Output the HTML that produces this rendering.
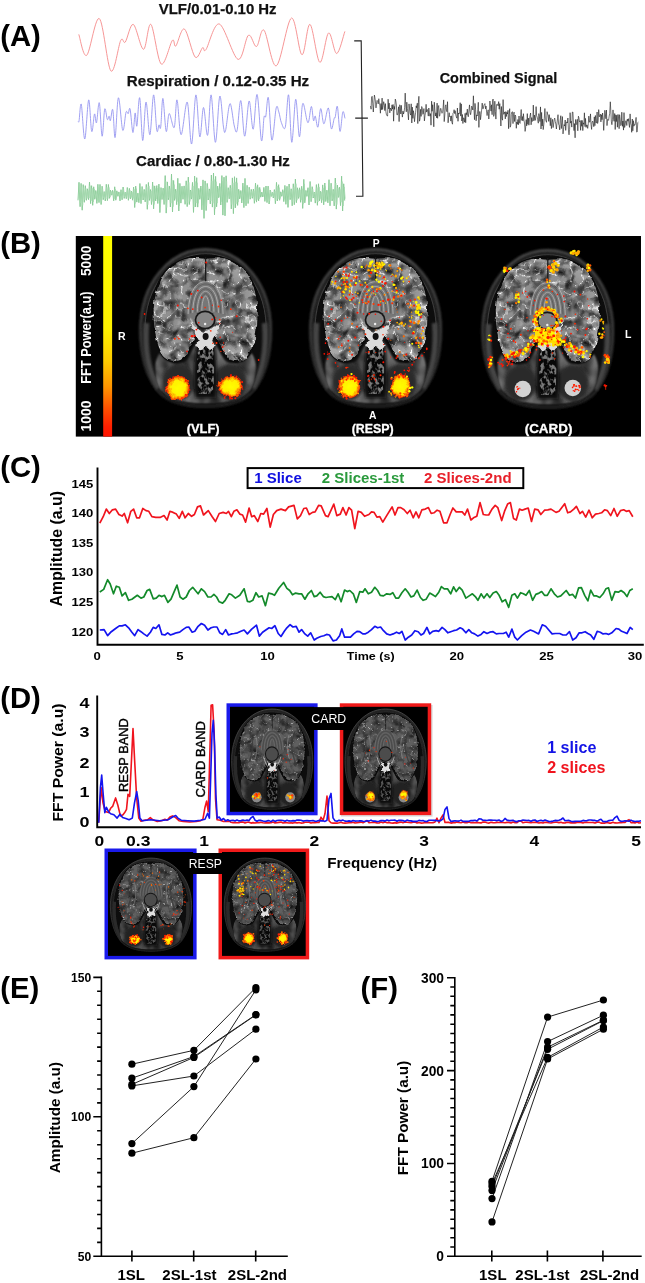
<!DOCTYPE html>
<html lang="en"><head><meta charset="utf-8"><title>Figure</title>
<style>html,body{margin:0;padding:0;background:#fff}body{width:645px;height:1283px;overflow:hidden}svg{display:block}text{font-family:"Liberation Sans",sans-serif}</style></head><body>
<svg width="645" height="1283" viewBox="0 0 645 1283">
<defs>
<linearGradient id="cb" x1="0" y1="0" x2="0" y2="1"><stop offset="0" stop-color="#ffff00"/><stop offset="0.46" stop-color="#fff200"/><stop offset="0.62" stop-color="#ffcc00"/><stop offset="0.75" stop-color="#ff9600"/><stop offset="0.86" stop-color="#ff5000"/><stop offset="0.95" stop-color="#ff2000"/><stop offset="1" stop-color="#ff1400"/></linearGradient>
<filter id="btex" x="-0.05" y="-0.05" width="1.1" height="1.1" color-interpolation-filters="sRGB"><feTurbulence type="turbulence" baseFrequency="0.085 0.085" numOctaves="2" seed="12" result="n"/><feColorMatrix in="n" type="matrix" values="-7 0 0 0 0.9  -7 0 0 0 0.9  -7 0 0 0 0.9  0 0 0 0 1" result="ridge"/><feTurbulence type="fractalNoise" baseFrequency="0.11 0.11" numOctaves="2" seed="5" result="n2"/><feColorMatrix in="n2" type="matrix" values="1.9 0 0 0 -0.22  1.9 0 0 0 -0.22  1.9 0 0 0 -0.22  0 0 0 0 1" result="g2"/><feComposite in="g2" in2="SourceGraphic" operator="arithmetic" k1="1.1" k2="0.0" k3="0.12" k4="0" result="m0"/><feComposite in="ridge" in2="m0" operator="arithmetic" k1="0" k2="0.42" k3="1" k4="0" result="m1"/><feGaussianBlur in="m1" stdDeviation="0.5" result="m"/><feComposite in="m" in2="SourceGraphic" operator="in"/></filter>
<filter id="dtex" x="-0.05" y="-0.05" width="1.1" height="1.1" color-interpolation-filters="sRGB"><feTurbulence type="turbulence" baseFrequency="0.09 0.09" numOctaves="2" seed="21" result="n"/><feColorMatrix in="n" type="matrix" values="-8 0 0 0 0.8  -8 0 0 0 0.8  -8 0 0 0 0.8  0 0 0 0 1" result="ridge"/><feTurbulence type="fractalNoise" baseFrequency="0.1 0.1" numOctaves="2" seed="15" result="n2"/><feColorMatrix in="n2" type="matrix" values="1.5 0 0 0 0.05  1.5 0 0 0 0.05  1.5 0 0 0 0.05  0 0 0 0 1" result="g2"/><feComposite in="g2" in2="SourceGraphic" operator="arithmetic" k1="1.1" k2="0.0" k3="0.1" k4="0" result="m0"/><feComposite in="ridge" in2="m0" operator="arithmetic" k1="0" k2="0.36" k3="1" k4="0" result="m1"/><feGaussianBlur in="m1" stdDeviation="0.5" result="m"/><feComposite in="m" in2="SourceGraphic" operator="in"/></filter>
<filter id="ftex" x="-0.05" y="-0.05" width="1.1" height="1.1" color-interpolation-filters="sRGB"><feTurbulence type="fractalNoise" baseFrequency="0.07 0.05" numOctaves="2" seed="3" result="n"/><feColorMatrix in="n" type="matrix" values="2.2 0 0 0 -0.55  2.2 0 0 0 -0.55  2.2 0 0 0 -0.55  0 0 0 0 1" result="g"/><feGaussianBlur in="SourceGraphic" stdDeviation="1.0" result="sg"/><feComposite in="g" in2="sg" operator="arithmetic" k1="1.0" k2="0" k3="0.45" k4="0" result="m"/><feComposite in="m" in2="sg" operator="in"/></filter>
<filter id="ntex" x="-0.1" y="-0.05" width="1.2" height="1.1" color-interpolation-filters="sRGB"><feTurbulence type="fractalNoise" baseFrequency="0.3 0.22" numOctaves="2" seed="9" result="n"/><feColorMatrix in="n" type="matrix" values="4.5 0 0 0 -2.0  4.5 0 0 0 -2.0  4.5 0 0 0 -2.0  0 0 0 0 1" result="g"/><feGaussianBlur in="g" stdDeviation="0.5" result="gb"/><feComposite in="gb" in2="SourceGraphic" operator="in"/></filter>
<filter id="rough" x="-0.1" y="-0.1" width="1.2" height="1.2"><feTurbulence type="fractalNoise" baseFrequency="0.12" numOctaves="2" seed="2" result="t"/><feDisplacementMap in="SourceGraphic" in2="t" scale="5" xChannelSelector="R" yChannelSelector="G"/><feGaussianBlur stdDeviation="0.4"/></filter>
<filter id="rough2" x="-0.2" y="-0.2" width="1.4" height="1.4"><feTurbulence type="fractalNoise" baseFrequency="0.2" numOctaves="2" seed="8" result="t"/><feDisplacementMap in="SourceGraphic" in2="t" scale="6" xChannelSelector="R" yChannelSelector="G"/><feGaussianBlur stdDeviation="0.35"/></filter>
<filter id="bl1" x="-0.2" y="-0.2" width="1.4" height="1.4"><feGaussianBlur stdDeviation="0.8"/></filter>
<filter id="bl2" x="-0.3" y="-0.3" width="1.6" height="1.6"><feGaussianBlur stdDeviation="1.6"/></filter>
<filter id="bl05" x="-0.2" y="-0.2" width="1.4" height="1.4"><feGaussianBlur stdDeviation="0.45"/></filter>
<radialGradient id="bg" cx="0" cy="-20" r="56" gradientUnits="userSpaceOnUse"><stop offset="0" stop-color="#747474"/><stop offset="0.7" stop-color="#767676"/><stop offset="1" stop-color="#8a8a8a"/></radialGradient>
<linearGradient id="scg" gradientUnits="userSpaceOnUse" x1="0" y1="-79" x2="0" y2="79"><stop offset="0" stop-color="#5c5c5c"/><stop offset="0.55" stop-color="#484848"/><stop offset="1" stop-color="#2a2a2a"/></linearGradient>
<linearGradient id="scgD" gradientUnits="userSpaceOnUse" x1="0" y1="-79" x2="0" y2="79"><stop offset="0" stop-color="#444"/><stop offset="0.55" stop-color="#363636"/><stop offset="1" stop-color="#222"/></linearGradient>
<linearGradient id="scf" gradientUnits="userSpaceOnUse" x1="0" y1="-79" x2="0" y2="79"><stop offset="0" stop-color="#242424"/><stop offset="0.5" stop-color="#1e1e1e"/><stop offset="1" stop-color="#141414"/></linearGradient>
<radialGradient id="hot" cx="0.5" cy="0.5" r="0.5"><stop offset="0" stop-color="#ffff00"/><stop offset="0.62" stop-color="#fff000"/><stop offset="0.8" stop-color="#ffa000"/><stop offset="1" stop-color="#ff2000" stop-opacity="0.9"/></radialGradient>
<g id="brainbase"><path d="M0,-79C36,-79 65.5,-45 65.5,2C65.5,30 58,50 49,62C41,72 25,79 0,79C-25,79 -41,72 -49,62C-58,50 -65.5,30 -65.5,2C-65.5,-45 -36,-79 0,-79Z" fill="url(#scf)" stroke="url(#scg)" stroke-width="1.5" filter="url(#bl1)"/><path d="M0,-79C36,-79 65.5,-45 65.5,2C65.5,30 58,50 49,62C41,72 25,79 0,79C-25,79 -41,72 -49,62C-58,50 -65.5,30 -65.5,2C-65.5,-45 -36,-79 0,-79Z" transform="scale(0.925 0.94)" fill="#0a0a0a" stroke="#3c3c3c" stroke-width="1.2" filter="url(#bl1)"/><path d="M-59,-5C-61,20 -57,44 -47,60M59,-5C61,20 57,44 47,60" fill="none" stroke="#444" stroke-width="5.5" filter="url(#bl1)"/><path d="M-46,24C-40,34 -28,38 -20,32C-15,26 -12,16 -8,12H8C12,16 15,26 20,32C28,38 40,34 46,24C54,34 52,52 46,62C38,72 22,76 0,76C-22,76 -38,72 -46,62C-52,52 -54,34 -46,24Z" fill="#4c4c4c" filter="url(#ftex)"/><ellipse cx="-27" cy="54" rx="16" ry="18" fill="#2a2a2a" filter="url(#bl2)"/><ellipse cx="25" cy="54" rx="16" ry="18" fill="#2a2a2a" filter="url(#bl2)"/><path d="M-9,14H9C11,30 13,50 10,70H-10C-13,50 -11,30 -9,14Z" fill="#101010" filter="url(#bl2)"/><g filter="url(#bl05)"><path d="M-7,18H7C9,30 9,50 7,66H-7C-9,50 -9,30 -7,18Z" fill="#fff" filter="url(#ntex)" opacity="0.45"/></g><path d="M0,-70C12,-73 30,-69 41,-55C50,-43 53,-25 52,-8C51,8 48,20 42,28C37,34 28,35 22,30C17,25 14,17 11,9C8,5 4,6 0,6C-4,6 -8,5 -11,9C-14,17 -17,25 -22,30C-28,35 -37,34 -42,28C-48,20 -51,8 -52,-8C-53,-25 -50,-43 -41,-55C-30,-69 -12,-73 0,-70Z" fill="#0a0a0a" stroke="#0a0a0a" stroke-width="2.5"/><g filter="url(#rough)"><path d="M0,-70C12,-73 30,-69 41,-55C50,-43 53,-25 52,-8C51,8 48,20 42,28C37,34 28,35 22,30C17,25 14,17 11,9C8,5 4,6 0,6C-4,6 -8,5 -11,9C-14,17 -17,25 -22,30C-28,35 -37,34 -42,28C-48,20 -51,8 -52,-8C-53,-25 -50,-43 -41,-55C-30,-69 -12,-73 0,-70Z" fill="url(#bg)" filter="url(#btex)"/></g><path d="M0,-71V-46" stroke="#1a1a1a" stroke-width="1.3" fill="none"/><path d="M-36,-42C-30,-30 -31,-12 -37,4M36,-42C30,-30 31,-12 37,4" stroke="#555" stroke-width="2.2" fill="none" filter="url(#bl1)" opacity="0.8"/><path d="M-27,-38C-23,-25 -24,-10 -28,0M27,-38C23,-25 24,-10 28,0" stroke="#c8c8c8" stroke-width="1.2" fill="none" filter="url(#bl1)" opacity="0.7"/><path d="M-19,-12C-21,-30 -10,-45 0,-46C10,-45 21,-30 19,-12C12,-4 -12,-4 -19,-12Z" fill="#777" filter="url(#bl1)"/><path d="M-17.5,-14.0C-16.6,-43.2 -5.2,-46.4 0,-46.4C5.2,-46.4 16.6,-43.2 17.5,-14.0" fill="none" stroke="#cfcfcf" stroke-width="1.0" filter="url(#bl05)" opacity="0.6"/><path d="M-15.2,-14.6C-14.4,-40.7 -4.6,-44.0 0,-44.0C4.6,-44.0 14.4,-40.7 15.2,-14.6" fill="none" stroke="#4a4a4a" stroke-width="1.0" filter="url(#bl05)" opacity="0.6"/><path d="M-12.9,-15.2C-12.3,-38.2 -3.9,-41.5 0,-41.5C3.9,-41.5 12.3,-38.2 12.9,-15.2" fill="none" stroke="#cfcfcf" stroke-width="1.0" filter="url(#bl05)" opacity="0.6"/><path d="M-10.6,-15.7C-10.1,-35.7 -3.2,-39.1 0,-39.1C3.2,-39.1 10.1,-35.7 10.6,-15.7" fill="none" stroke="#4a4a4a" stroke-width="1.0" filter="url(#bl05)" opacity="0.6"/><path d="M-8.3,-16.3C-7.9,-33.1 -2.5,-36.7 0,-36.7C2.5,-36.7 7.9,-33.1 8.3,-16.3" fill="none" stroke="#cfcfcf" stroke-width="1.0" filter="url(#bl05)" opacity="0.6"/><path d="M-6,-16.9C-5.7,-30.6 -1.8,-34.3 0,-34.3C1.8,-34.3 5.7,-30.6 6,-16.9" fill="none" stroke="#4a4a4a" stroke-width="1.0" filter="url(#bl05)" opacity="0.6"/><path d="M-3.8,-17.4C-3.6,-28.2 -1.1,-32.0 0,-32.0C1.1,-32.0 3.6,-28.2 3.8,-17.4" fill="none" stroke="#cfcfcf" stroke-width="1.0" filter="url(#bl05)" opacity="0.6"/><path d="M-15,-8C-13,2 -10,8 -8,12L-10,19L-4,22L0,18L5,23L9,18L7,11C9,8 13,2 15,-8C10,0 4,4 0,4C-4,4 -10,0 -15,-8Z" fill="#dcdcdc" filter="url(#rough2)"/><ellipse cx="-0.5" cy="-8" rx="10.5" ry="9.5" fill="#161616"/><ellipse cx="-0.5" cy="-8" rx="8.8" ry="7.8" fill="#858585"/><circle cx="-0.5" cy="-4" r="1.2" fill="#eee"/><ellipse cx="0" cy="8.5" rx="3" ry="3.4" fill="#111"/></g>
<g id="brainD"><path d="M0,-79C36,-79 65.5,-45 65.5,2C65.5,30 58,50 49,62C41,72 25,79 0,79C-25,79 -41,72 -49,62C-58,50 -65.5,30 -65.5,2C-65.5,-45 -36,-79 0,-79Z" fill="url(#scf)" stroke="url(#scgD)" stroke-width="1.5" filter="url(#bl1)"/><path d="M0,-79C36,-79 65.5,-45 65.5,2C65.5,30 58,50 49,62C41,72 25,79 0,79C-25,79 -41,72 -49,62C-58,50 -65.5,30 -65.5,2C-65.5,-45 -36,-79 0,-79Z" transform="scale(0.925 0.94)" fill="#080808" stroke="#2c2c2c" stroke-width="1.2" filter="url(#bl1)"/><path d="M-59,-5C-61,20 -57,44 -47,60M59,-5C61,20 57,44 47,60" fill="none" stroke="#2a2a2a" stroke-width="5.5" filter="url(#bl1)"/><path d="M-46,24C-40,34 -28,38 -20,32C-15,26 -12,16 -8,12H8C12,16 15,26 20,32C28,38 40,34 46,24C54,34 52,52 46,62C38,72 22,76 0,76C-22,76 -38,72 -46,62C-52,52 -54,34 -46,24Z" fill="#383838" filter="url(#ftex)"/><ellipse cx="-27" cy="54" rx="16" ry="18" fill="#222" filter="url(#bl2)"/><ellipse cx="25" cy="54" rx="16" ry="18" fill="#222" filter="url(#bl2)"/><path d="M-9,14H9C11,30 13,50 10,70H-10C-13,50 -11,30 -9,14Z" fill="#101010" filter="url(#bl2)"/><g filter="url(#bl05)"><path d="M-7,18H7C9,30 9,50 7,66H-7C-9,50 -9,30 -7,18Z" fill="#fff" filter="url(#ntex)" opacity="0.3"/></g><path d="M0,-70C12,-73 30,-69 41,-55C50,-43 53,-25 52,-8C51,8 48,20 42,28C37,34 28,35 22,30C17,25 14,17 11,9C8,5 4,6 0,6C-4,6 -8,5 -11,9C-14,17 -17,25 -22,30C-28,35 -37,34 -42,28C-48,20 -51,8 -52,-8C-53,-25 -50,-43 -41,-55C-30,-69 -12,-73 0,-70Z" fill="#0a0a0a" stroke="#0a0a0a" stroke-width="2.5"/><g filter="url(#rough)"><path d="M0,-70C12,-73 30,-69 41,-55C50,-43 53,-25 52,-8C51,8 48,20 42,28C37,34 28,35 22,30C17,25 14,17 11,9C8,5 4,6 0,6C-4,6 -8,5 -11,9C-14,17 -17,25 -22,30C-28,35 -37,34 -42,28C-48,20 -51,8 -52,-8C-53,-25 -50,-43 -41,-55C-30,-69 -12,-73 0,-70Z" fill="#4e4e4e" stroke="#9a9a9a" stroke-width="0.8" stroke-dasharray="3 1.4" filter="url(#dtex)"/></g><path d="M0,-71V-46" stroke="#1a1a1a" stroke-width="1.3" fill="none"/><path d="M-36,-42C-30,-30 -31,-12 -37,4M36,-42C30,-30 31,-12 37,4" stroke="#3a3a3a" stroke-width="2.2" fill="none" filter="url(#bl1)" opacity="0.8"/><path d="M-27,-38C-23,-25 -24,-10 -28,0M27,-38C23,-25 24,-10 28,0" stroke="#999" stroke-width="1.2" fill="none" filter="url(#bl1)" opacity="0.7"/><path d="M-19,-12C-21,-30 -10,-45 0,-46C10,-45 21,-30 19,-12C12,-4 -12,-4 -19,-12Z" fill="#555" filter="url(#bl1)"/><path d="M-17.5,-14.0C-16.6,-43.2 -5.2,-46.4 0,-46.4C5.2,-46.4 16.6,-43.2 17.5,-14.0" fill="none" stroke="#8a8a8a" stroke-width="1.0" filter="url(#bl05)" opacity="0.6"/><path d="M-15.2,-14.6C-14.4,-40.7 -4.6,-44.0 0,-44.0C4.6,-44.0 14.4,-40.7 15.2,-14.6" fill="none" stroke="#3a3a3a" stroke-width="1.0" filter="url(#bl05)" opacity="0.6"/><path d="M-12.9,-15.2C-12.3,-38.2 -3.9,-41.5 0,-41.5C3.9,-41.5 12.3,-38.2 12.9,-15.2" fill="none" stroke="#8a8a8a" stroke-width="1.0" filter="url(#bl05)" opacity="0.6"/><path d="M-10.6,-15.7C-10.1,-35.7 -3.2,-39.1 0,-39.1C3.2,-39.1 10.1,-35.7 10.6,-15.7" fill="none" stroke="#3a3a3a" stroke-width="1.0" filter="url(#bl05)" opacity="0.6"/><path d="M-8.3,-16.3C-7.9,-33.1 -2.5,-36.7 0,-36.7C2.5,-36.7 7.9,-33.1 8.3,-16.3" fill="none" stroke="#8a8a8a" stroke-width="1.0" filter="url(#bl05)" opacity="0.6"/><path d="M-6,-16.9C-5.7,-30.6 -1.8,-34.3 0,-34.3C1.8,-34.3 5.7,-30.6 6,-16.9" fill="none" stroke="#3a3a3a" stroke-width="1.0" filter="url(#bl05)" opacity="0.6"/><path d="M-3.8,-17.4C-3.6,-28.2 -1.1,-32.0 0,-32.0C1.1,-32.0 3.6,-28.2 3.8,-17.4" fill="none" stroke="#8a8a8a" stroke-width="1.0" filter="url(#bl05)" opacity="0.6"/><path d="M-8,4C-6,9 -5,14 -6,18L0,20L6,18C5,14 6,9 8,4C4,7 -4,7 -8,4Z" fill="#e0e0e0" filter="url(#rough2)"/><path d="M-14,-4C-12,4 -9,9 -7,12M14,-4C12,4 9,9 7,12" stroke="#ccc" stroke-width="1.1" fill="none" filter="url(#bl05)"/><ellipse cx="-0.5" cy="-8" rx="11.299999999999999" ry="12.2" fill="#161616"/><ellipse cx="-0.5" cy="-8" rx="9.6" ry="10.5" fill="#4c4c4c"/><ellipse cx="0" cy="8.5" rx="3" ry="3.4" fill="#111"/></g>
</defs>
<rect width="645" height="1283" fill="#fff"/>
<text x="0.2" y="46.1" font-size="29.3" font-weight="bold">(A)</text>
<text x="0.2" y="253.3" font-size="29.3" font-weight="bold">(B)</text>
<text x="0.2" y="477.3" font-size="29.3" font-weight="bold">(C)</text>
<text x="0.2" y="707.5" font-size="29.3" font-weight="bold">(D)</text>
<text x="0.2" y="997.5" font-size="29.3" font-weight="bold">(E)</text>
<text x="360.6" y="997.5" font-size="29.3" font-weight="bold">(F)</text>
<path d="M78.8,34.4C80.1,37.9 83.3,57.9 86.7,55.3C90.1,52.7 95.3,16.0 99.3,18.6C103.3,21.2 107.3,67.2 110.9,70.9C114.5,74.6 118.3,45.3 120.7,40.5C123.1,35.7 123.2,44.7 125.3,42.0C127.4,39.3 130.3,23.2 133.3,24.4C136.3,25.6 140.6,49.3 143.5,49.3C146.4,49.3 148.0,21.9 150.9,24.4C153.8,26.8 157.6,61.3 161.2,64.0C164.8,66.7 169.9,43.5 172.3,40.5C174.7,37.5 173.8,47.9 175.8,46.0C177.8,44.1 181.2,27.2 184.4,29.0C187.6,30.8 192.1,53.9 195.1,57.0C198.1,60.1 200.8,49.0 202.6,47.7C204.4,46.5 203.2,53.5 206.0,49.5C208.8,45.5 214.0,22.4 219.3,24.0C224.6,25.6 233.1,57.4 237.9,59.3C242.8,61.2 245.3,37.4 248.4,35.3C251.5,33.2 253.9,47.4 256.5,46.5C259.1,45.6 260.7,27.0 264.0,30.2C267.3,33.4 271.7,67.8 276.3,65.8C280.9,63.8 287.1,19.9 291.4,18.1C295.7,16.3 298.8,53.7 301.9,54.7C305.0,55.8 307.0,23.1 310.0,24.4C313.0,25.7 316.7,60.9 319.8,62.3C322.9,63.7 325.8,34.5 328.6,33.0C331.4,31.5 334.0,53.8 336.7,53.5C339.4,53.2 343.5,35.1 344.9,31.4" fill="none" stroke="#f58a8a" stroke-width="0.9"/>
<path d="M78.2,121.6C78.4,121.5 78.6,123.5 79.1,120.6C79.6,117.7 80.3,101.2 81.3,104.3C82.2,107.4 83.5,139.7 84.8,139.0C86.0,138.3 87.5,101.2 88.7,99.9C89.8,98.7 90.7,129.1 91.7,131.4C92.7,133.8 93.7,115.5 94.5,114.0C95.3,112.6 95.7,124.6 96.5,122.7C97.3,120.8 98.4,100.5 99.3,102.8C100.2,105.0 101.2,135.1 102.1,136.2C103.0,137.2 103.9,111.8 104.7,109.1C105.6,106.3 106.6,118.3 107.3,119.5C108.1,120.7 108.6,116.0 109.1,116.2C109.6,116.4 109.8,121.6 110.4,120.6C111.0,119.5 112.0,106.9 112.8,109.7C113.6,112.5 114.2,139.5 115.1,137.5C116.1,135.5 117.1,99.0 118.4,97.8C119.7,96.6 121.5,127.9 122.7,130.3C124.0,132.8 125.1,115.1 126.0,112.3C126.9,109.5 127.5,114.2 128.2,113.6C128.9,113.1 129.3,105.9 130.1,109.1C130.9,112.2 132.1,131.8 132.9,132.5C133.8,133.1 134.5,114.0 135.1,113.0C135.8,111.9 136.1,128.5 136.9,126.0C137.6,123.5 138.7,95.3 139.7,97.8C140.7,100.2 141.7,139.8 142.7,140.5C143.8,141.3 144.8,103.1 146.0,102.1C147.2,101.1 148.6,135.9 149.9,134.7C151.1,133.5 152.4,95.7 153.6,94.9C154.7,94.2 155.9,125.3 156.8,130.3C157.7,135.3 158.3,125.4 159.0,124.9C159.6,124.4 160.1,131.5 160.7,127.1C161.4,122.7 162.0,97.7 162.9,98.4C163.8,99.1 165.1,128.9 166.2,131.4C167.2,133.9 167.9,114.3 169.2,113.6C170.5,113.0 172.9,129.8 174.2,127.5C175.5,125.2 175.9,98.7 177.0,99.9C178.2,101.1 179.4,134.3 181.1,134.7C182.8,135.0 185.5,100.6 187.2,102.1C188.9,103.7 190.1,145.2 191.6,144.0C193.0,142.8 194.5,96.1 195.9,94.9C197.3,93.8 198.5,134.7 199.8,136.8C201.1,138.9 202.2,107.8 203.5,107.5C204.8,107.3 206.3,137.4 207.6,135.3C208.9,133.2 209.8,93.8 211.1,94.9C212.4,96.1 214.0,142.0 215.4,142.3C216.9,142.5 218.4,98.8 219.8,96.2C221.1,93.7 222.5,121.4 223.5,127.1C224.4,132.8 224.5,134.2 225.6,130.3C226.7,126.4 228.5,104.4 230.0,103.6C231.4,102.9 233.1,121.5 234.3,126.0C235.5,130.4 236.0,134.6 237.1,130.3C238.2,126.1 239.5,99.6 240.8,100.6C242.1,101.6 243.3,136.1 244.7,136.2C246.1,136.3 247.7,102.2 249.1,101.0C250.5,99.9 251.8,130.3 253.2,129.2C254.5,128.2 255.7,92.6 257.1,94.5C258.5,96.4 260.3,136.7 261.4,140.5C262.6,144.3 263.3,121.4 264.0,117.3C264.8,113.3 265.1,119.5 265.8,116.2C266.5,113.0 267.4,93.8 268.4,97.8C269.4,101.7 270.6,138.4 271.9,140.1C273.2,141.8 275.0,112.7 276.2,108.0C277.4,103.3 277.9,109.4 278.8,111.9C279.7,114.3 280.3,120.2 281.4,122.7C282.5,125.3 284.1,131.7 285.3,127.1C286.5,122.4 287.5,92.4 288.6,94.9C289.7,97.5 290.6,141.5 291.8,142.3C293.0,143.0 294.5,100.2 295.7,99.3C297.0,98.4 298.3,136.1 299.4,136.8C300.6,137.6 301.4,106.3 302.7,103.6C303.9,100.9 306.0,117.7 307.0,120.6C308.0,123.5 308.0,123.3 308.8,121.0C309.5,118.6 310.6,106.5 311.4,106.5C312.2,106.4 312.9,118.9 313.5,120.6C314.2,122.2 314.5,115.1 315.3,116.2C316.0,117.3 317.0,128.3 317.9,127.1C318.8,125.8 319.7,109.2 320.7,108.6C321.7,108.1 322.7,123.9 323.9,123.8C325.2,123.7 327.1,107.1 328.3,108.0C329.5,108.8 330.4,127.1 331.3,128.8C332.3,130.5 333.5,120.3 334.2,118.4C334.8,116.5 334.7,119.3 335.2,117.3C335.8,115.3 336.6,104.1 337.4,106.5C338.2,108.8 339.1,130.5 340.0,131.4C340.9,132.3 342.0,114.0 342.8,111.9C343.7,109.7 344.6,117.3 345.0,118.4" fill="none" stroke="#8f8ff0" stroke-width="0.85"/>
<polyline points="78.0,200.3 79.0,182.3 80.1,206.7 81.1,183.4 82.2,210.2 83.2,184.6 84.3,202.3 85.3,185.7 86.4,200.3 87.4,188.8 88.5,199.6 89.5,182.0 90.6,203.6 91.6,185.7 92.7,205.3 93.7,186.8 94.8,199.3 95.8,190.5 96.9,203.4 97.9,184.3 99.0,202.6 100.0,184.4 101.1,204.5 102.1,186.2 103.2,199.7 104.2,191.6 105.3,201.0 106.3,184.3 107.4,200.6 108.4,184.5 109.5,198.3 110.5,190.2 111.6,195.2 112.6,190.3 113.7,200.8 114.7,186.8 115.8,200.2 116.8,190.8 117.9,196.3 118.9,191.9 120.0,200.9 121.0,189.7 122.1,199.8 123.1,187.0 124.2,198.4 125.2,192.2 126.3,198.7 127.3,187.5 128.4,200.3 129.4,188.4 130.5,198.8 131.5,191.2 132.6,200.2 133.6,187.1 134.7,207.5 135.7,186.1 136.8,202.1 137.8,193.2 138.9,202.7 139.9,183.5 141.0,203.6 142.1,186.5 143.1,200.0 144.2,189.4 145.2,201.9 146.3,184.4 147.3,209.3 148.4,182.5 149.4,200.4 150.5,189.6 151.5,204.5 152.6,182.0 153.6,208.8 154.7,185.9 155.7,201.0 156.8,185.6 157.8,203.5 158.9,184.1 159.9,212.6 161.0,187.6 162.0,199.5 163.1,188.1 164.1,204.5 165.2,175.6 166.2,213.1 167.3,181.9 168.3,199.8 169.4,186.1 170.4,207.0 171.5,174.1 172.5,212.0 173.6,180.5 174.6,200.4 175.7,189.2 176.7,204.7 177.8,178.3 178.8,211.0 179.9,183.4 180.9,203.1 182.0,186.2 183.0,199.3 184.1,185.9 185.1,204.3 186.2,180.8 187.2,206.6 188.3,177.1 189.3,204.5 190.4,190.0 191.4,199.1 192.5,182.4 193.5,212.4 194.6,176.1 195.6,206.9 196.7,177.7 197.7,207.1 198.8,188.4 199.8,199.3 200.9,186.0 201.9,209.8 203.0,179.9 204.0,218.4 205.1,180.9 206.1,210.6 207.2,183.4 208.2,200.0 209.3,188.9 210.3,203.9 211.4,175.0 212.4,207.1 213.5,173.0 214.5,214.8 215.6,176.4 216.6,206.8 217.7,186.1 218.7,197.7 219.8,183.4 220.8,205.0 221.9,175.6 222.9,215.1 224.0,177.2 225.0,215.8 226.1,175.8 227.1,202.4 228.2,187.7 229.2,198.8 230.3,185.3 231.3,208.9 232.4,177.9 233.4,213.6 234.5,176.7 235.5,207.8 236.6,177.9 237.6,205.4 238.7,189.3 239.7,198.9 240.8,190.5 241.8,203.0 242.9,183.1 243.9,207.6 245.0,178.4 246.0,205.8 247.1,185.3 248.1,203.5 249.2,187.2 250.2,199.2 251.3,189.4 252.3,198.3 253.4,189.1 254.4,203.3 255.5,183.2 256.5,202.1 257.6,184.8 258.6,200.9 259.7,187.4 260.7,197.2 261.8,192.1 262.8,197.0 263.9,187.4 264.9,201.4 266.0,186.0 267.0,202.6 268.1,186.1 269.1,204.0 270.2,190.1 271.2,196.5 272.3,192.3 273.3,198.0 274.4,189.6 275.4,203.7 276.5,182.4 277.5,200.9 278.6,184.7 279.6,200.3 280.7,191.8 281.7,196.3 282.8,189.7 283.8,201.6 284.9,185.4 285.9,204.3 287.0,186.3 288.0,207.4 289.1,184.0 290.1,199.7 291.2,188.8 292.2,205.8 293.3,183.8 294.3,204.7 295.4,179.1 296.4,202.7 297.5,187.8 298.5,198.4 299.6,187.8 300.6,202.3 301.7,186.3 302.7,208.4 303.8,179.4 304.8,202.8 305.9,190.4 306.9,196.4 308.0,187.7 309.0,205.0 310.1,181.5 311.1,201.7 312.2,186.7 313.2,198.0 314.3,192.0 315.3,203.1 316.4,184.6 317.4,205.3 318.5,183.8 319.5,200.8 320.6,191.3 321.6,202.7 322.7,184.9 323.7,204.8 324.8,183.0 325.8,201.5 326.9,190.1 327.9,202.8 329.0,179.7 330.0,205.8 331.1,183.2 332.1,200.9 333.2,189.3 334.2,205.9 335.3,178.1 336.3,209.1 337.4,185.0 338.4,197.4 339.5,187.2 340.5,205.6 341.6,176.2 342.6,211.0 343.7,183.8 344.7,200.6" fill="none" stroke="#8acc97" stroke-width="1.0" stroke-linejoin="round"/>
<polyline points="78.5,198.5 79.5,185.9 80.6,203.0 81.6,186.7 82.7,205.4 83.7,187.5 84.8,199.9 85.8,188.3 86.9,198.5 87.9,190.4 89.0,198.0 90.0,185.7 91.1,200.8 92.1,188.3 93.2,202.0 94.2,189.0 95.3,197.8 96.3,191.7 97.4,200.7 98.4,187.3 99.5,200.1 100.5,187.4 101.6,201.4 102.6,188.7 103.7,198.1 104.7,192.4 105.8,199.0 106.8,187.3 107.9,198.7 108.9,187.4 110.0,197.1 111.0,191.4 112.1,194.9 113.1,191.5 114.2,198.8 115.2,189.0 116.3,198.4 117.3,191.8 118.4,195.7 119.4,192.7 120.5,198.9 121.5,191.1 122.6,198.1 123.6,189.2 124.7,197.2 125.7,192.8 126.8,197.4 127.8,189.6 128.9,198.5 129.9,190.2 131.0,197.5 132.0,192.1 133.1,198.4 134.1,189.3 135.2,203.5 136.2,188.6 137.3,199.8 138.3,193.5 139.4,200.2 140.4,186.8 141.5,200.8 142.6,188.8 143.6,198.3 144.7,190.9 145.7,199.6 146.8,187.3 147.8,204.8 148.9,186.1 149.9,198.6 151.0,191.0 152.0,201.5 153.1,185.7 154.1,204.4 155.2,188.4 156.2,199.0 157.3,188.2 158.3,200.7 159.4,187.1 160.4,207.1 161.5,189.6 162.5,198.0 163.6,190.0 164.6,201.4 165.7,181.2 166.7,207.5 167.8,185.6 168.8,198.1 169.9,188.6 170.9,203.2 172.0,180.2 173.0,206.7 174.1,184.6 175.1,198.6 176.2,190.8 177.2,201.6 178.3,183.1 179.3,206.0 180.4,186.7 181.4,200.4 182.5,188.6 183.5,197.8 184.6,188.4 185.6,201.3 186.7,184.8 187.7,202.9 188.8,182.3 189.8,201.5 190.9,191.3 191.9,197.6 193.0,186.0 194.0,207.0 195.1,181.5 196.1,203.1 197.2,182.7 198.2,203.3 199.3,190.2 200.3,197.8 201.4,188.5 202.4,205.2 203.5,184.2 204.5,211.2 205.6,184.9 206.6,205.7 207.7,186.7 208.7,198.3 209.8,190.5 210.8,201.0 211.9,180.8 212.9,203.3 214.0,179.4 215.0,208.7 216.1,181.7 217.1,203.1 218.2,188.6 219.2,196.7 220.3,186.7 221.3,201.8 222.4,181.2 223.4,208.8 224.5,182.4 225.5,209.4 226.6,181.3 227.6,200.0 228.7,189.7 229.7,197.5 230.8,188.0 231.8,204.5 232.9,182.8 233.9,207.8 235.0,181.9 236.0,203.8 237.1,182.8 238.1,202.1 239.2,190.8 240.2,197.5 241.3,191.6 242.3,200.4 243.4,186.4 244.4,203.6 245.5,183.2 246.5,202.4 247.6,188.0 248.6,200.8 249.7,189.4 250.7,197.7 251.8,190.9 252.8,197.1 253.9,190.7 254.9,200.6 256.0,186.6 257.0,199.7 258.1,187.7 259.1,198.9 260.2,189.5 261.2,196.3 262.3,192.8 263.3,196.2 264.4,189.5 265.4,199.3 266.5,188.5 267.5,200.1 268.6,188.5 269.6,201.1 270.7,191.3 271.7,195.8 272.8,192.9 273.8,196.9 274.9,191.0 275.9,200.9 277.0,186.0 278.0,198.9 279.1,187.6 280.1,198.5 281.2,192.6 282.2,195.7 283.3,191.1 284.3,199.4 285.4,188.1 286.4,201.3 287.5,188.7 288.5,203.5 289.6,187.1 290.6,198.1 291.7,190.5 292.7,202.3 293.8,186.9 294.8,201.6 295.9,183.7 296.9,200.2 298.0,189.8 299.0,197.2 300.1,189.7 301.1,199.9 302.2,188.7 303.2,204.2 304.3,183.9 305.3,200.2 306.4,191.6 307.4,195.8 308.5,189.7 309.5,201.8 310.6,185.3 311.6,199.5 312.7,189.0 313.7,196.9 314.8,192.7 315.8,200.5 316.9,187.5 317.9,202.0 319.0,187.0 320.0,198.8 321.1,192.2 322.1,200.2 323.2,187.8 324.2,201.7 325.3,186.4 326.3,199.4 327.4,191.4 328.4,200.2 329.5,184.1 330.5,202.4 331.6,186.6 332.6,198.9 333.7,190.8 334.7,202.4 335.8,183.0 336.8,204.7 337.9,187.8 338.9,196.5 340.0,189.4 341.0,202.2 342.1,181.6 343.1,206.0 344.2,186.9 345.2,198.7" fill="none" stroke="#a6d9b0" stroke-width="0.8" stroke-linejoin="round"/>
<polyline points="370.5,106.0 371.1,109.2 371.6,96.9 372.2,96.3 372.7,103.8 373.3,112.0 373.8,104.2 374.4,95.1 374.9,97.5 375.5,101.9 376.0,107.9 376.6,102.4 377.1,100.4 377.7,101.4 378.2,103.9 378.8,98.7 379.3,103.2 379.9,105.0 380.4,113.2 381.0,103.5 381.5,109.7 382.1,98.1 382.6,109.5 383.2,105.6 383.7,101.7 384.3,104.9 384.8,110.6 385.4,103.6 385.9,111.8 386.5,114.9 387.0,115.8 387.6,116.0 388.1,99.2 388.7,108.9 389.2,103.1 389.8,112.9 390.3,108.0 390.9,109.2 391.4,110.8 392.0,104.8 392.5,109.1 393.1,104.5 393.6,121.2 394.2,106.4 394.7,109.4 395.3,99.1 395.8,101.0 396.4,105.0 396.9,114.8 397.5,114.8 398.0,112.1 398.6,106.8 399.1,121.6 399.7,104.8 400.2,105.9 400.8,114.0 401.3,105.3 401.9,112.9 402.4,117.1 403.0,111.1 403.5,114.0 404.1,111.9 404.6,107.8 405.2,93.1 405.7,104.6 406.3,111.8 406.8,102.2 407.4,108.6 407.9,113.2 408.5,119.9 409.0,103.9 409.6,108.9 410.1,113.3 410.7,115.1 411.2,103.8 411.8,123.0 412.3,107.1 412.9,118.4 413.4,110.7 414.0,114.3 414.5,121.7 415.1,116.0 415.6,112.5 416.2,105.8 416.7,107.8 417.3,103.2 417.8,123.6 418.4,102.4 418.9,96.3 419.5,121.2 420.0,119.0 420.6,109.3 421.1,116.4 421.7,106.5 422.2,107.9 422.8,114.3 423.3,113.6 423.9,108.6 424.4,120.9 425.0,115.6 425.5,112.1 426.1,104.3 426.6,112.1 427.2,109.4 427.7,110.9 428.3,116.1 428.8,108.0 429.4,113.0 429.9,116.2 430.5,113.6 431.0,125.2 431.6,101.2 432.1,111.3 432.7,104.7 433.2,111.4 433.8,126.8 434.3,102.2 434.9,110.3 435.4,116.0 436.0,112.8 436.5,117.8 437.1,103.1 437.6,118.3 438.2,106.9 438.7,105.5 439.3,116.2 439.8,115.8 440.4,108.7 440.9,108.3 441.5,112.1 442.0,113.3 442.6,112.5 443.1,107.6 443.7,99.9 444.2,121.6 444.8,115.0 445.3,106.6 445.9,104.8 446.4,110.1 447.0,111.8 447.5,101.7 448.1,122.8 448.6,117.1 449.2,112.7 449.7,116.8 450.3,116.1 450.8,121.1 451.4,115.8 451.9,122.4 452.5,124.2 453.0,113.1 453.6,112.3 454.1,109.7 454.7,113.6 455.2,110.7 455.8,115.1 456.3,116.8 456.9,118.2 457.4,108.0 458.0,121.3 458.5,113.0 459.1,114.1 459.6,111.6 460.2,102.7 460.7,116.1 461.3,103.9 461.8,121.0 462.4,114.5 462.9,123.5 463.5,117.9 464.0,118.1 464.6,122.2 465.1,113.4 465.7,122.7 466.2,112.7 466.8,114.8 467.3,109.1 467.9,116.2 468.4,116.8 469.0,109.7 469.5,104.9 470.1,112.2 470.6,114.7 471.2,111.1 471.7,106.1 472.3,107.4 472.8,110.0 473.4,95.8 473.9,107.8 474.5,119.7 475.0,103.4 475.6,109.6 476.1,120.8 476.7,114.9 477.2,116.0 477.8,109.5 478.3,102.3 478.9,127.4 479.4,111.9 480.0,111.4 480.5,119.7 481.1,114.7 481.6,110.1 482.2,103.1 482.7,108.7 483.3,108.7 483.8,105.5 484.4,104.4 484.9,103.6 485.5,108.8 486.0,106.0 486.6,112.0 487.1,115.6 487.7,111.5 488.2,109.8 488.8,119.0 489.3,113.7 489.9,101.0 490.4,105.6 491.0,111.1 491.5,104.8 492.1,114.7 492.6,99.8 493.2,99.0 493.7,116.4 494.3,114.1 494.8,101.2 495.4,111.4 495.9,119.1 496.5,104.6 497.0,104.3 497.6,104.3 498.1,105.9 498.7,101.6 499.2,109.2 499.8,103.6 500.3,112.8 500.9,126.0 501.4,106.5 502.0,118.4 502.5,120.2 503.1,99.6 503.6,114.2 504.2,113.7 504.7,111.9 505.3,118.9 505.8,111.6 506.4,116.5 506.9,112.3 507.5,114.0 508.0,110.3 508.6,128.7 509.1,114.9 509.7,108.7 510.2,127.2 510.8,125.1 511.3,114.6 511.9,112.0 512.4,111.7 513.0,123.6 513.5,114.3 514.1,112.1 514.6,121.5 515.2,115.0 515.7,116.4 516.3,128.3 516.8,122.0 517.4,124.3 517.9,119.5 518.5,124.7 519.0,116.0 519.6,122.9 520.1,123.4 520.7,114.7 521.2,109.5 521.8,120.4 522.3,116.5 522.9,120.9 523.4,113.7 524.0,120.5 524.5,123.0 525.1,131.4 525.6,128.0 526.2,119.6 526.7,125.9 527.3,113.6 527.8,124.3 528.4,118.1 528.9,125.2 529.5,119.3 530.0,115.9 530.6,113.0 531.1,124.8 531.7,117.6 532.2,121.5 532.8,120.2 533.3,105.1 533.9,120.9 534.4,115.1 535.0,119.7 535.5,120.3 536.1,106.6 536.6,115.6 537.2,117.1 537.7,119.8 538.3,123.2 538.8,113.6 539.4,116.3 539.9,121.5 540.5,106.9 541.0,129.0 541.6,112.4 542.1,126.0 542.7,119.1 543.2,129.6 543.8,124.6 544.3,118.3 544.9,108.5 545.4,119.6 546.0,120.9 546.5,122.3 547.1,111.7 547.6,114.4 548.1,114.9 548.7,121.4 549.2,114.6 549.8,119.3 550.3,125.7 550.9,117.8 551.4,128.6 552.0,122.5 552.5,119.4 553.1,127.6 553.6,124.2 554.2,119.7 554.7,118.1 555.3,121.5 555.8,124.0 556.4,129.0 556.9,123.9 557.5,118.8 558.0,114.7 558.6,124.4 559.1,125.3 559.7,129.9 560.2,120.2 560.8,115.7 561.3,128.6 561.9,122.7 562.4,116.6 563.0,133.9 563.5,129.4 564.1,124.6 564.6,126.0 565.2,120.0 565.7,130.4 566.3,122.0 566.8,122.0 567.4,123.0 567.9,118.0 568.5,131.0 569.0,134.8 569.6,129.4 570.1,112.7 570.7,123.1 571.2,121.1 571.8,127.1 572.3,112.1 572.9,112.0 573.4,122.1 574.0,130.6 574.5,123.6 575.1,137.8 575.6,119.5 576.2,124.7 576.7,123.5 577.3,119.3 577.8,130.8 578.4,116.2 578.9,117.7 579.5,121.7 580.0,120.9 580.6,130.3 581.1,120.3 581.7,126.3 582.2,120.4 582.8,130.6 583.3,122.8 583.9,124.3 584.4,112.8 585.0,126.6 585.5,118.4 586.1,127.4 586.6,125.0 587.2,125.0 587.7,128.4 588.3,123.7 588.8,116.1 589.4,122.1 589.9,122.1 590.5,113.9 591.0,124.5 591.6,129.4 592.1,122.0 592.7,121.1 593.2,123.1 593.8,126.7 594.3,116.9 594.9,125.7 595.4,115.5 596.0,123.0 596.5,122.8 597.1,112.0 597.6,123.5 598.2,120.9 598.7,109.6 599.3,116.8 599.8,115.7 600.4,114.1 600.9,121.9 601.5,114.7 602.0,119.7 602.6,113.0 603.1,117.9 603.7,130.4 604.2,122.0 604.8,110.3 605.3,114.0 605.9,118.8 606.4,110.0 607.0,125.6 607.5,119.6 608.1,119.5 608.6,120.4 609.2,116.1 609.7,113.4 610.3,101.8 610.8,110.8 611.4,121.9 611.9,124.7 612.5,119.6 613.0,109.9 613.6,119.0 614.1,121.3 614.7,113.5 615.2,129.5 615.8,114.8 616.3,121.6 616.9,115.2 617.4,127.2 618.0,114.4 618.5,116.6 619.1,128.7 619.6,114.7 620.2,119.1 620.7,125.6 621.3,124.6 621.8,112.2 622.4,126.3 622.9,121.0 623.5,130.1 624.0,112.6 624.6,127.5 625.1,125.4 625.7,120.9 626.2,120.6 626.8,125.5 627.3,119.1 627.9,121.2 628.4,118.7 629.0,124.1 629.5,127.4 630.1,113.9 630.6,123.5 631.2,125.2 631.7,132.3 632.3,119.0 632.8,130.8 633.4,120.7 633.9,126.2 634.5,124.6 635.0,124.9 635.6,121.2 636.1,117.4 636.7,132.1 637.2,131.8 637.8,122.5 638.3,122.1" fill="none" stroke="#1a1a1a" stroke-width="0.6" stroke-linejoin="round"/>
<path d="M354.2,40.9H361.2L362.9,196.2H356M355.2,118.1H367.9" fill="none" stroke="#222" stroke-width="1.1"/>
<text x="217.7" y="14" font-size="15.2" font-weight="bold" text-anchor="middle" fill="#111" textLength="117.8" lengthAdjust="spacingAndGlyphs" stroke="#111" stroke-width="0.25">VLF/0.01-0.10 Hz</text>
<text x="218" y="86.4" font-size="15.2" font-weight="bold" text-anchor="middle" fill="#111" textLength="182.3" lengthAdjust="spacingAndGlyphs" stroke="#111" stroke-width="0.25">Respiration / 0.12-0.35 Hz</text>
<text x="213" y="166" font-size="15.2" font-weight="bold" text-anchor="middle" fill="#111" textLength="153.8" lengthAdjust="spacingAndGlyphs" stroke="#111" stroke-width="0.25">Cardiac / 0.80-1.30 Hz</text>
<text x="498.5" y="83" font-size="15.2" font-weight="bold" text-anchor="middle" fill="#111" textLength="117.6" lengthAdjust="spacingAndGlyphs" stroke="#111" stroke-width="0.25">Combined Signal</text>
<rect x="75.8" y="236" width="565.2" height="200.6" fill="#000"/>
<rect x="103.2" y="236" width="8.9" height="200.6" fill="url(#cb)"/>
<text x="91" y="431.5" font-size="14.5" font-weight="bold" fill="#fff" textLength="31" lengthAdjust="spacingAndGlyphs" transform="rotate(-90 91 431.5)">1000</text>
<text x="91" y="383.8" font-size="14.5" font-weight="bold" fill="#fff" textLength="92.4" lengthAdjust="spacingAndGlyphs" transform="rotate(-90 91 383.8)">FFT Power(a.u)</text>
<text x="91" y="276.1" font-size="14.5" font-weight="bold" fill="#fff" textLength="30.6" lengthAdjust="spacingAndGlyphs" transform="rotate(-90 91 276.1)">5000</text>
<text x="121.8" y="340.2" font-size="10.5" font-weight="bold" text-anchor="middle" fill="#fff">R</text>
<text x="376.1" y="247.1" font-size="10.3" font-weight="bold" text-anchor="middle" fill="#fff">P</text>
<text x="372.7" y="418.9" font-size="10.3" font-weight="bold" text-anchor="middle" fill="#fff">A</text>
<text x="628.3" y="337.5" font-size="10.5" font-weight="bold" text-anchor="middle" fill="#fff">L</text>
<g transform="translate(205.6 328) scale(1.0 1.0)"><use href="#brainbase"/><ellipse cx="-27.7" cy="60" rx="11.8" ry="12.2" fill="url(#hot)" transform="rotate(0 -27.7 60)" filter="url(#rough2)"/><ellipse cx="24.9" cy="58.4" rx="12.2" ry="10.6" fill="url(#hot)" transform="rotate(0 24.9 58.4)" filter="url(#rough2)"/><circle cx="-35.4" cy="50.5" r="0.83" fill="#ff1800"/><circle cx="-27.8" cy="48.1" r="1.01" fill="#ff2a00"/><circle cx="-23.6" cy="70.2" r="1.09" fill="#ff2a00"/><circle cx="-21.4" cy="49.7" r="0.74" fill="#ff1800"/><circle cx="-38.9" cy="59.4" r="1.10" fill="#ff2a00"/><circle cx="-39.7" cy="59.9" r="0.69" fill="#ff1000"/><circle cx="-19.9" cy="66.7" r="0.93" fill="#ff1800"/><circle cx="-16.1" cy="61.8" r="0.87" fill="#ff1800"/><circle cx="-32.6" cy="50.1" r="0.95" fill="#ff1800"/><circle cx="-36.8" cy="54.3" r="0.73" fill="#ff2a00"/><circle cx="-38.0" cy="61.9" r="0.67" fill="#ff1000"/><circle cx="-17.1" cy="64.4" r="0.70" fill="#ff1800"/><circle cx="-16.6" cy="57.4" r="1.00" fill="#ff1000"/><circle cx="-19.8" cy="52.8" r="1.02" fill="#ff1000"/><circle cx="32.6" cy="51.3" r="0.68" fill="#ff1000"/><circle cx="26.4" cy="70.5" r="1.07" fill="#ff1800"/><circle cx="24.3" cy="70.9" r="0.70" fill="#ff2a00"/><circle cx="29.7" cy="70.2" r="1.02" fill="#ff1800"/><circle cx="15.2" cy="62.3" r="0.61" fill="#ff1000"/><circle cx="36.5" cy="54.1" r="1.05" fill="#ff1800"/><circle cx="15.1" cy="55.4" r="0.61" fill="#ff2a00"/><circle cx="19.0" cy="69.9" r="0.89" fill="#ff1800"/><circle cx="25.2" cy="47.2" r="0.94" fill="#ff1000"/><circle cx="35.8" cy="58.2" r="1.08" fill="#ff2a00"/><circle cx="24.6" cy="69.8" r="1.09" fill="#ff1800"/><circle cx="37.2" cy="61.1" r="0.61" fill="#ff1800"/><circle cx="25.6" cy="47.0" r="0.69" fill="#ff1000"/><circle cx="30.8" cy="48.3" r="0.87" fill="#ff1800"/><circle cx="15.6" cy="-27.8" r="0.80" fill="#ff1000"/><circle cx="-9.2" cy="1.6" r="0.96" fill="#ff1000"/><circle cx="10.0" cy="-10.3" r="0.60" fill="#ff1800"/><circle cx="14.6" cy="9.2" r="0.75" fill="#ff1000"/><circle cx="14.1" cy="-8.3" r="0.85" fill="#ff2a00"/><circle cx="13.0" cy="-21.5" r="0.92" fill="#ff2a00"/><circle cx="14.1" cy="-4.6" r="0.70" fill="#ff1000"/><circle cx="7.3" cy="15.3" r="0.81" fill="#ff2a00"/><circle cx="-30.8" cy="10.8" r="1.00" fill="#ff2a00"/><circle cx="-12.8" cy="-18.9" r="0.86" fill="#ff1800"/><circle cx="-26.7" cy="10.6" r="0.90" fill="#ff2a00"/><circle cx="-0.5" cy="-20.5" r="0.84" fill="#ff2a00"/><circle cx="17.0" cy="19.1" r="0.87" fill="#ff1800"/><circle cx="18.4" cy="22.8" r="0.65" fill="#ff2a00"/><circle cx="-14.3" cy="-34.0" r="0.98" fill="#ff1800"/><circle cx="-3.9" cy="-30.6" r="0.84" fill="#ff1800"/><circle cx="-6.8" cy="-5.2" r="0.80" fill="#ff1000"/><circle cx="-17.7" cy="-19.7" r="0.87" fill="#ff2a00"/><circle cx="6.7" cy="-8.6" r="0.94" fill="#ff1800"/><circle cx="18.0" cy="14.9" r="0.65" fill="#ff1800"/><circle cx="-7.8" cy="-37.4" r="0.94" fill="#ff1000"/><circle cx="-18.6" cy="23.4" r="0.82" fill="#ff1000"/><circle cx="5.2" cy="2.9" r="0.83" fill="#ff2a00"/><circle cx="-16.0" cy="10.9" r="0.77" fill="#ff1800"/><circle cx="15.3" cy="23.4" r="0.68" fill="#ff2a00"/><circle cx="-27.8" cy="9.1" r="0.70" fill="#ff1800"/><circle cx="6.8" cy="-22.8" r="0.60" fill="#ff1800"/><circle cx="25.2" cy="-18.8" r="0.88" fill="#ff2a00"/><circle cx="-13.0" cy="-18.8" r="0.51" fill="#ff1800"/><circle cx="10.9" cy="15.0" r="1.00" fill="#ff2a00"/><circle cx="31.1" cy="-11.7" r="0.97" fill="#ff1800"/><circle cx="-27.8" cy="-22.4" r="0.99" fill="#ff1000"/><circle cx="27.0" cy="4.2" r="0.54" fill="#ff1800"/><circle cx="18.5" cy="18.0" r="0.50" fill="#ff2a00"/><circle cx="-11.1" cy="7.9" r="1.05" fill="#ff1000"/><circle cx="-14.0" cy="8.2" r="1.02" fill="#ff1800"/><circle cx="-13.4" cy="8.1" r="1.07" fill="#ff1000"/><circle cx="0.5" cy="-65.5" r="1" fill="#ff1800"/><circle cx="-61" cy="-14" r="0.9" fill="#ff1800"/><circle cx="53" cy="32" r="0.9" fill="#ff1800"/></g>
<g transform="translate(375.6 328) scale(1.0 1.0)"><use href="#brainbase"/><ellipse cx="-26.3" cy="58.7" rx="11" ry="11.5" fill="url(#hot)" transform="rotate(0 -26.3 58.7)" filter="url(#rough2)"/><ellipse cx="24.9" cy="58.1" rx="10" ry="12" fill="url(#hot)" transform="rotate(0 24.9 58.1)" filter="url(#rough2)"/><circle cx="-32.8" cy="65.9" r="0.87" fill="#ff6a00"/><circle cx="-34.2" cy="63.6" r="1.09" fill="#ffff00"/><circle cx="-36.3" cy="53.8" r="0.80" fill="#ff1800"/><circle cx="-25.5" cy="67.7" r="0.71" fill="#ff6a00"/><circle cx="-19.2" cy="49.7" r="0.93" fill="#ff1800"/><circle cx="-16.6" cy="53.4" r="0.84" fill="#ff1800"/><circle cx="-28.5" cy="67.8" r="0.94" fill="#ff1800"/><circle cx="-33.9" cy="53.0" r="1.18" fill="#ffe000"/><circle cx="-33.3" cy="58.9" r="0.91" fill="#ff6a00"/><circle cx="-34.2" cy="59.9" r="0.72" fill="#ff6a00"/><circle cx="-22.8" cy="51.1" r="1.08" fill="#ff1800"/><circle cx="-19.6" cy="54.0" r="0.86" fill="#ffff00"/><circle cx="-29.0" cy="70.6" r="1.16" fill="#ff1800"/><circle cx="-24.1" cy="46.1" r="1.15" fill="#ffff00"/><circle cx="-29.2" cy="51.7" r="0.99" fill="#ff1800"/><circle cx="-34.3" cy="50.2" r="0.69" fill="#ff6a00"/><circle cx="-31.9" cy="63.0" r="0.98" fill="#ffe000"/><circle cx="-20.7" cy="52.9" r="0.94" fill="#ff1800"/><circle cx="-28.1" cy="50.6" r="0.93" fill="#ff3a00"/><circle cx="-17.4" cy="65.6" r="0.81" fill="#ffa800"/><circle cx="-21.7" cy="47.9" r="1.10" fill="#ff1800"/><circle cx="-27.8" cy="46.9" r="0.80" fill="#ff1800"/><circle cx="-24.7" cy="51.1" r="1.07" fill="#ff3a00"/><circle cx="-27.2" cy="66.8" r="1.14" fill="#ffe000"/><circle cx="-17.3" cy="60.1" r="1.15" fill="#ff6a00"/><circle cx="-36.6" cy="64.3" r="0.69" fill="#ffe000"/><circle cx="-27.7" cy="48.5" r="1.14" fill="#ff1800"/><circle cx="-32.3" cy="54.3" r="1.04" fill="#ff6a00"/><circle cx="-30.9" cy="64.1" r="0.66" fill="#ffe000"/><circle cx="-35.0" cy="59.9" r="0.73" fill="#ff3a00"/><circle cx="20.0" cy="69.0" r="0.61" fill="#ffe000"/><circle cx="24.2" cy="46.6" r="0.83" fill="#ffe000"/><circle cx="32.9" cy="56.0" r="0.76" fill="#ffa800"/><circle cx="31.3" cy="48.6" r="1.10" fill="#ffff00"/><circle cx="27.8" cy="49.6" r="0.98" fill="#ff1800"/><circle cx="19.6" cy="63.5" r="0.64" fill="#ffe000"/><circle cx="34.4" cy="60.0" r="1.17" fill="#ffff00"/><circle cx="16.1" cy="49.7" r="1.06" fill="#ffa800"/><circle cx="23.0" cy="68.5" r="0.87" fill="#ff1800"/><circle cx="15.9" cy="66.8" r="0.89" fill="#ffa800"/><circle cx="25.0" cy="67.9" r="1.05" fill="#ff3a00"/><circle cx="16.8" cy="60.7" r="0.99" fill="#ffff00"/><circle cx="15.4" cy="65.2" r="0.98" fill="#ffa800"/><circle cx="24.7" cy="65.4" r="1.16" fill="#ff3a00"/><circle cx="23.4" cy="49.1" r="1.19" fill="#ff3a00"/><circle cx="27.4" cy="47.8" r="1.16" fill="#ff1800"/><circle cx="33.1" cy="60.8" r="0.66" fill="#ffff00"/><circle cx="32.8" cy="50.5" r="0.64" fill="#ff3a00"/><circle cx="24.0" cy="69.8" r="0.96" fill="#ff1800"/><circle cx="13.5" cy="63.8" r="0.94" fill="#ffe000"/><circle cx="21.0" cy="67.5" r="0.97" fill="#ff6a00"/><circle cx="16.7" cy="62.3" r="0.79" fill="#ff1800"/><circle cx="19.7" cy="49.2" r="0.98" fill="#ff6a00"/><circle cx="27.8" cy="65.6" r="0.69" fill="#ff6a00"/><circle cx="33.7" cy="63.2" r="1.19" fill="#ffff00"/><circle cx="23.8" cy="68.5" r="0.69" fill="#ff1800"/><circle cx="36.6" cy="59.4" r="1.19" fill="#ffff00"/><circle cx="23.7" cy="68.9" r="0.91" fill="#ff6a00"/><circle cx="31.3" cy="48.7" r="0.63" fill="#ffe000"/><circle cx="29.3" cy="66.1" r="0.83" fill="#ff1800"/><circle cx="-5.8" cy="-31.3" r="0.87" fill="#ffa800"/><circle cx="-9.9" cy="-25.0" r="0.81" fill="#ffe000"/><circle cx="18.2" cy="-28.2" r="0.62" fill="#ff3a00"/><circle cx="-10.3" cy="-45.3" r="0.92" fill="#ffe000"/><circle cx="0.1" cy="-33.8" r="0.64" fill="#ffff00"/><circle cx="9.6" cy="-48.2" r="0.69" fill="#ff3a00"/><circle cx="27.5" cy="-49.7" r="0.82" fill="#ff1800"/><circle cx="-31.2" cy="-48.0" r="0.84" fill="#ffa800"/><circle cx="-29.5" cy="-42.4" r="1.09" fill="#ff1800"/><circle cx="-26.0" cy="-63.6" r="0.82" fill="#ff6a00"/><circle cx="13.9" cy="-62.6" r="1.16" fill="#ffff00"/><circle cx="33.5" cy="-46.4" r="0.91" fill="#ff3a00"/><circle cx="6.7" cy="-49.8" r="0.57" fill="#ff3a00"/><circle cx="-10.0" cy="-25.0" r="1.04" fill="#ff6a00"/><circle cx="-7.1" cy="-26.3" r="1.20" fill="#ff3a00"/><circle cx="4.1" cy="-51.9" r="1.25" fill="#ffa800"/><circle cx="18.0" cy="-29.9" r="1.03" fill="#ff1800"/><circle cx="4.7" cy="-39.7" r="1.21" fill="#ffff00"/><circle cx="15.3" cy="-59.3" r="0.61" fill="#ff6a00"/><circle cx="-44.2" cy="-43.9" r="0.68" fill="#ffe000"/><circle cx="-26.9" cy="-52.1" r="1.06" fill="#ff1800"/><circle cx="-17.7" cy="-34.7" r="0.90" fill="#ffa800"/><circle cx="-38.2" cy="-39.5" r="0.88" fill="#ffa800"/><circle cx="21.2" cy="-37.1" r="1.20" fill="#ff1800"/><circle cx="9.9" cy="-24.9" r="0.57" fill="#ffe000"/><circle cx="-30.7" cy="-50.0" r="0.85" fill="#ffe000"/><circle cx="-20.4" cy="-43.2" r="1.16" fill="#ff1800"/><circle cx="16.7" cy="-46.2" r="0.76" fill="#ff1800"/><circle cx="6.7" cy="-27.7" r="0.56" fill="#ff6a00"/><circle cx="-26.2" cy="-53.9" r="0.74" fill="#ff3a00"/><circle cx="8.4" cy="-50.7" r="1.15" fill="#ff1800"/><circle cx="-43.3" cy="-46.2" r="1.10" fill="#ffe000"/><circle cx="8.3" cy="-26.7" r="0.80" fill="#ff6a00"/><circle cx="17.8" cy="-28.3" r="1.18" fill="#ffa800"/><circle cx="0.8" cy="-56.5" r="1.16" fill="#ff6a00"/><circle cx="18.5" cy="-30.9" r="1.01" fill="#ff1800"/><circle cx="-8.1" cy="-31.0" r="1.06" fill="#ff1800"/><circle cx="-31.8" cy="-60.1" r="0.74" fill="#ff1800"/><circle cx="26.9" cy="-50.6" r="1.04" fill="#ffff00"/><circle cx="5.0" cy="-26.4" r="0.85" fill="#ffa800"/><circle cx="20.2" cy="-52.6" r="0.89" fill="#ffa800"/><circle cx="22.6" cy="-31.5" r="1.25" fill="#ff6a00"/><circle cx="-7.1" cy="-57.7" r="0.91" fill="#ff1800"/><circle cx="-22.2" cy="-50.9" r="0.70" fill="#ff1800"/><circle cx="23.0" cy="-59.9" r="1.18" fill="#ff6a00"/><circle cx="-3.3" cy="-41.1" r="1.15" fill="#ffe000"/><circle cx="-19.6" cy="-44.8" r="1.09" fill="#ffff00"/><circle cx="14.3" cy="-28.8" r="0.68" fill="#ff3a00"/><circle cx="-19.9" cy="-51.1" r="1.02" fill="#ffff00"/><circle cx="-8.4" cy="-41.2" r="1.25" fill="#ff1800"/><circle cx="-32.2" cy="-32.3" r="0.71" fill="#ffe000"/><circle cx="-9.1" cy="-62.6" r="0.78" fill="#ff6a00"/><circle cx="19.2" cy="-43.1" r="0.98" fill="#ffa800"/><circle cx="-2.1" cy="-24.0" r="1.11" fill="#ff3a00"/><circle cx="-15.0" cy="-43.2" r="1.16" fill="#ff1800"/><circle cx="-9.2" cy="-33.7" r="0.77" fill="#ffe000"/><circle cx="-26.2" cy="-40.3" r="0.60" fill="#ffff00"/><circle cx="-24.3" cy="-47.3" r="1.17" fill="#ff3a00"/><circle cx="-13.3" cy="-28.0" r="1.08" fill="#ff1800"/><circle cx="9.8" cy="-48.9" r="0.73" fill="#ffff00"/><circle cx="12.5" cy="-28.3" r="1.12" fill="#ff1800"/><circle cx="-32.8" cy="-53.5" r="0.74" fill="#ff1800"/><circle cx="9.8" cy="-44.8" r="1.22" fill="#ff1800"/><circle cx="-31.0" cy="-38.4" r="0.62" fill="#ff6a00"/><circle cx="-21.4" cy="-50.3" r="1.07" fill="#ff1800"/><circle cx="-1.8" cy="-34.5" r="0.72" fill="#ffa800"/><circle cx="-18.7" cy="-51.4" r="0.93" fill="#ff3a00"/><circle cx="-25.6" cy="-27.8" r="0.85" fill="#ffff00"/><circle cx="-28.7" cy="-46.0" r="1.13" fill="#ff1800"/><circle cx="17.2" cy="-37.0" r="0.69" fill="#ff1800"/><circle cx="6.6" cy="-46.1" r="1.05" fill="#ff1800"/><circle cx="20.9" cy="-35.6" r="1.13" fill="#ffe000"/><circle cx="-32.5" cy="-52.9" r="0.56" fill="#ffff00"/><circle cx="-29.2" cy="-52.1" r="0.69" fill="#ff1800"/><circle cx="-40.0" cy="-46.4" r="0.99" fill="#ff1800"/><circle cx="9.0" cy="-33.3" r="0.90" fill="#ffe000"/><circle cx="-3.9" cy="-35.2" r="0.70" fill="#ff6a00"/><circle cx="-21.5" cy="-50.0" r="0.62" fill="#ffff00"/><circle cx="-16.0" cy="-46.9" r="0.86" fill="#ffff00"/><circle cx="20.4" cy="-40.0" r="1.14" fill="#ffa800"/><circle cx="21.7" cy="-56.9" r="0.99" fill="#ffa800"/><circle cx="-37.5" cy="-56.3" r="0.91" fill="#ff6a00"/><circle cx="-26.3" cy="-33.3" r="0.82" fill="#ffff00"/><circle cx="-6.7" cy="-52.5" r="0.80" fill="#ff6a00"/><circle cx="8.7" cy="-63.7" r="1.05" fill="#ffff00"/><circle cx="-31.9" cy="-56.3" r="1.17" fill="#ff3a00"/><circle cx="-26.2" cy="-33.2" r="0.97" fill="#ff1800"/><circle cx="-7.0" cy="-57.7" r="1.25" fill="#ffa800"/><circle cx="3.2" cy="-55.5" r="0.64" fill="#ff3a00"/><circle cx="25.7" cy="-49.5" r="1.20" fill="#ffff00"/><circle cx="26.2" cy="-58.0" r="0.84" fill="#ff6a00"/><circle cx="-19.3" cy="-31.8" r="0.74" fill="#ff3a00"/><circle cx="1.4" cy="-38.9" r="1.10" fill="#ff6a00"/><circle cx="17.7" cy="-52.7" r="0.78" fill="#ff6a00"/><circle cx="-10.2" cy="-61.0" r="0.73" fill="#ff6a00"/><circle cx="-19.1" cy="-49.9" r="0.98" fill="#ff1800"/><circle cx="-8.1" cy="-34.0" r="0.64" fill="#ff6a00"/><circle cx="-27.6" cy="-41.0" r="1.15" fill="#ff6a00"/><circle cx="-11.5" cy="-36.9" r="0.57" fill="#ff3a00"/><circle cx="-19.2" cy="-55.8" r="0.88" fill="#ffff00"/><circle cx="25.6" cy="-32.6" r="1.03" fill="#ffe000"/><circle cx="18.1" cy="-43.2" r="1.21" fill="#ffff00"/><circle cx="-34.6" cy="-30.8" r="0.58" fill="#ffe000"/><circle cx="20.2" cy="-51.7" r="1.18" fill="#ffa800"/><circle cx="-28.7" cy="-29.3" r="0.98" fill="#ff1800"/><circle cx="25.9" cy="-32.3" r="1.11" fill="#ff1800"/><circle cx="0.8" cy="-48.2" r="1.18" fill="#ffff00"/><circle cx="1.3" cy="-52.7" r="0.86" fill="#ffff00"/><circle cx="-29.1" cy="-60.3" r="1.14" fill="#ff1800"/><circle cx="-34.1" cy="-49.6" r="0.91" fill="#ffff00"/><circle cx="-39.8" cy="-51.5" r="0.76" fill="#ffe000"/><circle cx="10.7" cy="-57.3" r="0.69" fill="#ffe000"/><circle cx="-13.9" cy="-61.1" r="1.25" fill="#ffff00"/><circle cx="-33.2" cy="-36.0" r="1.10" fill="#ff1800"/><circle cx="-32.0" cy="-50.1" r="1.22" fill="#ffa800"/><circle cx="-31.9" cy="-45.9" r="1.20" fill="#ff1800"/><circle cx="24.6" cy="-59.3" r="0.90" fill="#ffff00"/><circle cx="-28.6" cy="-50.1" r="1.01" fill="#ffff00"/><circle cx="-9.2" cy="-34.3" r="0.75" fill="#ff1800"/><circle cx="2.4" cy="-56.8" r="0.73" fill="#ff6a00"/><circle cx="-16.3" cy="-25.3" r="0.72" fill="#ffe000"/><circle cx="-40.6" cy="-44.6" r="1.21" fill="#ffa800"/><circle cx="-6.8" cy="-37.6" r="0.92" fill="#ffff00"/><circle cx="3.3" cy="-46.2" r="1.20" fill="#ffff00"/><circle cx="32.8" cy="-51.2" r="0.74" fill="#ffa800"/><circle cx="7.5" cy="-26.9" r="1.00" fill="#ff1800"/><circle cx="16.6" cy="-53.8" r="0.70" fill="#ffe000"/><circle cx="0.8" cy="-38.3" r="0.74" fill="#ffa800"/><circle cx="7.3" cy="-42.0" r="0.94" fill="#ff1800"/><circle cx="16.4" cy="-36.6" r="0.59" fill="#ffe000"/><circle cx="-2.7" cy="-39.6" r="0.59" fill="#ff3a00"/><circle cx="-32.2" cy="-43.8" r="0.56" fill="#ffe000"/><circle cx="8.8" cy="-33.2" r="0.66" fill="#ff1800"/><circle cx="0.9" cy="-53.4" r="0.95" fill="#ffe000"/><circle cx="15.8" cy="-51.5" r="0.62" fill="#ff1800"/><circle cx="-3.5" cy="-65.7" r="1.03" fill="#ff6a00"/><circle cx="-23.7" cy="-56.3" r="1.03" fill="#ffe000"/><circle cx="-33.9" cy="-42.7" r="0.74" fill="#ff1800"/><circle cx="3.8" cy="-39.0" r="1.13" fill="#ff6a00"/><circle cx="-20.1" cy="-35.8" r="0.79" fill="#ffe000"/><circle cx="-23.0" cy="-33.5" r="0.80" fill="#ff1800"/><circle cx="-5.7" cy="-51.5" r="0.97" fill="#ff6a00"/><circle cx="14.6" cy="-62.6" r="1.18" fill="#ff6a00"/><circle cx="31.1" cy="-49.8" r="1.01" fill="#ffe000"/><circle cx="-4.6" cy="-55.2" r="1.23" fill="#ff1800"/><circle cx="-22.1" cy="-30.1" r="1.14" fill="#ff1800"/><circle cx="-4.4" cy="-57.4" r="0.64" fill="#ffff00"/><circle cx="4.6" cy="-60.4" r="0.87" fill="#ffe000"/><circle cx="-29.6" cy="-53.2" r="0.96" fill="#ff1800"/><circle cx="27.8" cy="-46.5" r="0.88" fill="#ffe000"/><circle cx="-25.0" cy="-35.1" r="0.64" fill="#ff2a00"/><circle cx="-20.4" cy="9.6" r="1.09" fill="#ff1800"/><circle cx="-23.5" cy="26.7" r="0.99" fill="#ff1800"/><circle cx="34.7" cy="-27.6" r="0.98" fill="#ff1000"/><circle cx="-1.3" cy="-32.4" r="0.52" fill="#ff1000"/><circle cx="28.2" cy="27.5" r="0.88" fill="#ff6a00"/><circle cx="9.6" cy="23.6" r="0.84" fill="#ff1000"/><circle cx="14.5" cy="-7.7" r="0.88" fill="#ff1000"/><circle cx="-6.9" cy="24.1" r="0.99" fill="#ff2a00"/><circle cx="25.0" cy="-32.2" r="0.61" fill="#ff1800"/><circle cx="-11.6" cy="-30.9" r="0.76" fill="#ff2a00"/><circle cx="-11.9" cy="-14.0" r="0.75" fill="#ff1000"/><circle cx="2.8" cy="-23.1" r="1.08" fill="#ff1800"/><circle cx="0.3" cy="2.0" r="0.55" fill="#ff6a00"/><circle cx="4.7" cy="-23.3" r="1.05" fill="#ff2a00"/><circle cx="-18.1" cy="-15.3" r="1.06" fill="#ff1800"/><circle cx="27.4" cy="-36.3" r="0.98" fill="#ff6a00"/><circle cx="29.0" cy="-34.2" r="0.79" fill="#ff2a00"/><circle cx="-33.8" cy="17.6" r="1.01" fill="#ff2a00"/><circle cx="-44.1" cy="-18.8" r="0.97" fill="#ff1000"/><circle cx="0.2" cy="24.5" r="0.62" fill="#ff2a00"/><circle cx="29.1" cy="14.4" r="0.50" fill="#ff1000"/><circle cx="41.3" cy="-15.0" r="0.64" fill="#ff1000"/><circle cx="46.1" cy="-12.0" r="0.62" fill="#ff1000"/><circle cx="26.2" cy="-5.3" r="1.09" fill="#ff2a00"/><circle cx="-34.1" cy="-7.3" r="0.93" fill="#ff1000"/><circle cx="-10.1" cy="6.2" r="0.91" fill="#ff2a00"/><circle cx="-35.7" cy="8.4" r="0.68" fill="#ff1000"/><circle cx="15.0" cy="29.0" r="0.55" fill="#ff1800"/><circle cx="-12.7" cy="-25.7" r="0.87" fill="#ff1800"/><circle cx="40.9" cy="11.0" r="0.61" fill="#ff1000"/><circle cx="-23.5" cy="-4.2" r="0.93" fill="#ff6a00"/><circle cx="12.4" cy="-28.2" r="0.86" fill="#ff1800"/><circle cx="-12.6" cy="1.2" r="0.66" fill="#ff2a00"/><circle cx="21.0" cy="-19.0" r="0.50" fill="#ff6a00"/><circle cx="23.7" cy="-10.6" r="0.60" fill="#ff2a00"/><circle cx="15.3" cy="12.2" r="0.51" fill="#ff6a00"/><circle cx="1.4" cy="-36.8" r="0.96" fill="#ff1000"/><circle cx="30.7" cy="26.6" r="1.04" fill="#ff1800"/><circle cx="35.2" cy="-2.9" r="0.57" fill="#ff1800"/><circle cx="24.3" cy="24.1" r="0.84" fill="#ff6a00"/><circle cx="22.7" cy="0.9" r="0.73" fill="#ff6a00"/><circle cx="-47.1" cy="9.9" r="1.07" fill="#ff2a00"/><circle cx="12.6" cy="10.7" r="1.00" fill="#ff1000"/><circle cx="-34.5" cy="-20.7" r="0.73" fill="#ff6a00"/><circle cx="-8.5" cy="-24.3" r="0.74" fill="#ff1800"/><circle cx="12.2" cy="-35.4" r="0.67" fill="#ff6a00"/><circle cx="-27.3" cy="12.8" r="1.01" fill="#ff1000"/><circle cx="-9.5" cy="24.5" r="0.56" fill="#ff1000"/><circle cx="-21.2" cy="-24.3" r="0.51" fill="#ff2a00"/><circle cx="-20.3" cy="-23.6" r="0.51" fill="#ff2a00"/><circle cx="-36.9" cy="19.0" r="0.84" fill="#ff6a00"/><circle cx="-26.0" cy="19.9" r="0.88" fill="#ff6a00"/><circle cx="7.7" cy="34.2" r="0.99" fill="#ff1000"/><circle cx="-18.6" cy="-1.3" r="1.07" fill="#ff2a00"/><circle cx="21.8" cy="28.1" r="1.05" fill="#ff2a00"/><circle cx="-13.5" cy="-43.0" r="0.88" fill="#ff6a00"/><circle cx="-40.1" cy="-8.5" r="0.72" fill="#ff1800"/><circle cx="-25.9" cy="23.4" r="0.81" fill="#ff6a00"/><circle cx="-47.4" cy="-4.2" r="0.91" fill="#ff1000"/><circle cx="24.0" cy="-38.7" r="0.56" fill="#ff6a00"/><circle cx="-46.6" cy="-11.7" r="0.75" fill="#ff1800"/><circle cx="16.6" cy="-24.7" r="1.02" fill="#ff2a00"/><circle cx="-28.0" cy="-10.6" r="0.55" fill="#ff2a00"/><circle cx="8.1" cy="16.4" r="0.60" fill="#ff1800"/><circle cx="-17.2" cy="17.2" r="0.75" fill="#ff2a00"/><circle cx="-6.4" cy="-14.3" r="0.99" fill="#ff1800"/><circle cx="7.4" cy="6.7" r="0.80" fill="#ff2a00"/><circle cx="7.9" cy="-1.2" r="0.98" fill="#ff1000"/><circle cx="20.7" cy="30.1" r="0.92" fill="#ff1800"/><circle cx="5.6" cy="-6.7" r="0.72" fill="#ff1000"/><circle cx="32.5" cy="-24.3" r="1.03" fill="#ff6a00"/><circle cx="34.1" cy="-20.6" r="0.82" fill="#ff6a00"/><circle cx="-15.7" cy="-18.1" r="0.59" fill="#ff2a00"/><circle cx="-29.7" cy="-30.5" r="0.95" fill="#ff1000"/><circle cx="10.6" cy="-16.4" r="0.77" fill="#ff2a00"/><circle cx="-0.2" cy="-13.8" r="0.82" fill="#ff1000"/><circle cx="-9.1" cy="-43.5" r="0.71" fill="#ff6a00"/><circle cx="-31.0" cy="-9.8" r="0.63" fill="#ff2a00"/><circle cx="30.9" cy="-24.1" r="0.52" fill="#ff1000"/><circle cx="21.6" cy="-16.0" r="0.62" fill="#ff6a00"/><circle cx="-37.1" cy="10.8" r="0.86" fill="#ff2a00"/><circle cx="41.5" cy="9.1" r="0.74" fill="#ff6a00"/><circle cx="28.2" cy="8.3" r="1.10" fill="#ff6a00"/><circle cx="46.7" cy="3.1" r="0.76" fill="#ff6a00"/><circle cx="-10.5" cy="-36.8" r="0.71" fill="#ff2a00"/><circle cx="-33.7" cy="15.8" r="0.63" fill="#ff1000"/><circle cx="-2.1" cy="-36.6" r="0.82" fill="#ff1000"/><circle cx="-23.9" cy="-28.4" r="1.03" fill="#ff1000"/><circle cx="45.2" cy="-10.7" r="0.96" fill="#ff1000"/><circle cx="35.4" cy="-6.1" r="1.13" fill="#ff3a00"/><circle cx="47.8" cy="3.2" r="0.74" fill="#ffff00"/><circle cx="40.7" cy="15.0" r="1.20" fill="#ff3a00"/><circle cx="38.7" cy="-5.1" r="1.33" fill="#ffa800"/><circle cx="42.9" cy="17.6" r="0.78" fill="#ffff00"/><circle cx="45.8" cy="5.7" r="0.84" fill="#ffa800"/><circle cx="44.2" cy="-18.9" r="0.73" fill="#ffe000"/><circle cx="40.4" cy="9.9" r="1.03" fill="#ffa800"/><circle cx="40.6" cy="-25.6" r="1.36" fill="#ffff00"/><circle cx="37.6" cy="-26.7" r="0.61" fill="#ffff00"/><circle cx="47.3" cy="9.8" r="1.29" fill="#ffff00"/><circle cx="39.3" cy="-28.5" r="1.11" fill="#ff3a00"/><circle cx="43.0" cy="-6.5" r="1.25" fill="#ff6a00"/><circle cx="43.8" cy="-6.7" r="0.95" fill="#ffa800"/><circle cx="33.3" cy="-1.9" r="0.74" fill="#ff1800"/><circle cx="47.3" cy="-15.5" r="0.61" fill="#ff6a00"/><circle cx="45.2" cy="15.5" r="1.26" fill="#ff3a00"/><circle cx="43.0" cy="14.9" r="1.04" fill="#ffa800"/><circle cx="35.9" cy="-15.8" r="0.64" fill="#ffa800"/><circle cx="42.6" cy="-4.5" r="1.09" fill="#ffa800"/><circle cx="38.2" cy="4.2" r="1.11" fill="#ffe000"/><circle cx="37.6" cy="5.3" r="1.26" fill="#ff1800"/><circle cx="43.5" cy="19.4" r="0.82" fill="#ffe000"/><circle cx="38.5" cy="-22.4" r="1.03" fill="#ff1800"/><circle cx="34.6" cy="-1.5" r="0.86" fill="#ffe000"/><circle cx="42.8" cy="-30.5" r="1.23" fill="#ffe000"/><circle cx="47.6" cy="10.0" r="0.74" fill="#ff1800"/><circle cx="43.7" cy="-29.0" r="0.87" fill="#ffe000"/><circle cx="41.2" cy="-21.3" r="1.14" fill="#ff6a00"/><circle cx="34.5" cy="-7.1" r="1.08" fill="#ffa800"/><circle cx="44.3" cy="9.9" r="0.92" fill="#ff1800"/><circle cx="36.6" cy="15.7" r="0.98" fill="#ffff00"/><circle cx="37.0" cy="-20.9" r="0.77" fill="#ff6a00"/><circle cx="35.6" cy="-22.7" r="1.16" fill="#ffa800"/><circle cx="36.2" cy="-12.3" r="0.63" fill="#ffa800"/><circle cx="33.8" cy="-10.7" r="0.64" fill="#ffa800"/><circle cx="47.4" cy="-0.3" r="1.07" fill="#ff3a00"/><circle cx="38.4" cy="-5.3" r="1.27" fill="#ff6a00"/><circle cx="36.1" cy="-10.2" r="0.83" fill="#ffe000"/><circle cx="43.6" cy="-23.6" r="0.84" fill="#ffe000"/><circle cx="43.4" cy="30.3" r="0.93" fill="#ff1800"/><circle cx="-37.7" cy="38.2" r="0.67" fill="#ff1800"/><circle cx="46.5" cy="27.7" r="0.89" fill="#ff1000"/><circle cx="25.2" cy="45.9" r="1.00" fill="#ff1800"/><circle cx="-29.4" cy="39.8" r="0.99" fill="#ff2a00"/><circle cx="-50.0" cy="14.9" r="0.77" fill="#ff1000"/><circle cx="51.2" cy="21.5" r="0.76" fill="#ff1000"/><circle cx="-46.4" cy="25.6" r="0.94" fill="#ff1000"/><circle cx="48.6" cy="24.5" r="0.57" fill="#ff2a00"/><circle cx="-7.8" cy="48.3" r="0.63" fill="#ff1000"/><circle cx="-0.1" cy="52.8" r="0.59" fill="#ff1000"/><circle cx="40.3" cy="29.4" r="0.75" fill="#ff2a00"/><circle cx="51.2" cy="20.5" r="0.94" fill="#ff1800"/><circle cx="15.2" cy="50.7" r="0.68" fill="#ff2a00"/><circle cx="-47.9" cy="31.1" r="0.91" fill="#ff1800"/><circle cx="-51.3" cy="25.8" r="0.91" fill="#ff1000"/><circle cx="-50.2" cy="15.4" r="0.64" fill="#ff1000"/><circle cx="-1.6" cy="47.0" r="0.90" fill="#ff2a00"/><circle cx="29.7" cy="45.9" r="0.69" fill="#ff1800"/><circle cx="31.9" cy="42.4" r="0.63" fill="#ff1800"/><circle cx="-2.7" cy="49.3" r="0.66" fill="#ff2a00"/><circle cx="33.3" cy="39.8" r="0.86" fill="#ff1800"/><circle cx="-27.8" cy="39.4" r="0.62" fill="#ff2a00"/><circle cx="-48.2" cy="24.1" r="0.52" fill="#ff1800"/><circle cx="-1.2" cy="50.7" r="0.92" fill="#ff2a00"/><circle cx="38.4" cy="33.9" r="0.65" fill="#ff1800"/><circle cx="4.9" cy="47.3" r="1.00" fill="#ff2a00"/><circle cx="16.1" cy="51.4" r="0.70" fill="#ff1800"/><circle cx="18.9" cy="45.1" r="0.79" fill="#ff2a00"/><circle cx="36.6" cy="36.8" r="0.94" fill="#ff1000"/><circle cx="-6.4" cy="53.0" r="0.91" fill="#ff2a00"/><circle cx="-7.2" cy="47.7" r="1.00" fill="#ff1800"/><circle cx="-4.2" cy="51.1" r="0.70" fill="#ff2a00"/><circle cx="33.1" cy="43.1" r="0.86" fill="#ff2a00"/><circle cx="-48.0" cy="26.2" r="0.82" fill="#ff1000"/><circle cx="28.7" cy="42.3" r="0.87" fill="#ff1000"/><circle cx="33.9" cy="42.1" r="0.73" fill="#ff2a00"/><circle cx="19.2" cy="44.1" r="1.00" fill="#ff1000"/><circle cx="-40.1" cy="34.9" r="0.79" fill="#ff1800"/><circle cx="-20.6" cy="48.7" r="0.61" fill="#ff1000"/><circle cx="-3.8" cy="-65.7" r="0.90" fill="#ffff00"/><circle cx="-0.5" cy="-57.1" r="1.27" fill="#ffff00"/><circle cx="3.8" cy="-65.0" r="1.09" fill="#ffff00"/><circle cx="6.0" cy="-61.2" r="1.33" fill="#ffa800"/><circle cx="3.6" cy="-63.4" r="1.20" fill="#ffff00"/><circle cx="-3.3" cy="-66.5" r="1.22" fill="#ffff00"/><circle cx="2.4" cy="-60.3" r="1.25" fill="#ffff00"/><circle cx="1.5" cy="-64.7" r="1.49" fill="#ffa800"/><circle cx="-5.1" cy="-65.3" r="1.08" fill="#ffff00"/><circle cx="-3.3" cy="-58.1" r="1.40" fill="#ffe000"/><circle cx="4.7" cy="-61.9" r="1.33" fill="#ffa800"/><circle cx="4.2" cy="-63.7" r="1.21" fill="#ffe000"/><circle cx="0.5" cy="-62.4" r="0.83" fill="#ffa800"/><circle cx="5.0" cy="-59.0" r="0.85" fill="#ffe000"/><circle cx="-4.7" cy="-65.5" r="1.26" fill="#ffff00"/><circle cx="5.3" cy="-63.1" r="0.98" fill="#ffe000"/><circle cx="-1.3" cy="-62.5" r="1.34" fill="#ffe000"/><circle cx="7.3" cy="-62.9" r="1.38" fill="#ffe000"/><circle cx="-6.2" cy="-61.7" r="1.26" fill="#ffe000"/><circle cx="0.0" cy="-59.4" r="1.12" fill="#ffa800"/><circle cx="-5.3" cy="-62.5" r="1.57" fill="#ffa800"/><circle cx="6.1" cy="-65.5" r="1.02" fill="#ffa800"/><circle cx="2.6" cy="-61.7" r="1.39" fill="#ffa800"/><circle cx="6.8" cy="-65.0" r="1.34" fill="#ffe000"/><circle cx="-5.2" cy="-64.2" r="1.25" fill="#ffff00"/><circle cx="42.0" cy="-20.4" r="0.97" fill="#ffe000"/><circle cx="45.7" cy="-14.1" r="0.92" fill="#ffe000"/><circle cx="42.2" cy="-15.1" r="1.41" fill="#ffff00"/><circle cx="40.4" cy="-16.6" r="1.26" fill="#ffff00"/><circle cx="43.6" cy="-13.2" r="1.20" fill="#ffff00"/><circle cx="41.8" cy="-19.1" r="1.35" fill="#ffe000"/><circle cx="40.7" cy="-15.3" r="1.25" fill="#ffe000"/><circle cx="42.4" cy="-22.6" r="1.49" fill="#ffe000"/><circle cx="42.9" cy="-16.6" r="0.93" fill="#ffff00"/><circle cx="43.8" cy="-20.6" r="1.51" fill="#ffe000"/><circle cx="25.6" cy="-4.4" r="0.89" fill="#ffe000"/><circle cx="26.0" cy="-5.3" r="0.89" fill="#ffe000"/><circle cx="28.4" cy="-2.4" r="1.16" fill="#ffa800"/><circle cx="23.7" cy="-4.0" r="0.85" fill="#ffe000"/><circle cx="21.6" cy="-5.4" r="0.93" fill="#ffa800"/><circle cx="25.7" cy="-4.7" r="1.08" fill="#ffe000"/><circle cx="26.0" cy="-4.4" r="1.22" fill="#ffa800"/><circle cx="29.8" cy="-3.9" r="0.81" fill="#ffe000"/><circle cx="-25.9" cy="-37.1" r="1.00" fill="#ffe000"/><circle cx="-29.8" cy="-41.2" r="1.29" fill="#ffa800"/><circle cx="-29.9" cy="-38.7" r="1.23" fill="#ffe000"/><circle cx="-37.1" cy="-40.6" r="1.25" fill="#ffa800"/><circle cx="-31.4" cy="-35.5" r="1.02" fill="#ffe000"/><circle cx="-30.5" cy="-44.1" r="1.08" fill="#ffa800"/><circle cx="-25.5" cy="-43.5" r="0.97" fill="#ffe000"/><circle cx="-32.2" cy="-36.3" r="1.13" fill="#ffe000"/><circle cx="-25.8" cy="-36.3" r="0.80" fill="#ffe000"/><circle cx="-24.7" cy="-42.1" r="1.03" fill="#ffa800"/><circle cx="-25.7" cy="-43.4" r="1.02" fill="#ffe000"/><circle cx="-35.3" cy="-39.7" r="1.08" fill="#ffe000"/></g>
<g transform="translate(547.8 329) scale(1.0 1.0)"><use href="#brainbase"/><circle cx="-25" cy="60" r="8.3" fill="#d2d2d2" filter="url(#bl05)"/><circle cx="25" cy="59" r="8.3" fill="#d2d2d2" filter="url(#bl05)"/><circle cx="-30.2" cy="57.6" r="0.66" fill="#ff1800"/><circle cx="-31.0" cy="57.9" r="0.76" fill="#ff2a00"/><circle cx="-29.6" cy="59.7" r="0.89" fill="#ff1800"/><circle cx="-28.0" cy="59.2" r="0.60" fill="#ff1800"/><circle cx="-30.2" cy="60.6" r="0.77" fill="#ff1800"/><circle cx="-31.3" cy="62.8" r="0.79" fill="#ff1000"/><circle cx="28.2" cy="57.0" r="0.87" fill="#ff2a00"/><circle cx="32.8" cy="58.1" r="0.64" fill="#ff2a00"/><circle cx="31.4" cy="56.8" r="1.09" fill="#ff1000"/><circle cx="25.5" cy="61.7" r="0.67" fill="#ff1800"/><circle cx="31.9" cy="58.4" r="0.95" fill="#ff2a00"/><circle cx="30.2" cy="60.3" r="0.61" fill="#ff2a00"/><circle cx="32.0" cy="56.8" r="0.73" fill="#ff1000"/><circle cx="24.8" cy="58.3" r="0.85" fill="#ff1800"/><circle cx="26.1" cy="55.9" r="0.99" fill="#ff2a00"/><circle cx="28.7" cy="57.3" r="0.80" fill="#ff1800"/><circle cx="26.6" cy="55.7" r="0.70" fill="#ff1000"/><circle cx="26.1" cy="57.3" r="0.77" fill="#ff1800"/><circle cx="29.7" cy="60.6" r="0.68" fill="#ff1800"/><circle cx="26.5" cy="55.6" r="0.62" fill="#ff2a00"/><circle cx="28.2" cy="60.6" r="0.83" fill="#ff2a00"/><circle cx="27.7" cy="60.3" r="0.89" fill="#ff1000"/><circle cx="26.8" cy="62.1" r="0.89" fill="#ff1000"/><circle cx="31.0" cy="61.6" r="0.76" fill="#ff2a00"/><ellipse cx="-2" cy="8" rx="13" ry="7" fill="#ffee00" transform="rotate(0 -2 8)" filter="url(#rough2)"/><ellipse cx="-9" cy="3" rx="5" ry="5" fill="#ffe000" transform="rotate(0 -9 3)" filter="url(#rough2)"/><ellipse cx="8" cy="12" rx="7" ry="4" fill="#ffd800" transform="rotate(30 8 12)" filter="url(#rough2)"/><circle cx="4.9" cy="0.9" r="0.99" fill="#ffe000"/><circle cx="0.7" cy="4.7" r="1.65" fill="#ff5a00"/><circle cx="2.2" cy="16.3" r="0.94" fill="#ffe000"/><circle cx="-3.9" cy="12.0" r="1.74" fill="#ff5a00"/><circle cx="-5.8" cy="15.1" r="1.71" fill="#ff1800"/><circle cx="9.0" cy="11.8" r="1.39" fill="#ff5a00"/><circle cx="-16.4" cy="8.8" r="1.58" fill="#ff1800"/><circle cx="1.9" cy="4.0" r="1.58" fill="#ffe000"/><circle cx="-16.3" cy="8.4" r="1.44" fill="#ffe000"/><circle cx="7.9" cy="10.2" r="1.46" fill="#ff1800"/><circle cx="-14.7" cy="6.9" r="0.91" fill="#ff1800"/><circle cx="9.4" cy="2.9" r="1.41" fill="#ff1800"/><circle cx="7.7" cy="10.9" r="1.58" fill="#ffe000"/><circle cx="-1.1" cy="13.0" r="1.69" fill="#ff5a00"/><circle cx="4.3" cy="4.5" r="1.15" fill="#ffff00"/><circle cx="-2.2" cy="14.5" r="1.36" fill="#ffff00"/><circle cx="-0.1" cy="16.7" r="1.43" fill="#ff1800"/><circle cx="5.6" cy="15.9" r="1.80" fill="#ffe000"/><circle cx="3.4" cy="8.0" r="1.60" fill="#ff5a00"/><circle cx="-4.4" cy="0.9" r="1.58" fill="#ffff00"/><circle cx="1.6" cy="4.1" r="1.75" fill="#ffe000"/><circle cx="-14.8" cy="6.9" r="1.77" fill="#ffa800"/><circle cx="6.5" cy="1.8" r="1.48" fill="#ffa800"/><circle cx="-6.0" cy="9.6" r="1.28" fill="#ffa800"/><circle cx="4.5" cy="6.4" r="1.35" fill="#ffe000"/><circle cx="-8.5" cy="14.9" r="1.71" fill="#ffe000"/><circle cx="-3.6" cy="6.5" r="1.73" fill="#ffe000"/><circle cx="0.7" cy="-0.6" r="1.59" fill="#ffff00"/><circle cx="-9.7" cy="8.7" r="1.46" fill="#ffa800"/><circle cx="-8.1" cy="8.3" r="1.17" fill="#ff5a00"/><circle cx="0.3" cy="2.3" r="1.63" fill="#ffa800"/><circle cx="-5.0" cy="16.6" r="0.95" fill="#ffe000"/><circle cx="7.6" cy="12.2" r="1.00" fill="#ffe000"/><circle cx="-6.6" cy="3.2" r="1.61" fill="#ff1800"/><circle cx="5.9" cy="6.9" r="1.48" fill="#ff1800"/><circle cx="2.1" cy="12.3" r="0.94" fill="#ffa800"/><circle cx="-5.9" cy="1.1" r="1.33" fill="#ffa800"/><circle cx="-2.1" cy="4.9" r="1.03" fill="#ffe000"/><circle cx="1.0" cy="0.6" r="1.13" fill="#ffe000"/><circle cx="9.9" cy="6.8" r="1.60" fill="#ff5a00"/><circle cx="-17.5" cy="8.7" r="1.50" fill="#ffe000"/><circle cx="-3.4" cy="2.1" r="0.92" fill="#ffe000"/><circle cx="10.3" cy="4.9" r="1.80" fill="#ffa800"/><circle cx="6.6" cy="9.9" r="1.79" fill="#ffff00"/><circle cx="0.3" cy="8.4" r="1.74" fill="#ff1800"/><circle cx="10.8" cy="11.9" r="1.65" fill="#ff1800"/><circle cx="5.6" cy="14.8" r="1.38" fill="#ffe000"/><circle cx="-8.7" cy="12.4" r="1.10" fill="#ffa800"/><circle cx="-3.3" cy="-0.0" r="1.13" fill="#ff1800"/><circle cx="-3.7" cy="3.5" r="1.02" fill="#ffe000"/><circle cx="-12.9" cy="-6.5" r="1.44" fill="#ffff00"/><circle cx="7.3" cy="-1.6" r="1.15" fill="#ffe000"/><circle cx="-8.6" cy="-17.3" r="1.13" fill="#ffff00"/><circle cx="3.3" cy="0.5" r="1.22" fill="#ff1800"/><circle cx="8.3" cy="-3.0" r="1.55" fill="#ff1800"/><circle cx="6.5" cy="-18.7" r="1.47" fill="#ffff00"/><circle cx="-11.0" cy="-5.0" r="1.34" fill="#ff5a00"/><circle cx="-2.5" cy="-19.5" r="1.12" fill="#ffff00"/><circle cx="-7.5" cy="-17.0" r="1.03" fill="#ff1800"/><circle cx="-7.6" cy="1.6" r="1.39" fill="#ffa800"/><circle cx="-3.9" cy="3.7" r="1.11" fill="#ffe000"/><circle cx="-0.2" cy="0.9" r="1.02" fill="#ffa800"/><circle cx="-0.5" cy="0.6" r="1.31" fill="#ffe000"/><circle cx="-11.7" cy="-15.4" r="1.22" fill="#ff5a00"/><circle cx="-4.0" cy="3.5" r="1.30" fill="#ffff00"/><circle cx="-5.5" cy="-18.6" r="1.35" fill="#ff1800"/><circle cx="3.4" cy="0.3" r="1.24" fill="#ffa800"/><circle cx="-12.0" cy="-4.1" r="1.02" fill="#ffa800"/><circle cx="-13.3" cy="-13.1" r="1.20" fill="#ff5a00"/><circle cx="6.5" cy="-15.8" r="1.15" fill="#ff5a00"/><circle cx="9.4" cy="-5.3" r="1.30" fill="#ffe000"/><circle cx="-11.8" cy="-7.5" r="0.91" fill="#ffe000"/><circle cx="7.9" cy="-3.0" r="0.82" fill="#ffff00"/><circle cx="-12.9" cy="-9.5" r="1.31" fill="#ffff00"/><circle cx="-10.3" cy="-4.0" r="1.05" fill="#ffa800"/><circle cx="-12.4" cy="-7.2" r="1.43" fill="#ffe000"/><circle cx="0.4" cy="-21.3" r="1.52" fill="#ffa800"/><circle cx="-8.0" cy="0.3" r="0.90" fill="#ffff00"/><circle cx="8.9" cy="-4.5" r="0.88" fill="#ffa800"/><circle cx="6.5" cy="-0.9" r="1.22" fill="#ffe000"/><circle cx="-13.5" cy="-10.5" r="0.86" fill="#ff5a00"/><circle cx="-11.6" cy="-6.8" r="1.37" fill="#ff5a00"/><circle cx="-11.1" cy="-16.8" r="1.59" fill="#ffff00"/><circle cx="5.2" cy="1.4" r="0.98" fill="#ff5a00"/><circle cx="-9.9" cy="-15.5" r="1.50" fill="#ff1800"/><circle cx="0.2" cy="1.1" r="1.11" fill="#ffa800"/><circle cx="-10.8" cy="-7.6" r="0.97" fill="#ffff00"/><circle cx="9.8" cy="-12.2" r="1.12" fill="#ffff00"/><circle cx="7.4" cy="-16.1" r="1.45" fill="#ff5a00"/><circle cx="7.7" cy="-15.2" r="1.10" fill="#ff5a00"/><circle cx="-9.9" cy="-0.4" r="1.03" fill="#ffff00"/><circle cx="-5.5" cy="0.3" r="1.40" fill="#ff5a00"/><circle cx="-7.2" cy="-19.2" r="1.53" fill="#ff1800"/><circle cx="0.9" cy="-21.2" r="1.56" fill="#ffff00"/><circle cx="1.8" cy="2.7" r="1.51" fill="#ff5a00"/><circle cx="10.2" cy="-4.0" r="1.03" fill="#ff5a00"/><circle cx="-8.7" cy="-18.1" r="1.57" fill="#ff5a00"/><circle cx="9.7" cy="-3.2" r="1.26" fill="#ff5a00"/><circle cx="8.6" cy="-6.5" r="1.53" fill="#ffe000"/><circle cx="-3.5" cy="0.8" r="0.99" fill="#ffff00"/><circle cx="-7.6" cy="-17.0" r="1.39" fill="#ffa800"/><circle cx="-0.8" cy="-19.9" r="1.27" fill="#ffd000"/><circle cx="9.0" cy="-14.0" r="1.31" fill="#ffe800"/><circle cx="-10.5" cy="-13.7" r="1.49" fill="#ffa800"/><circle cx="-10.2" cy="-14.5" r="1.51" fill="#ffff00"/><circle cx="-8.4" cy="-18.2" r="1.09" fill="#ffa800"/><circle cx="0.7" cy="-19.6" r="1.66" fill="#ffff00"/><circle cx="7.8" cy="-14.4" r="1.32" fill="#ffe800"/><circle cx="-0.3" cy="-20.2" r="1.61" fill="#ffa800"/><circle cx="6.7" cy="-17.2" r="1.67" fill="#ffd000"/><circle cx="-9.2" cy="-15.5" r="1.49" fill="#ffff00"/><circle cx="8.9" cy="-13.0" r="1.60" fill="#ffa800"/><circle cx="-6.6" cy="-19.0" r="1.05" fill="#ffd000"/><circle cx="2.4" cy="-19.1" r="1.23" fill="#ffd000"/><circle cx="4.0" cy="-19.6" r="1.25" fill="#ffff00"/><circle cx="1.2" cy="-18.9" r="1.23" fill="#ffa800"/><circle cx="-2.9" cy="-20.2" r="1.47" fill="#ffa800"/><circle cx="5.8" cy="-18.3" r="1.20" fill="#ffff00"/><circle cx="-4.6" cy="-19.8" r="1.12" fill="#ffe800"/><circle cx="5.4" cy="-18.2" r="1.38" fill="#ffa800"/><circle cx="-6.1" cy="-17.9" r="1.42" fill="#ffe800"/><circle cx="3.5" cy="-18.6" r="1.34" fill="#ffa800"/><circle cx="-10.7" cy="-13.5" r="1.47" fill="#ffe800"/><circle cx="9.3" cy="-14.0" r="1.63" fill="#ffa800"/><circle cx="1.5" cy="-20.7" r="1.16" fill="#ffa800"/><circle cx="-19.3" cy="18.1" r="0.92" fill="#ffa800"/><circle cx="-10.9" cy="9.2" r="0.86" fill="#ffff00"/><circle cx="-11.9" cy="12.4" r="0.97" fill="#ff1800"/><circle cx="-22.4" cy="19.5" r="1.59" fill="#ffe000"/><circle cx="-19.6" cy="19.4" r="1.14" fill="#ffe000"/><circle cx="-12.4" cy="10.7" r="0.93" fill="#ffff00"/><circle cx="-21.2" cy="22.4" r="1.35" fill="#ffa800"/><circle cx="-27.7" cy="23.4" r="1.28" fill="#ff5a00"/><circle cx="-20.0" cy="14.0" r="0.83" fill="#ff1800"/><circle cx="-19.6" cy="17.8" r="1.52" fill="#ff1800"/><circle cx="-15.6" cy="15.4" r="1.01" fill="#ffa800"/><circle cx="-10.8" cy="12.7" r="1.02" fill="#ff1800"/><circle cx="-13.6" cy="12.1" r="1.21" fill="#ff1800"/><circle cx="-12.7" cy="12.2" r="1.00" fill="#ffff00"/><circle cx="-19.5" cy="20.7" r="1.08" fill="#ffa800"/><circle cx="-17.0" cy="15.6" r="1.44" fill="#ff1800"/><circle cx="-19.4" cy="15.0" r="1.27" fill="#ffff00"/><circle cx="-21.7" cy="19.4" r="1.08" fill="#ffff00"/><circle cx="-13.2" cy="12.1" r="1.31" fill="#ff1800"/><circle cx="-21.8" cy="20.7" r="1.46" fill="#ffff00"/><circle cx="-26.5" cy="20.6" r="0.90" fill="#ff1800"/><circle cx="-11.3" cy="11.9" r="0.89" fill="#ffff00"/><circle cx="-24.6" cy="25.1" r="1.21" fill="#ffff00"/><circle cx="-14.1" cy="16.0" r="0.91" fill="#ffa800"/><circle cx="-24.1" cy="20.9" r="1.18" fill="#ffa800"/><circle cx="-19.6" cy="17.2" r="1.09" fill="#ffe000"/><circle cx="-27.7" cy="22.2" r="1.14" fill="#ff1800"/><circle cx="-36.4" cy="25.5" r="1.26" fill="#ff5a00"/><circle cx="-24.8" cy="24.2" r="1.41" fill="#ffe000"/><circle cx="-30.0" cy="24.1" r="1.03" fill="#ffa800"/><circle cx="-32.5" cy="25.6" r="1.54" fill="#ffff00"/><circle cx="-35.2" cy="24.1" r="0.94" fill="#ff5a00"/><circle cx="-33.1" cy="27.6" r="1.58" fill="#ff1800"/><circle cx="-37.4" cy="21.8" r="0.91" fill="#ffff00"/><circle cx="-41.7" cy="27.7" r="1.18" fill="#ff1800"/><circle cx="-36.0" cy="23.6" r="1.55" fill="#ffff00"/><circle cx="-29.8" cy="26.9" r="1.07" fill="#ff5a00"/><circle cx="-28.3" cy="21.6" r="1.29" fill="#ff1800"/><circle cx="-35.9" cy="26.4" r="0.94" fill="#ffe000"/><circle cx="-40.7" cy="25.8" r="1.38" fill="#ffe000"/><circle cx="-39.6" cy="27.6" r="1.55" fill="#ffe000"/><circle cx="-32.6" cy="25.1" r="0.83" fill="#ffff00"/><circle cx="-34.2" cy="24.1" r="1.58" fill="#ff1800"/><circle cx="-41.9" cy="29.4" r="1.41" fill="#ff1800"/><circle cx="-35.8" cy="25.2" r="1.16" fill="#ff1800"/><circle cx="-43.6" cy="25.6" r="0.88" fill="#ff1800"/><circle cx="-33.3" cy="26.0" r="0.97" fill="#ffa800"/><circle cx="-36.4" cy="22.9" r="1.01" fill="#ffa800"/><circle cx="-29.0" cy="25.8" r="1.34" fill="#ff5a00"/><circle cx="-31.6" cy="26.8" r="1.00" fill="#ff5a00"/><circle cx="-38.1" cy="27.8" r="1.00" fill="#ff1800"/><circle cx="-33.7" cy="23.3" r="0.92" fill="#ff1800"/><circle cx="-31.0" cy="23.1" r="1.47" fill="#ffe000"/><circle cx="-42.3" cy="26.7" r="1.39" fill="#ffa800"/><circle cx="-38.4" cy="27.3" r="0.97" fill="#ff5a00"/><circle cx="-38.0" cy="27.6" r="0.80" fill="#ff1800"/><circle cx="17.2" cy="12.4" r="0.88" fill="#ff1800"/><circle cx="25.0" cy="19.5" r="0.93" fill="#ffff00"/><circle cx="23.0" cy="15.6" r="1.27" fill="#ffe000"/><circle cx="22.1" cy="19.9" r="0.96" fill="#ff5a00"/><circle cx="13.3" cy="6.8" r="1.24" fill="#ffa800"/><circle cx="20.7" cy="17.7" r="1.53" fill="#ffa800"/><circle cx="11.6" cy="10.1" r="1.26" fill="#ffe000"/><circle cx="14.6" cy="12.1" r="1.47" fill="#ffa800"/><circle cx="9.9" cy="8.0" r="1.49" fill="#ffa800"/><circle cx="21.4" cy="21.2" r="1.38" fill="#ffe000"/><circle cx="16.9" cy="13.1" r="0.95" fill="#ffa800"/><circle cx="22.0" cy="14.1" r="1.47" fill="#ffa800"/><circle cx="16.6" cy="11.2" r="1.46" fill="#ff1800"/><circle cx="14.1" cy="12.6" r="1.20" fill="#ffff00"/><circle cx="17.3" cy="15.9" r="1.15" fill="#ffff00"/><circle cx="12.2" cy="10.4" r="1.52" fill="#ffff00"/><circle cx="20.0" cy="16.6" r="0.87" fill="#ff5a00"/><circle cx="18.8" cy="15.4" r="1.20" fill="#ff5a00"/><circle cx="18.7" cy="14.9" r="0.91" fill="#ffa800"/><circle cx="16.1" cy="12.7" r="1.36" fill="#ffff00"/><circle cx="19.2" cy="17.8" r="1.21" fill="#ff1800"/><circle cx="11.6" cy="8.3" r="1.11" fill="#ffa800"/><circle cx="21.2" cy="17.3" r="1.46" fill="#ff5a00"/><circle cx="10.6" cy="13.9" r="0.97" fill="#ff1800"/><circle cx="30.7" cy="25.3" r="0.99" fill="#ffe000"/><circle cx="35.5" cy="23.9" r="1.52" fill="#ffa800"/><circle cx="42.3" cy="27.8" r="0.92" fill="#ff5a00"/><circle cx="22.2" cy="20.5" r="0.86" fill="#ffe000"/><circle cx="28.0" cy="21.0" r="1.05" fill="#ffff00"/><circle cx="32.5" cy="21.0" r="1.26" fill="#ffff00"/><circle cx="34.1" cy="22.7" r="1.26" fill="#ff5a00"/><circle cx="35.8" cy="23.1" r="1.07" fill="#ff5a00"/><circle cx="35.2" cy="27.9" r="1.42" fill="#ffff00"/><circle cx="34.2" cy="18.4" r="1.46" fill="#ff5a00"/><circle cx="32.5" cy="24.5" r="1.32" fill="#ff1800"/><circle cx="23.5" cy="22.1" r="1.17" fill="#ff1800"/><circle cx="22.0" cy="20.6" r="0.96" fill="#ffe000"/><circle cx="25.0" cy="17.5" r="1.03" fill="#ffff00"/><circle cx="28.8" cy="19.4" r="1.53" fill="#ffa800"/><circle cx="28.3" cy="20.2" r="1.28" fill="#ffe000"/><circle cx="23.7" cy="17.3" r="1.39" fill="#ffff00"/><circle cx="25.3" cy="18.7" r="0.82" fill="#ffa800"/><circle cx="33.0" cy="22.8" r="1.16" fill="#ff1800"/><circle cx="31.9" cy="23.8" r="1.00" fill="#ffa800"/><circle cx="42.5" cy="25.5" r="1.06" fill="#ffe000"/><circle cx="35.7" cy="23.0" r="1.26" fill="#ffa800"/><circle cx="26.6" cy="17.8" r="1.45" fill="#ff1800"/><circle cx="30.7" cy="23.4" r="1.47" fill="#ff1800"/><circle cx="28.1" cy="20.9" r="1.32" fill="#ff1800"/><circle cx="30.2" cy="21.9" r="1.50" fill="#ff5a00"/><circle cx="35.9" cy="24.5" r="1.06" fill="#ffff00"/><circle cx="38.8" cy="22.1" r="1.20" fill="#ffff00"/><circle cx="31.4" cy="25.2" r="1.00" fill="#ffe000"/><circle cx="27.9" cy="23.0" r="1.57" fill="#ffe000"/><circle cx="-8.1" cy="-14.2" r="1.07" fill="#ffa800"/><circle cx="-12.5" cy="-7.7" r="0.74" fill="#ff1800"/><circle cx="-11.8" cy="-11.9" r="1.38" fill="#ff5a00"/><circle cx="-5.2" cy="-17.7" r="1.03" fill="#ffe000"/><circle cx="-12.1" cy="-9.6" r="0.87" fill="#ff5a00"/><circle cx="-6.1" cy="-15.9" r="1.11" fill="#ffe000"/><circle cx="-7.3" cy="-19.4" r="1.28" fill="#ffa800"/><circle cx="-5.3" cy="-16.1" r="0.98" fill="#ffff00"/><circle cx="-5.8" cy="-21.2" r="1.23" fill="#ffa800"/><circle cx="-7.7" cy="-12.1" r="1.14" fill="#ffff00"/><circle cx="-12.7" cy="-8.4" r="1.15" fill="#ffe000"/><circle cx="-3.3" cy="-19.5" r="0.82" fill="#ffe000"/><circle cx="-12.5" cy="-10.2" r="1.08" fill="#ffff00"/><circle cx="-1.9" cy="-21.4" r="0.94" fill="#ff1800"/><circle cx="-4.6" cy="-18.1" r="0.98" fill="#ffa800"/><circle cx="-14.7" cy="-9.0" r="0.98" fill="#ffa800"/><circle cx="11.0" cy="-9.7" r="0.84" fill="#ffe000"/><circle cx="7.1" cy="-12.1" r="1.04" fill="#ff1800"/><circle cx="13.6" cy="-8.6" r="1.33" fill="#ff1800"/><circle cx="11.7" cy="-10.1" r="0.82" fill="#ff1800"/><circle cx="9.6" cy="-12.8" r="1.27" fill="#ff1800"/><circle cx="8.6" cy="-12.7" r="1.15" fill="#ffff00"/><circle cx="5.7" cy="-18.2" r="1.26" fill="#ff5a00"/><circle cx="12.0" cy="-9.2" r="0.75" fill="#ffa800"/><circle cx="13.5" cy="-10.1" r="1.40" fill="#ffe000"/><circle cx="9.1" cy="-13.8" r="1.21" fill="#ffe000"/><circle cx="13.4" cy="-9.0" r="0.81" fill="#ff1800"/><circle cx="6.0" cy="-17.0" r="1.11" fill="#ffe000"/><circle cx="12.7" cy="-7.2" r="1.20" fill="#ffff00"/><circle cx="8.2" cy="-13.6" r="1.29" fill="#ff5a00"/><circle cx="13.7" cy="-7.9" r="0.89" fill="#ff1800"/><circle cx="-0.2" cy="-19.6" r="0.87" fill="#ff1800"/><circle cx="1.9" cy="-42.5" r="0.83" fill="#ff1800"/><circle cx="1.7" cy="-41.1" r="0.85" fill="#ffe000"/><circle cx="-0.7" cy="-49.2" r="1.21" fill="#ff5a00"/><circle cx="0.6" cy="-43.2" r="1.12" fill="#ff1800"/><circle cx="-1.2" cy="-30.4" r="1.18" fill="#ff1800"/><circle cx="1.9" cy="-48.1" r="1.05" fill="#ffa800"/><circle cx="0.4" cy="-41.4" r="0.99" fill="#ff5a00"/><circle cx="1.0" cy="-43.5" r="1.19" fill="#ffe000"/><circle cx="-0.6" cy="-46.9" r="1.06" fill="#ffe000"/><circle cx="-1.2" cy="-26.8" r="1.26" fill="#ffa800"/><circle cx="10.3" cy="-63.5" r="1.69" fill="#ffa800"/><circle cx="1.3" cy="-62.4" r="1.41" fill="#ffd000"/><circle cx="6.2" cy="-68.2" r="1.16" fill="#ffa800"/><circle cx="7.1" cy="-59.5" r="1.34" fill="#ffe800"/><circle cx="4.8" cy="-64.1" r="1.68" fill="#ffe800"/><circle cx="1.3" cy="-61.8" r="1.75" fill="#ff3a00"/><circle cx="6.5" cy="-67.6" r="0.98" fill="#ff3a00"/><circle cx="4.0" cy="-59.1" r="1.15" fill="#ffa800"/><circle cx="5.4" cy="-64.1" r="1.71" fill="#ffa800"/><circle cx="5.5" cy="-57.0" r="1.76" fill="#ffa800"/><circle cx="5.8" cy="-61.7" r="1.72" fill="#ffd000"/><circle cx="2.0" cy="-61.1" r="1.78" fill="#ff3a00"/><circle cx="7.7" cy="-65.4" r="1.77" fill="#ffd000"/><circle cx="3.3" cy="-58.4" r="1.63" fill="#ffe800"/><circle cx="10.6" cy="-63.7" r="1.05" fill="#ffff00"/><circle cx="9.2" cy="-59.3" r="1.68" fill="#ffa800"/><circle cx="-43.7" cy="-58.3" r="1.42" fill="#ffe000"/><circle cx="-41.4" cy="-58.2" r="1.27" fill="#ffa800"/><circle cx="-42.9" cy="-58.4" r="1.46" fill="#ffff00"/><circle cx="-38.7" cy="-60.1" r="1.06" fill="#ffff00"/><circle cx="-40.6" cy="-58.1" r="1.33" fill="#ff1800"/><circle cx="-37.4" cy="-60.1" r="1.40" fill="#ff5a00"/><circle cx="-41.8" cy="-60.9" r="1.07" fill="#ff5a00"/><circle cx="-42.9" cy="-58.8" r="1.00" fill="#ffff00"/><circle cx="-43.6" cy="-56.9" r="0.92" fill="#ffff00"/><circle cx="-37.6" cy="-60.3" r="1.43" fill="#ffe000"/><circle cx="-43.3" cy="-61.0" r="1.39" fill="#ffa800"/><circle cx="-42.5" cy="-58.1" r="1.06" fill="#ffe000"/><circle cx="30.3" cy="-76.1" r="1.54" fill="#ffd000"/><circle cx="28.8" cy="-74.0" r="1.22" fill="#ffff00"/><circle cx="23.2" cy="-76.0" r="1.47" fill="#ffd000"/><circle cx="25.5" cy="-77.8" r="1.29" fill="#ffe800"/><circle cx="29.2" cy="-76.0" r="1.27" fill="#ffe800"/><circle cx="23.7" cy="-76.3" r="1.51" fill="#ffe800"/><circle cx="25.4" cy="-75.6" r="1.56" fill="#ffa800"/><circle cx="30.1" cy="-76.2" r="1.53" fill="#ffa800"/><circle cx="28.0" cy="-75.7" r="1.46" fill="#ffa800"/><circle cx="26.5" cy="-77.9" r="1.44" fill="#ffe800"/><circle cx="29.5" cy="-75.2" r="1.63" fill="#ffa800"/><circle cx="30.7" cy="-77.5" r="1.60" fill="#ffa800"/><circle cx="40.2" cy="-64.0" r="1.38" fill="#ffff00"/><circle cx="39.8" cy="-63.3" r="1.42" fill="#ffa800"/><circle cx="42.1" cy="-59.5" r="1.25" fill="#ffa800"/><circle cx="41.2" cy="-61.1" r="1.39" fill="#ffff00"/><circle cx="42.3" cy="-63.5" r="1.24" fill="#ff5a00"/><circle cx="40.0" cy="-58.3" r="1.31" fill="#ffa800"/><circle cx="39.2" cy="-60.9" r="1.14" fill="#ffa800"/><circle cx="42.3" cy="-58.9" r="1.33" fill="#ff5a00"/><circle cx="57.4" cy="33.6" r="1.34" fill="#ffd000"/><circle cx="59.2" cy="32.0" r="1.36" fill="#ffd000"/><circle cx="60.6" cy="33.0" r="1.14" fill="#ffe800"/><circle cx="60.6" cy="33.3" r="1.52" fill="#ffe800"/><circle cx="58.0" cy="27.9" r="1.12" fill="#ff3a00"/><circle cx="60.9" cy="33.5" r="1.22" fill="#ffd000"/><circle cx="59.7" cy="32.3" r="1.30" fill="#ff3a00"/><circle cx="60.9" cy="31.6" r="1.31" fill="#ffa800"/><circle cx="59.2" cy="27.7" r="1.38" fill="#ffa800"/><circle cx="60.8" cy="33.5" r="1.17" fill="#ffa800"/><circle cx="60.5" cy="28.4" r="1.74" fill="#ff3a00"/><circle cx="59.8" cy="26.2" r="1.02" fill="#ff3a00"/><circle cx="57.2" cy="26.3" r="1.45" fill="#ff3a00"/><circle cx="59.8" cy="30.2" r="1.77" fill="#ffd000"/><circle cx="51.6" cy="4.7" r="1.23" fill="#ffe000"/><circle cx="56.4" cy="3.1" r="0.94" fill="#ff5a00"/><circle cx="52.8" cy="-8.3" r="0.91" fill="#ffe000"/><circle cx="52.6" cy="-8.6" r="0.90" fill="#ff5a00"/><circle cx="55.4" cy="-0.2" r="0.93" fill="#ffff00"/><circle cx="53.7" cy="-9.8" r="1.02" fill="#ffe000"/><circle cx="55.0" cy="6.3" r="0.75" fill="#ffff00"/><circle cx="54.5" cy="5.4" r="1.13" fill="#ffe000"/><circle cx="54.4" cy="6.8" r="0.71" fill="#ff5a00"/><circle cx="55.5" cy="-5.3" r="0.73" fill="#ffe000"/><circle cx="53.9" cy="8.9" r="1.00" fill="#ff5a00"/><circle cx="53.0" cy="8.6" r="1.14" fill="#ffa800"/><circle cx="54.7" cy="-1.1" r="0.74" fill="#ffe000"/><circle cx="56.2" cy="6.7" r="0.76" fill="#ff1800"/><circle cx="55.4" cy="-7.0" r="1.14" fill="#ffa800"/><circle cx="54.3" cy="8.3" r="1.20" fill="#ffa800"/><circle cx="-59.0" cy="10.5" r="0.71" fill="#ffe000"/><circle cx="-58.8" cy="10.7" r="0.93" fill="#ff5a00"/><circle cx="-56.7" cy="11.7" r="1.12" fill="#ff1800"/><circle cx="-58.9" cy="6.6" r="0.76" fill="#ffff00"/><circle cx="-57.1" cy="7.1" r="0.91" fill="#ff1800"/><circle cx="-58.0" cy="6.3" r="0.74" fill="#ffff00"/><circle cx="-59.8" cy="10.2" r="0.76" fill="#ffff00"/><circle cx="-58.4" cy="10.9" r="1.12" fill="#ffff00"/><circle cx="-56.5" cy="34.8" r="1.18" fill="#ffff00"/><circle cx="-57.5" cy="36.5" r="1.27" fill="#ff1800"/><circle cx="-59.1" cy="30.4" r="1.49" fill="#ff1800"/><circle cx="-55.8" cy="28.5" r="1.11" fill="#ffa800"/><circle cx="-59.0" cy="38.3" r="0.89" fill="#ff5a00"/><circle cx="-57.6" cy="34.2" r="1.03" fill="#ffa800"/><circle cx="-59.3" cy="35.7" r="0.88" fill="#ff1800"/><circle cx="-57.6" cy="33.3" r="1.17" fill="#ff1800"/><circle cx="-57.3" cy="28.1" r="1.25" fill="#ff1800"/><circle cx="-57.5" cy="36.2" r="1.35" fill="#ff5a00"/><circle cx="-57.8" cy="33.1" r="0.93" fill="#ff1800"/><circle cx="-56.8" cy="31.1" r="1.28" fill="#ffff00"/><circle cx="-57.6" cy="34.4" r="1.25" fill="#ffff00"/><circle cx="-58.4" cy="38.0" r="1.02" fill="#ffa800"/><circle cx="-32.1" cy="-31.2" r="1.20" fill="#ffe800"/><circle cx="-31.7" cy="-33.4" r="0.71" fill="#ffd000"/><circle cx="-30.9" cy="-37.4" r="0.70" fill="#ff5a00"/><circle cx="-31.6" cy="-34.4" r="1.23" fill="#ffa800"/><circle cx="-29.1" cy="-30.6" r="0.79" fill="#ffe800"/><circle cx="-29.5" cy="-33.9" r="1.09" fill="#ffe800"/><circle cx="-29.1" cy="-27.1" r="1.28" fill="#ffe800"/><circle cx="-31.9" cy="-33.3" r="1.04" fill="#ffe800"/><circle cx="-29.1" cy="-35.7" r="1.00" fill="#ff5a00"/><circle cx="-29.9" cy="-33.4" r="0.77" fill="#ffe800"/><circle cx="-29.4" cy="-33.2" r="0.86" fill="#ffd000"/><circle cx="-28.6" cy="-30.4" r="1.14" fill="#ffe800"/><circle cx="-29.4" cy="-34.5" r="1.14" fill="#ffff00"/><circle cx="-30.7" cy="-31.3" r="0.83" fill="#ffff00"/><circle cx="-31.5" cy="-25.5" r="0.76" fill="#ffff00"/><circle cx="-31.8" cy="-26.0" r="1.05" fill="#ff5a00"/><circle cx="13.7" cy="1.7" r="0.54" fill="#ff1800"/><circle cx="23.2" cy="4.6" r="0.88" fill="#ff1800"/><circle cx="39.9" cy="-30.0" r="0.70" fill="#ff2a00"/><circle cx="3.4" cy="-3.4" r="0.86" fill="#ff2a00"/><circle cx="-11.2" cy="17.3" r="0.85" fill="#ff1000"/><circle cx="-25.2" cy="-36.0" r="0.70" fill="#ff1800"/><circle cx="-8.1" cy="30.9" r="0.87" fill="#ff1000"/><circle cx="7.4" cy="15.7" r="0.58" fill="#ff1800"/><circle cx="16.4" cy="-27.4" r="0.83" fill="#ff1000"/><circle cx="-20.5" cy="-32.1" r="0.88" fill="#ff1800"/><circle cx="3.8" cy="10.6" r="0.73" fill="#ff1800"/><circle cx="-34.2" cy="12.0" r="0.91" fill="#ff1800"/><circle cx="-42.9" cy="-19.5" r="0.77" fill="#ff2a00"/><circle cx="-18.5" cy="-33.6" r="0.59" fill="#ff1000"/><circle cx="-1.8" cy="-46.9" r="0.70" fill="#ff1800"/><circle cx="-10.1" cy="1.5" r="0.70" fill="#ff1800"/><circle cx="-21.3" cy="31.0" r="0.79" fill="#ff1000"/><circle cx="-32.3" cy="13.2" r="0.86" fill="#ff2a00"/><circle cx="37.6" cy="6.0" r="0.96" fill="#ff1800"/><circle cx="7.0" cy="29.8" r="0.74" fill="#ff2a00"/><circle cx="-10.5" cy="-15.6" r="0.96" fill="#ff2a00"/><circle cx="-39.8" cy="4.3" r="0.50" fill="#ff1800"/><circle cx="-37.7" cy="8.5" r="0.60" fill="#ff1000"/><circle cx="-46.3" cy="-9.9" r="0.87" fill="#ff1800"/><circle cx="29.7" cy="0.7" r="0.83" fill="#ff1000"/><circle cx="39.6" cy="-10.3" r="0.80" fill="#ff1800"/><circle cx="16.0" cy="-33.0" r="0.85" fill="#ff1000"/><circle cx="-29.6" cy="-32.2" r="0.98" fill="#ff2a00"/><circle cx="-20.8" cy="-11.2" r="0.79" fill="#ff2a00"/><circle cx="5.3" cy="-3.5" r="0.72" fill="#ff1800"/><circle cx="4.6" cy="24.0" r="0.79" fill="#ff2a00"/><circle cx="4.5" cy="-37.6" r="0.77" fill="#ff2a00"/><circle cx="-36.9" cy="-0.2" r="0.94" fill="#ff2a00"/><circle cx="-5.0" cy="6.5" r="0.86" fill="#ff2a00"/><circle cx="-26.9" cy="5.8" r="0.93" fill="#ff2a00"/><circle cx="-14.5" cy="-23.6" r="0.54" fill="#ff1000"/><circle cx="38.5" cy="0.3" r="0.97" fill="#ff1000"/><circle cx="-17.5" cy="23.4" r="0.99" fill="#ff1000"/><circle cx="-13.1" cy="-28.4" r="0.86" fill="#ff1800"/><circle cx="-10.7" cy="-20.6" r="0.57" fill="#ff2a00"/><circle cx="-14.1" cy="10.6" r="0.68" fill="#ff1800"/><circle cx="32.6" cy="-34.4" r="0.94" fill="#ff2a00"/><circle cx="-19.8" cy="1.7" r="0.69" fill="#ff1000"/><circle cx="16.1" cy="18.4" r="0.60" fill="#ff1000"/><circle cx="-40.1" cy="-26.7" r="0.58" fill="#ff1800"/><circle cx="-14.8" cy="1.3" r="0.83" fill="#ff1800"/><circle cx="14.8" cy="24.1" r="0.65" fill="#ff1800"/><circle cx="-12.1" cy="1.1" r="0.89" fill="#ff1800"/><circle cx="-39.8" cy="4.6" r="0.80" fill="#ff1000"/><circle cx="-40.1" cy="8.4" r="0.71" fill="#ff1800"/><circle cx="9.6" cy="-34.5" r="0.77" fill="#ff1800"/><circle cx="-18.7" cy="28.5" r="0.78" fill="#ff1800"/><circle cx="-48.9" cy="1.4" r="0.53" fill="#ff1800"/><circle cx="41.0" cy="-23.2" r="0.75" fill="#ff1000"/><circle cx="27.2" cy="-5.3" r="0.92" fill="#ff2a00"/><circle cx="17.6" cy="-12.6" r="0.88" fill="#ff1000"/><circle cx="4.2" cy="-12.5" r="0.86" fill="#ff1800"/><circle cx="26.7" cy="-37.5" r="0.97" fill="#ff1000"/><circle cx="-4.4" cy="-39.0" r="0.86" fill="#ff2a00"/><circle cx="-41.4" cy="-3.9" r="0.59" fill="#ff1000"/><circle cx="-10.6" cy="11.0" r="0.89" fill="#ff1800"/><circle cx="-4.4" cy="-13.7" r="0.59" fill="#ff1000"/><circle cx="17.9" cy="8.6" r="0.88" fill="#ff1000"/><circle cx="-2.9" cy="2.4" r="0.57" fill="#ff2a00"/><circle cx="27.6" cy="-14.8" r="0.76" fill="#ff2a00"/><circle cx="39.3" cy="-0.7" r="0.72" fill="#ff1000"/><circle cx="37.4" cy="21.3" r="0.51" fill="#ff1000"/><circle cx="-22.1" cy="-37.6" r="0.77" fill="#ff1800"/><circle cx="-11.4" cy="20.7" r="0.85" fill="#ff2a00"/><circle cx="-14.8" cy="-7.3" r="0.93" fill="#ff1800"/><circle cx="-40.8" cy="32.4" r="0.96" fill="#ff2a00"/><circle cx="-39.9" cy="33.7" r="0.62" fill="#ff1800"/><circle cx="-39.2" cy="34.9" r="0.86" fill="#ff2a00"/><circle cx="-49.7" cy="33.6" r="0.87" fill="#ff1000"/><circle cx="-35.4" cy="35.6" r="0.73" fill="#ff1000"/><circle cx="-48.3" cy="35.2" r="0.76" fill="#ff1800"/><circle cx="-38.5" cy="32.7" r="0.98" fill="#ff2a00"/><circle cx="-45.2" cy="31.0" r="1.03" fill="#ff2a00"/><circle cx="-45.0" cy="36.3" r="1.09" fill="#ff1800"/><circle cx="-41.5" cy="29.6" r="0.84" fill="#ff2a00"/><circle cx="-36.6" cy="35.6" r="0.77" fill="#ff1000"/><circle cx="-40.4" cy="36.5" r="0.85" fill="#ff2a00"/><circle cx="-37.1" cy="31.3" r="0.67" fill="#ff1000"/><circle cx="-42.1" cy="30.8" r="0.61" fill="#ff2a00"/><circle cx="-35.8" cy="34.6" r="0.74" fill="#ff1800"/><circle cx="-46.4" cy="35.1" r="1.05" fill="#ff1000"/><circle cx="-35.2" cy="32.3" r="0.91" fill="#ff1000"/><circle cx="-45.5" cy="37.5" r="0.73" fill="#ff1000"/><circle cx="58.7" cy="56.8" r="0.75" fill="#ff2a00"/><circle cx="57.8" cy="59.9" r="0.71" fill="#ff2a00"/><circle cx="56.7" cy="56.5" r="1.00" fill="#ff1000"/><circle cx="57.6" cy="56.8" r="0.76" fill="#ff1800"/><circle cx="57.1" cy="56.1" r="0.86" fill="#ff1000"/><circle cx="57.8" cy="57.8" r="0.87" fill="#ff2a00"/></g>
<text x="203.15" y="432.6" font-size="13" font-weight="bold" text-anchor="middle" fill="#fff" textLength="32.9" lengthAdjust="spacingAndGlyphs" stroke="#fff" stroke-width="0.3">(VLF)</text>
<text x="372.65" y="432.6" font-size="13" font-weight="bold" text-anchor="middle" fill="#fff" textLength="41.9" lengthAdjust="spacingAndGlyphs" stroke="#fff" stroke-width="0.3">(RESP)</text>
<text x="548.55" y="432.8" font-size="13" font-weight="bold" text-anchor="middle" fill="#fff" textLength="47.7" lengthAdjust="spacingAndGlyphs" stroke="#fff" stroke-width="0.3">(CARD)</text>
<path d="M97.5,467.4V644.8H643.8" fill="none" stroke="#000" stroke-width="1.9"/>
<text x="93.4" y="487.7" font-size="11.8" font-weight="bold" text-anchor="end" textLength="21.8" lengthAdjust="spacingAndGlyphs">145</text>
<text x="93.4" y="517.0" font-size="11.8" font-weight="bold" text-anchor="end" textLength="21.8" lengthAdjust="spacingAndGlyphs">140</text>
<text x="93.4" y="546.5" font-size="11.8" font-weight="bold" text-anchor="end" textLength="21.8" lengthAdjust="spacingAndGlyphs">135</text>
<text x="93.4" y="576.3000000000001" font-size="11.8" font-weight="bold" text-anchor="end" textLength="21.8" lengthAdjust="spacingAndGlyphs">130</text>
<text x="93.4" y="606.1" font-size="11.8" font-weight="bold" text-anchor="end" textLength="21.8" lengthAdjust="spacingAndGlyphs">125</text>
<text x="93.4" y="635.9000000000001" font-size="11.8" font-weight="bold" text-anchor="end" textLength="21.8" lengthAdjust="spacingAndGlyphs">120</text>
<text x="62" y="606.4" font-size="15.8" font-weight="bold" textLength="115.4" lengthAdjust="spacingAndGlyphs" transform="rotate(-90 62 606.4)">Amplitude (a.u)</text>
<text x="97.1" y="659.7" font-size="10.9" font-weight="bold" text-anchor="middle" textLength="7.3" lengthAdjust="spacingAndGlyphs">0</text>
<text x="180" y="659.7" font-size="10.9" font-weight="bold" text-anchor="middle" textLength="7.3" lengthAdjust="spacingAndGlyphs">5</text>
<text x="267.6" y="659.7" font-size="10.9" font-weight="bold" text-anchor="middle" textLength="14.6" lengthAdjust="spacingAndGlyphs">10</text>
<text x="456.8" y="659.7" font-size="10.9" font-weight="bold" text-anchor="middle" textLength="14.6" lengthAdjust="spacingAndGlyphs">20</text>
<text x="546.6" y="659.7" font-size="10.9" font-weight="bold" text-anchor="middle" textLength="14.6" lengthAdjust="spacingAndGlyphs">25</text>
<text x="635" y="659.7" font-size="10.9" font-weight="bold" text-anchor="middle" textLength="14.6" lengthAdjust="spacingAndGlyphs">30</text>
<text x="370.7" y="659.7" font-size="10.9" font-weight="bold" text-anchor="middle" textLength="47.8" lengthAdjust="spacingAndGlyphs">Time (s)</text>
<polyline points="99.8,523.2 103.2,516.7 106.3,509.1 109.3,513.5 112.4,509.8 115.6,509.1 118.9,514.5 122.1,516.1 124.3,513.5 127.6,522.8 130.8,511.3 133.6,509.1 136.7,517.8 139.5,517.8 142.8,508.5 146.0,510.6 148.8,511.3 151.9,516.7 155.8,517.4 160.1,517.4 164.0,515.6 167.1,520.0 169.9,511.3 173.1,512.4 176.4,514.1 179.2,518.4 182.3,511.3 185.1,517.8 188.3,513.5 191.6,516.3 194.4,514.5 197.5,506.9 200.5,505.9 203.5,515.0 208.3,510.6 212.2,516.7 215.5,521.5 219.2,513.5 223.1,512.4 226.3,513.5 228.5,511.3 231.3,516.7 233.9,511.3 236.9,509.8 239.8,514.1 242.6,515.0 245.6,522.1 249.1,508.0 251.7,516.7 254.3,515.6 257.8,521.5 260.8,513.5 263.6,514.1 266.9,508.5 270.2,527.1 273.4,514.5 276.7,510.6 281.0,509.1 285.4,510.6 288.6,506.9 294.0,505.4 297.3,518.9 300.5,515.6 303.8,508.5 306.4,508.0 309.2,514.5 312.5,512.4 315.1,511.9 318.6,505.4 321.2,505.9 325.5,515.6 328.1,516.7 333.8,504.1 336.8,515.6 340.3,514.1 342.9,507.6 346.1,515.0 348.9,507.6 351.6,510.2 354.8,528.6 358.1,511.3 361.3,512.4 364.6,516.3 368.9,514.5 371.5,511.9 374.1,512.4 376.9,517.1 379.8,516.7 382.8,522.1 386.7,515.6 392.1,506.9 395.0,515.0 398.0,507.6 400.8,507.6 404.1,509.8 407.3,513.5 410.1,510.2 413.2,517.8 416.0,511.9 418.8,517.8 421.9,509.8 425.3,509.1 428.4,507.6 431.2,513.5 434.0,512.8 437.1,510.2 439.9,511.3 443.6,522.8 447.0,522.8 450.1,514.5 452.9,508.0 456.2,511.9 459.4,511.9 462.2,511.9 464.8,515.0 467.5,509.1 470.9,520.0 473.5,517.8 476.8,516.3 480.0,502.6 483.3,514.5 486.1,515.0 488.7,515.0 492.0,509.1 495.2,505.4 497.8,507.6 501.7,520.6 504.8,510.6 507.6,504.1 510.4,502.6 513.5,518.4 516.3,520.0 519.5,509.1 522.1,510.2 525.0,509.1 528.2,508.0 531.5,521.5 534.7,509.1 538.0,509.8 540.8,514.5 544.5,510.2 547.8,509.8 551.0,509.1 556.0,512.4 559.0,511.3 564.7,503.7 567.7,512.8 570.5,511.9 573.8,509.1 576.4,506.3 579.9,513.5 582.5,511.3 585.7,517.1 589.0,510.2 592.3,517.8 595.5,514.1 598.8,513.5 601.6,512.8 604.6,509.8 607.4,510.6 610.7,515.6 614.0,508.5 617.2,516.3 620.5,510.6 623.7,509.8 626.3,511.3 629.2,510.6 632.8,516.7" fill="none" stroke="#f0141e" stroke-width="1.7" stroke-linejoin="round"/>
<polyline points="99.8,592.0 103.7,589.4 107.6,579.7 110.2,584.0 113.5,593.8 116.3,586.2 119.3,587.3 122.1,595.9 125.4,592.7 128.6,600.3 131.9,599.2 137.3,595.3 141.0,598.1 143.8,597.0 147.1,590.5 149.7,589.4 153.2,598.8 156.2,598.1 159.0,595.3 161.9,596.6 164.5,595.3 167.9,602.4 171.0,599.2 174.2,591.6 177.0,585.1 180.1,597.0 182.9,599.2 186.2,597.0 189.4,590.5 192.7,587.3 198.1,593.8 201.4,588.8 204.6,591.6 207.9,597.0 211.1,597.0 213.9,594.4 216.6,597.0 219.2,601.8 222.6,603.1 225.2,600.3 229.1,593.8 231.7,594.8 235.4,598.1 239.8,595.3 244.1,588.8 247.4,601.4 250.0,601.8 252.8,600.3 256.0,592.7 258.7,597.0 262.1,595.9 265.4,605.7 268.6,593.1 271.7,593.8 274.5,595.3 278.8,588.3 283.6,582.5 286.9,588.3 289.7,590.5 292.5,594.8 295.6,593.1 299.0,593.8 301.6,593.8 304.9,599.2 308.1,593.8 311.4,590.5 314.2,596.6 316.8,595.9 320.1,592.2 323.3,596.6 325.9,597.5 328.8,597.0 332.0,596.6 335.3,599.6 338.1,593.8 341.1,601.8 344.6,590.1 347.2,591.6 349.8,590.5 353.3,593.8 356.3,602.4 359.8,591.6 362.8,592.2 365.0,588.8 368.3,593.8 371.5,592.2 374.8,587.3 377.6,590.5 380.2,595.3 383.5,595.9 386.7,593.8 390.0,594.4 392.8,592.7 395.8,598.1 398.6,598.1 401.9,592.7 405.2,588.8 408.0,592.2 411.0,597.0 413.8,595.9 417.1,590.1 420.4,597.5 423.2,600.3 426.2,599.2 429.7,593.1 432.7,594.8 435.5,596.6 438.8,592.2 441.4,586.6 444.2,588.8 447.5,588.8 450.7,593.8 453.6,586.8 456.2,591.6 459.4,587.3 462.2,590.1 465.9,598.1 469.2,595.9 472.4,593.8 475.3,596.6 477.9,600.3 481.1,593.8 483.9,598.1 487.0,593.8 489.8,597.5 493.1,593.1 496.3,591.6 499.1,595.3 502.2,601.8 505.4,599.6 508.7,607.4 511.9,595.3 514.8,593.8 517.4,598.1 520.6,592.7 523.4,593.8 526.0,595.3 529.3,590.5 532.6,600.3 535.8,594.4 539.1,593.1 541.7,591.6 544.5,595.3 547.3,595.3 551.0,588.8 554.3,593.8 557.5,597.0 560.8,595.9 566.2,590.5 569.5,595.3 572.7,594.4 575.5,598.1 578.6,587.9 581.4,587.7 584.7,595.3 587.9,600.9 590.7,590.1 593.8,595.9 596.6,595.9 599.8,597.5 603.1,593.8 605.9,588.8 608.5,587.9 611.8,600.3 615.0,591.6 618.3,592.2 621.1,590.5 624.2,592.7 627.0,596.6 629.8,590.5 632.8,588.8" fill="none" stroke="#138a2a" stroke-width="1.7" stroke-linejoin="round"/>
<polyline points="99.8,630.0 104.1,629.6 107.6,635.7 111.3,631.7 115.6,628.5 119.3,625.9 122.1,625.9 125.4,624.8 128.6,627.8 131.9,632.2 134.7,635.7 138.0,629.6 141.0,631.7 143.8,633.9 147.1,636.1 150.4,632.2 153.2,627.4 155.8,628.5 159.0,624.8 161.9,634.4 164.9,635.0 167.7,632.8 170.5,635.0 173.6,633.9 176.4,632.8 179.7,632.2 182.9,629.6 186.2,627.4 188.8,627.0 192.2,632.2 194.8,631.3 198.1,626.3 201.4,623.5 204.6,625.2 207.9,630.0 211.1,627.8 213.9,627.0 217.0,627.0 219.8,632.8 222.6,634.4 225.7,629.6 228.5,635.0 231.7,633.9 234.3,633.5 237.6,632.8 240.9,631.3 244.1,630.0 247.4,633.9 251.7,629.1 256.5,625.2 259.3,636.1 262.6,632.2 265.8,630.0 269.1,627.8 271.7,628.5 274.9,625.7 278.2,633.5 281.0,636.5 284.3,631.3 286.9,627.8 290.1,624.6 292.9,627.0 296.2,626.3 299.0,632.2 301.6,629.6 304.9,633.9 307.7,636.1 310.7,632.8 314.2,640.0 316.8,638.3 320.7,636.5 323.8,635.7 326.6,634.4 329.4,635.0 333.1,640.9 336.4,640.0 339.6,635.7 341.8,628.9 344.6,637.2 347.6,637.2 350.5,637.2 353.7,633.9 357.0,631.3 359.8,631.7 362.8,633.9 365.0,633.9 368.3,632.2 371.5,629.6 374.8,626.3 377.6,627.8 380.6,627.0 383.5,630.7 386.7,633.9 390.0,635.0 393.2,633.9 396.5,632.2 399.3,633.5 401.9,631.3 405.2,640.0 408.4,637.2 411.7,635.0 414.9,630.7 418.2,631.7 421.0,635.0 423.6,633.5 426.9,627.4 429.7,633.9 432.7,631.3 436.2,630.7 438.8,631.3 442.1,627.4 444.9,629.6 447.9,632.8 450.7,631.7 453.6,630.7 456.6,630.0 460.1,627.8 462.7,629.1 465.9,632.8 468.8,629.6 471.8,632.8 474.6,633.9 477.9,636.1 481.1,634.4 483.9,631.7 487.0,633.5 489.8,632.2 493.1,631.7 496.3,633.9 499.1,633.5 503.3,633.5 506.1,632.2 508.7,637.2 511.9,629.1 514.8,637.2 517.4,640.0 521.7,635.7 526.0,632.2 530.4,630.0 533.6,631.3 538.6,633.9 542.3,624.8 545.6,626.3 548.8,630.0 552.1,633.9 555.4,633.5 559.7,633.5 562.9,635.0 566.2,635.0 569.5,631.7 572.7,640.0 576.0,637.8 579.2,632.8 582.0,632.8 585.1,631.7 587.9,633.5 590.7,635.0 593.8,639.3 597.2,631.3 600.3,632.2 603.1,633.9 605.9,633.5 608.5,634.4 611.8,632.8 616.1,628.5 618.9,629.1 621.6,631.3 624.2,632.2 627.0,633.5 630.2,627.4 632.8,629.6" fill="none" stroke="#1414f0" stroke-width="1.7" stroke-linejoin="round"/>
<rect x="247.6" y="468.1" width="275.7" height="20" fill="#fff" stroke="#000" stroke-width="2"/>
<text x="254.2" y="483.2" font-size="15" font-weight="bold" fill="#1010e0">1 Slice</text>
<text x="321.8" y="483.2" font-size="15" font-weight="bold" fill="#2a9a3c">2 Slices-1st</text>
<text x="424" y="483.2" font-size="15" font-weight="bold" fill="#e8202a">2 Slices-2nd</text>
<polyline points="98.7,822.8 100.0,802.9 101.3,787.7 103.0,802.9 105.2,811.6 108.5,812.6 110.6,808.3 112.8,806.1 115.6,797.9 117.8,805.0 120.4,815.9 123.0,814.8 124.7,812.6 126.5,809.4 128.0,794.2 129.7,796.4 131.2,766.0 133.0,728.6 134.7,761.6 136.7,798.5 138.8,818.1 141.0,821.3 144.3,820.2 147.5,819.8 150.3,817.6 152.9,819.8 157.3,821.5 161.6,820.7 164.9,819.2 167.1,820.2 169.9,817.0 172.5,815.9 175.7,817.6 179.0,820.7 183.3,821.5 189.8,822.0 196.4,821.5 200.7,820.7 202.9,819.2 205.0,807.2 206.6,801.1 208.3,811.6 209.8,755.1 211.1,705.2 212.6,704.8 214.2,733.4 215.5,798.5 217.0,819.8 220.2,820.2 223.5,821.5 226.7,821.1 230.0,821.5 231.0,822.3 233.0,822.6 235.0,822.5 237.0,822.7 239.0,822.7 241.0,822.1 243.0,822.1 245.0,823.0 247.0,822.3 249.0,822.3 251.0,823.1 253.0,822.6 255.0,823.0 257.0,822.6 259.0,822.8 261.0,822.2 263.0,822.7 265.0,823.0 267.0,822.6 269.0,822.9 271.0,822.8 273.0,822.1 275.0,822.9 277.0,822.7 279.0,822.4 281.0,822.1 283.0,823.0 285.0,822.6 287.0,822.8 289.0,823.0 291.0,822.8 293.0,823.1 295.0,822.5 297.0,822.9 299.0,822.5 301.0,823.1 303.0,823.0 305.0,822.2 307.0,822.2 309.0,822.3 311.0,823.1 313.0,822.5 315.0,822.7 317.0,822.4 319.0,822.5 321.0,817.2 323.0,820.6 325.0,813.5 327.0,796.1 329.0,820.8 331.0,822.8 333.0,823.1 335.0,823.0 337.0,823.1 339.0,822.8 341.0,822.2 343.0,823.0 345.0,823.1 347.0,823.0 349.0,822.7 351.0,822.8 353.0,822.3 355.0,823.0 357.0,822.7 359.0,822.4 361.0,822.1 363.0,822.8 365.0,821.5 367.0,820.5 369.0,822.7 371.0,822.5 373.0,822.2 375.0,822.4 377.0,822.9 379.0,823.0 381.0,822.1 383.0,822.7 385.0,822.1 387.0,822.8 389.0,822.4 391.0,823.0 393.0,823.1 395.0,822.6 397.0,823.1 399.0,822.4 401.0,822.1 403.0,822.7 405.0,822.1 407.0,822.3 409.0,822.5 411.0,822.7 413.0,822.2 415.0,822.1 417.0,823.0 419.0,822.4 421.0,823.1 423.0,823.0 425.0,822.5 427.0,822.6 429.0,822.6 431.0,822.8 433.0,822.7 435.0,822.0 437.0,818.2 439.0,822.7 441.0,818.1 443.0,814.8 445.0,822.5 447.0,822.3 449.0,822.4 451.0,823.1 453.0,822.6 455.0,822.7 457.0,822.1 459.0,822.5 461.0,822.7 463.0,822.1 465.0,822.7 467.0,822.7 469.0,822.1 471.0,822.7 473.0,822.6 475.0,822.8 477.0,822.4 479.0,822.8 481.0,822.9 483.0,822.1 485.0,822.1 487.0,822.8 489.0,823.1 491.0,822.3 493.0,822.6 495.0,822.7 497.0,822.4 499.0,822.5 501.0,822.4 503.0,822.5 505.0,822.7 507.0,822.4 509.0,822.5 511.0,822.9 513.0,822.1 515.0,822.7 517.0,822.7 519.0,821.1 521.0,821.0 523.0,822.8 525.0,822.3 527.0,822.3 529.0,822.5 531.0,822.8 533.0,822.2 535.0,822.4 537.0,822.4 539.0,823.0 541.0,822.5 543.0,823.0 545.0,822.2 547.0,822.4 549.0,822.8 551.0,823.0 553.0,822.5 555.0,822.3 557.0,822.2 559.0,822.6 561.0,822.3 563.0,822.9 565.0,823.0 567.0,822.3 569.0,822.4 571.0,822.9 573.0,822.8 575.0,822.9 577.0,822.4 579.0,822.2 581.0,822.4 583.0,822.9 585.0,822.3 587.0,822.4 589.0,822.5 591.0,822.5 593.0,822.5 595.0,823.1 597.0,822.2 599.0,822.1 601.0,823.1 603.0,823.0 605.0,823.1 607.0,822.5 609.0,823.1 611.0,823.1 613.0,822.3 615.0,822.9 617.0,823.0 619.0,822.8 621.0,822.6 623.0,822.4 625.0,822.4 627.0,820.6 629.0,819.6 631.0,822.6 633.0,822.4 635.0,822.9 637.0,822.1 639.0,823.0 641.0,822.8" fill="none" stroke="#f0141e" stroke-width="1.6" stroke-linejoin="round"/>
<polyline points="98.7,822.8 100.4,787.7 101.7,775.1 103.0,792.0 104.8,812.6 106.3,807.2 108.5,811.6 110.6,813.7 113.9,814.8 117.1,818.1 120.0,814.2 122.6,817.6 125.8,818.5 129.1,819.8 132.3,818.1 134.5,802.9 136.7,791.6 138.2,800.7 139.9,818.1 142.1,820.7 146.4,820.2 150.8,819.8 155.1,820.2 159.5,820.7 163.8,820.2 168.1,819.8 172.5,817.0 175.7,815.5 177.9,818.1 181.2,820.2 187.7,820.7 194.2,821.1 200.7,820.2 205.0,819.2 207.6,813.3 209.4,818.1 210.7,776.8 212.0,733.4 213.3,720.4 214.6,746.4 215.9,794.2 217.2,818.1 219.2,817.0 221.3,820.2 223.5,818.5 225.7,820.9 227.8,819.8 230.0,820.9 231.0,820.5 233.0,820.2 235.0,821.0 237.0,820.1 239.0,820.9 241.0,820.6 243.0,820.1 245.0,820.8 247.0,820.1 249.0,820.6 251.0,817.8 253.0,816.4 255.0,820.2 257.0,821.3 259.0,820.2 261.0,820.4 263.0,821.0 265.0,821.5 267.0,820.9 269.0,820.6 271.0,821.6 273.0,820.1 275.0,821.4 277.0,820.5 279.0,820.2 281.0,820.2 283.0,820.5 285.0,821.3 287.0,820.3 289.0,820.9 291.0,821.0 293.0,820.6 295.0,820.9 297.0,820.1 299.0,820.1 301.0,820.3 303.0,821.1 305.0,820.7 307.0,820.5 309.0,820.9 311.0,820.7 313.0,820.5 315.0,821.3 317.0,821.1 319.0,820.4 321.0,820.9 323.0,820.8 325.0,821.4 327.0,820.2 329.0,799.1 331.0,793.4 333.0,817.9 335.0,820.7 337.0,821.2 339.0,820.2 341.0,820.8 343.0,820.1 345.0,821.1 347.0,821.2 349.0,820.9 351.0,821.4 353.0,820.5 355.0,821.1 357.0,821.0 359.0,820.9 361.0,820.7 363.0,821.3 365.0,821.5 367.0,820.8 369.0,821.1 371.0,820.1 373.0,821.1 375.0,821.0 377.0,821.6 379.0,821.3 381.0,820.5 383.0,820.6 385.0,821.1 387.0,820.0 389.0,820.7 391.0,820.3 393.0,820.2 395.0,820.1 397.0,821.2 399.0,820.2 401.0,820.4 403.0,820.6 405.0,821.4 407.0,820.1 409.0,820.7 411.0,820.9 413.0,821.4 415.0,821.3 417.0,821.4 419.0,820.4 421.0,820.7 423.0,820.6 425.0,821.4 427.0,821.5 429.0,820.2 431.0,820.3 433.0,820.4 435.0,820.4 437.0,820.8 439.0,820.9 441.0,820.4 443.0,818.8 445.0,809.4 447.0,806.9 449.0,818.6 451.0,821.5 453.0,821.1 455.0,820.8 457.0,821.0 459.0,821.1 461.0,820.1 463.0,821.4 465.0,821.2 467.0,821.4 469.0,821.3 471.0,820.6 473.0,820.6 475.0,820.2 477.0,821.0 479.0,818.9 481.0,819.0 483.0,820.3 485.0,820.3 487.0,820.5 489.0,820.1 491.0,820.0 493.0,820.2 495.0,820.2 497.0,820.6 499.0,820.0 501.0,821.4 503.0,820.7 505.0,818.4 507.0,820.1 509.0,820.6 511.0,820.6 513.0,820.2 515.0,821.4 517.0,821.6 519.0,820.7 521.0,820.8 523.0,820.1 525.0,820.2 527.0,820.5 529.0,820.4 531.0,821.3 533.0,820.3 535.0,820.0 537.0,821.5 539.0,820.8 541.0,820.2 543.0,820.9 545.0,820.0 547.0,820.8 549.0,821.6 551.0,821.4 553.0,821.1 555.0,820.4 557.0,820.6 559.0,820.2 561.0,819.5 563.0,818.0 565.0,820.8 567.0,820.5 569.0,820.4 571.0,821.3 573.0,821.6 575.0,821.4 577.0,821.3 579.0,821.3 581.0,821.2 583.0,820.4 585.0,820.8 587.0,820.6 589.0,820.0 591.0,820.0 593.0,820.4 595.0,820.4 597.0,821.1 599.0,820.1 601.0,819.2 603.0,821.5 605.0,821.6 607.0,821.5 609.0,820.6 611.0,820.3 613.0,820.1 615.0,817.6 617.0,816.2 619.0,820.2 621.0,821.4 623.0,821.3 625.0,820.8 627.0,821.0 629.0,821.3 631.0,820.1 633.0,821.1 635.0,821.5 637.0,821.3 639.0,821.2 641.0,820.8" fill="none" stroke="#1414f0" stroke-width="1.6" stroke-linejoin="round"/>
<path d="M97.2,695.4V827.2H641" fill="none" stroke="#000" stroke-width="1.9"/>
<text x="89.6" y="708.1" font-size="14.5" font-weight="bold" text-anchor="end" textLength="10" lengthAdjust="spacingAndGlyphs">4</text>
<text x="89.6" y="737.3000000000001" font-size="14.5" font-weight="bold" text-anchor="end" textLength="10" lengthAdjust="spacingAndGlyphs">3</text>
<text x="89.6" y="767.6" font-size="14.5" font-weight="bold" text-anchor="end" textLength="10" lengthAdjust="spacingAndGlyphs">2</text>
<text x="89.6" y="797.4000000000001" font-size="14.5" font-weight="bold" text-anchor="end" textLength="10" lengthAdjust="spacingAndGlyphs">1</text>
<text x="89.6" y="826.7" font-size="14.5" font-weight="bold" text-anchor="end" textLength="10" lengthAdjust="spacingAndGlyphs">0</text>
<text x="62.6" y="821.5" font-size="15" font-weight="bold" textLength="118" lengthAdjust="spacingAndGlyphs" transform="rotate(-90 62.6 821.5)">FFT Power  (a.u)</text>
<text x="128" y="792" font-size="13" textLength="73.8" lengthAdjust="spacingAndGlyphs" transform="rotate(-90 128 792)" stroke="#000" stroke-width="0.4">RESP BAND</text>
<text x="205.5" y="797.4" font-size="13" textLength="76.4" lengthAdjust="spacingAndGlyphs" transform="rotate(-90 205.5 797.4)" stroke="#000" stroke-width="0.4">CARD BAND</text>
<text x="99.3" y="845.9" font-size="14.6" font-weight="bold" text-anchor="middle" textLength="9.7" lengthAdjust="spacingAndGlyphs">0</text>
<text x="138.2" y="845.9" font-size="14.6" font-weight="bold" text-anchor="middle" textLength="24.4" lengthAdjust="spacingAndGlyphs">0.3</text>
<text x="204.0" y="845.9" font-size="14.6" font-weight="bold" text-anchor="middle" textLength="9.7" lengthAdjust="spacingAndGlyphs">1</text>
<text x="314.4" y="845.9" font-size="14.6" font-weight="bold" text-anchor="middle" textLength="9.7" lengthAdjust="spacingAndGlyphs">2</text>
<text x="424.1" y="845.9" font-size="14.6" font-weight="bold" text-anchor="middle" textLength="9.7" lengthAdjust="spacingAndGlyphs">3</text>
<text x="534.4" y="845.9" font-size="14.6" font-weight="bold" text-anchor="middle" textLength="9.7" lengthAdjust="spacingAndGlyphs">4</text>
<text x="636.1" y="845.9" font-size="14.6" font-weight="bold" text-anchor="middle" textLength="9.7" lengthAdjust="spacingAndGlyphs">5</text>
<text x="382.2" y="868.4" font-size="15.2" font-weight="bold" text-anchor="middle" textLength="109.7" lengthAdjust="spacingAndGlyphs">Frequency (Hz)</text>
<text x="547.2" y="753.4" font-size="16.1" font-weight="bold" fill="#1414e6">1 slice</text>
<text x="547.2" y="772.7" font-size="16.1" font-weight="bold" fill="#f0141e">2 slices</text>
<rect x="226.5" y="703.3" width="91.10000000000002" height="112.0" fill="#1a1aeb"/>
<rect x="230.0" y="706.8" width="84.10000000000002" height="105.0" fill="#000"/>
<rect x="341" y="705" width="91.6" height="111.6" fill="#000" opacity="0.15"/>
<rect x="339.8" y="703.3" width="91.39999999999998" height="111.80000000000007" fill="#f01a1a"/>
<rect x="343.3" y="706.8" width="84.39999999999998" height="104.80000000000007" fill="#000"/>
<rect x="104.5" y="848.5" width="92.1" height="110.89999999999998" fill="#1a1aeb"/>
<rect x="108.0" y="852.0" width="85.1" height="103.89999999999998" fill="#000"/>
<rect x="218.5" y="848.5" width="90.69999999999999" height="110.89999999999998" fill="#f01a1a"/>
<rect x="222.0" y="852.0" width="83.69999999999999" height="103.89999999999998" fill="#000"/>
<g transform="translate(272.2 759.2) scale(0.62 0.635)"><use href="#brainD"/><circle cx="-25" cy="60" r="8" fill="#8a8a8a"/><circle cx="29" cy="60" r="8" fill="#8a8a8a"/><circle cx="-23.1" cy="57.6" r="1.51" fill="#ff3a00"/><circle cx="-23.7" cy="58.9" r="2.14" fill="#ff6a00"/><circle cx="-20.9" cy="56.4" r="2.09" fill="#ffa800"/><circle cx="-27.8" cy="61.5" r="1.82" fill="#ff3a00"/><circle cx="-24.7" cy="58.5" r="1.47" fill="#ff3a00"/><circle cx="-25.8" cy="56.3" r="1.58" fill="#ffa800"/><circle cx="-26.2" cy="55.0" r="2.17" fill="#ff6a00"/><circle cx="-25.4" cy="55.5" r="1.80" fill="#ff1800"/><circle cx="-26.5" cy="61.3" r="1.29" fill="#ffa800"/><circle cx="-30.9" cy="58.7" r="1.97" fill="#ffe000"/><circle cx="-19.7" cy="61.5" r="1.31" fill="#ff6a00"/><circle cx="-20.6" cy="57.5" r="1.53" fill="#ffa800"/><circle cx="-28.0" cy="56.7" r="1.81" fill="#ff6a00"/><circle cx="-25.0" cy="57.5" r="1.76" fill="#ff3a00"/><circle cx="-21.1" cy="54.8" r="2.19" fill="#ff6a00"/><circle cx="-22.3" cy="60.3" r="1.70" fill="#ffe000"/><circle cx="26.6" cy="57.8" r="1.39" fill="#ffa800"/><circle cx="29.1" cy="61.7" r="2.18" fill="#ff3a00"/><circle cx="24.8" cy="56.9" r="1.56" fill="#ffa800"/><circle cx="30.3" cy="57.2" r="1.39" fill="#ffa800"/><circle cx="32.4" cy="60.6" r="1.66" fill="#ff6a00"/><circle cx="26.9" cy="58.1" r="1.20" fill="#ffe000"/><circle cx="32.2" cy="57.1" r="2.10" fill="#ff3a00"/><circle cx="29.3" cy="61.4" r="1.58" fill="#ffa800"/><circle cx="28.4" cy="58.0" r="2.10" fill="#ff6a00"/><circle cx="29.2" cy="59.7" r="2.03" fill="#ffe000"/><circle cx="22.6" cy="4.7" r="0.92" fill="#ff2a00"/><circle cx="24.2" cy="-7.3" r="0.98" fill="#ff1000"/><circle cx="-19.8" cy="-19.6" r="0.79" fill="#ff2a00"/><circle cx="30.6" cy="0.2" r="0.81" fill="#ff1800"/><circle cx="3.8" cy="17.5" r="0.72" fill="#ff1800"/><circle cx="25.7" cy="-15.1" r="0.72" fill="#ff1800"/><circle cx="18.0" cy="-0.8" r="0.97" fill="#ff1800"/><circle cx="-7.6" cy="29.5" r="1.06" fill="#ff2a00"/></g>
<g transform="translate(385.6 759.2) scale(0.62 0.635)"><use href="#brainD"/><circle cx="-25" cy="60" r="8" fill="#8a8a8a"/><circle cx="29" cy="60" r="8" fill="#8a8a8a"/><ellipse cx="-24" cy="58" rx="6.5" ry="7.5" fill="url(#hot)" transform="rotate(-30 -24 58)" filter="url(#rough2)"/><ellipse cx="29" cy="56" rx="6" ry="7" fill="url(#hot)" transform="rotate(20 29 56)" filter="url(#rough2)"/><circle cx="-21.2" cy="58.9" r="1.00" fill="#ff3a00"/><circle cx="-20.4" cy="61.5" r="1.64" fill="#ffa800"/><circle cx="-23.9" cy="63.6" r="1.10" fill="#ff3a00"/><circle cx="-29.9" cy="62.6" r="1.67" fill="#ffa800"/><circle cx="-22.9" cy="63.2" r="1.71" fill="#ffa800"/><circle cx="-24.8" cy="63.8" r="1.68" fill="#ff6a00"/><circle cx="-19.4" cy="62.8" r="1.72" fill="#ff6a00"/><circle cx="-25.3" cy="61.7" r="1.12" fill="#ff6a00"/><circle cx="-26.3" cy="59.4" r="1.05" fill="#ff6a00"/><circle cx="-27.9" cy="63.4" r="1.00" fill="#ff6a00"/><circle cx="33.3" cy="64.5" r="1.51" fill="#ffa800"/><circle cx="31.5" cy="62.6" r="1.10" fill="#ffa800"/><circle cx="28.0" cy="61.3" r="1.75" fill="#ff6a00"/><circle cx="27.2" cy="61.5" r="1.23" fill="#ff3a00"/><circle cx="25.5" cy="60.1" r="1.75" fill="#ffa800"/><circle cx="33.0" cy="63.1" r="1.18" fill="#ff3a00"/><circle cx="28.7" cy="61.3" r="1.31" fill="#ffa800"/><circle cx="26.8" cy="59.7" r="1.61" fill="#ff6a00"/><circle cx="27.2" cy="62.0" r="1.49" fill="#ffa800"/><circle cx="29.3" cy="58.8" r="1.51" fill="#ff6a00"/><circle cx="39.7" cy="6.5" r="0.73" fill="#ff1000"/><circle cx="-15.3" cy="-12.0" r="0.93" fill="#ff2a00"/><circle cx="32.2" cy="-3.0" r="0.77" fill="#ff1800"/><circle cx="31.1" cy="7.4" r="0.99" fill="#ff1000"/><circle cx="44.7" cy="14.0" r="0.99" fill="#ff2a00"/><circle cx="1.2" cy="-28.3" r="0.91" fill="#ff2a00"/><circle cx="-18.7" cy="-18.2" r="0.89" fill="#ff1800"/><circle cx="-28.0" cy="2.7" r="1.08" fill="#ff1800"/><circle cx="-7.6" cy="-1.1" r="0.77" fill="#ff2a00"/><circle cx="10.1" cy="-10.6" r="0.95" fill="#ff2a00"/><circle cx="-26.0" cy="-14.1" r="1.10" fill="#ff2a00"/><circle cx="-32.1" cy="-9.8" r="0.73" fill="#ff2a00"/></g>
<g transform="translate(151.0 904.7) scale(0.62 0.59)"><use href="#brainD"/><ellipse cx="-26" cy="59" rx="9" ry="8" fill="url(#hot)" transform="rotate(0 -26 59)" filter="url(#rough2)"/><ellipse cx="28" cy="59" rx="8" ry="8" fill="url(#hot)" transform="rotate(0 28 59)" filter="url(#rough2)"/><circle cx="-16.3" cy="59.5" r="1.23" fill="#ff6a00"/><circle cx="-22.4" cy="51.2" r="1.35" fill="#ff1800"/><circle cx="-26.5" cy="62.2" r="1.45" fill="#ff1800"/><circle cx="-25.5" cy="66.5" r="1.57" fill="#ff3a00"/><circle cx="-31.5" cy="65.5" r="1.42" fill="#ff1800"/><circle cx="-29.1" cy="54.8" r="1.43" fill="#ff3a00"/><circle cx="-28.1" cy="53.3" r="1.38" fill="#ff1800"/><circle cx="-33.0" cy="64.4" r="1.07" fill="#ff3a00"/><circle cx="-28.7" cy="59.5" r="1.27" fill="#ff6a00"/><circle cx="-31.8" cy="54.0" r="1.50" fill="#ff3a00"/><circle cx="-23.5" cy="57.5" r="1.03" fill="#ff6a00"/><circle cx="-27.3" cy="61.9" r="1.65" fill="#ff3a00"/><circle cx="-25.0" cy="60.3" r="1.54" fill="#ff3a00"/><circle cx="-21.4" cy="55.4" r="1.21" fill="#ff3a00"/><circle cx="-18.2" cy="60.4" r="1.03" fill="#ff1800"/><circle cx="-33.1" cy="63.9" r="1.00" fill="#ff1800"/><circle cx="-34.0" cy="63.6" r="1.53" fill="#ff3a00"/><circle cx="-29.5" cy="52.4" r="1.24" fill="#ff3a00"/><circle cx="-33.5" cy="59.5" r="1.49" fill="#ff3a00"/><circle cx="-25.0" cy="55.7" r="1.65" fill="#ff1800"/><circle cx="-33.8" cy="55.6" r="1.56" fill="#ff6a00"/><circle cx="-28.5" cy="60.5" r="1.12" fill="#ff3a00"/><circle cx="33.2" cy="62.6" r="1.79" fill="#ff1800"/><circle cx="22.8" cy="56.6" r="1.27" fill="#ff6a00"/><circle cx="27.4" cy="52.0" r="1.74" fill="#ff6a00"/><circle cx="19.4" cy="57.8" r="1.50" fill="#ff6a00"/><circle cx="22.2" cy="55.8" r="1.56" fill="#ff1800"/><circle cx="30.1" cy="51.8" r="1.63" fill="#ff1800"/><circle cx="28.7" cy="52.4" r="1.24" fill="#ff1800"/><circle cx="33.9" cy="53.2" r="1.69" fill="#ff6a00"/><circle cx="24.5" cy="66.2" r="1.64" fill="#ff6a00"/><circle cx="32.9" cy="53.2" r="1.76" fill="#ff3a00"/><circle cx="29.8" cy="51.4" r="1.23" fill="#ff3a00"/><circle cx="26.5" cy="56.4" r="1.73" fill="#ff3a00"/><circle cx="29.5" cy="54.5" r="1.59" fill="#ff6a00"/><circle cx="26.5" cy="53.1" r="1.06" fill="#ff6a00"/><circle cx="32.8" cy="54.2" r="1.72" fill="#ff3a00"/><circle cx="25.7" cy="54.7" r="1.27" fill="#ff3a00"/><circle cx="31.4" cy="66.5" r="1.59" fill="#ff6a00"/><circle cx="20.2" cy="57.9" r="1.39" fill="#ff3a00"/><circle cx="22.7" cy="52.7" r="1.74" fill="#ff1800"/><circle cx="31.8" cy="62.7" r="1.26" fill="#ff1800"/><circle cx="53.1" cy="-27.8" r="0.89" fill="#ff3a00"/><circle cx="-43.1" cy="-1.1" r="0.95" fill="#c84a10"/><circle cx="55.4" cy="-4.3" r="1.09" fill="#ff1800"/><circle cx="35.5" cy="18.0" r="0.92" fill="#ff1800"/><circle cx="50.9" cy="-22.2" r="0.97" fill="#c84a10"/><circle cx="-27.9" cy="37.6" r="1.03" fill="#ff3a00"/><circle cx="-46.7" cy="-5.5" r="0.85" fill="#c84a10"/><circle cx="-45.9" cy="0.1" r="0.90" fill="#ff3a00"/><circle cx="29.8" cy="36.6" r="0.77" fill="#ff3a00"/><circle cx="50.1" cy="-22.2" r="0.90" fill="#c84a10"/><circle cx="-32.4" cy="29.2" r="1.03" fill="#ff3a00"/><circle cx="-4.8" cy="37.2" r="0.85" fill="#c84a10"/><circle cx="27.6" cy="36.1" r="0.87" fill="#ff1800"/><circle cx="-12.0" cy="38.3" r="1.15" fill="#ff1800"/><circle cx="36.6" cy="15.2" r="0.92" fill="#ff1800"/><circle cx="32.1" cy="32.7" r="1.11" fill="#c84a10"/><circle cx="-32.8" cy="21.1" r="1.20" fill="#ff1800"/><circle cx="-43.3" cy="-18.4" r="0.76" fill="#ff3a00"/><circle cx="53.7" cy="-13.1" r="0.74" fill="#c84a10"/><circle cx="-40.9" cy="19.0" r="0.78" fill="#ff1800"/><circle cx="36.9" cy="15.6" r="1.15" fill="#ff3a00"/><circle cx="-51.1" cy="7.9" r="0.81" fill="#c84a10"/><circle cx="43.3" cy="15.8" r="0.84" fill="#ff3a00"/><circle cx="53.7" cy="-4.8" r="1.18" fill="#ff3a00"/><circle cx="-53.0" cy="4.4" r="0.95" fill="#ff1800"/><circle cx="44.0" cy="14.3" r="0.82" fill="#c84a10"/><circle cx="28.1" cy="36.3" r="1.01" fill="#ff3a00"/><circle cx="42.0" cy="10.1" r="1.08" fill="#ff3a00"/><circle cx="48.1" cy="10.8" r="0.81" fill="#ff3a00"/><circle cx="-43.5" cy="10.1" r="0.86" fill="#ff3a00"/><circle cx="-1.6" cy="37.2" r="0.81" fill="#ff1800"/><circle cx="-12.8" cy="42.6" r="0.88" fill="#ff3a00"/><circle cx="-46.9" cy="19.5" r="0.74" fill="#ff1800"/><circle cx="-26.8" cy="36.3" r="1.20" fill="#ff1800"/><circle cx="47.6" cy="-1.8" r="0.84" fill="#ff1800"/><circle cx="-31.5" cy="31.1" r="1.01" fill="#ff1800"/><circle cx="18.7" cy="33.8" r="1.12" fill="#ff3a00"/><circle cx="-50.7" cy="-33.1" r="0.99" fill="#ff1800"/><circle cx="54.5" cy="1.4" r="0.82" fill="#c84a10"/><circle cx="-28.9" cy="32.8" r="1.03" fill="#c84a10"/><circle cx="43.7" cy="-21.4" r="0.71" fill="#c84a10"/><circle cx="-32.6" cy="22.8" r="0.90" fill="#ff3a00"/><circle cx="-46.3" cy="-24.2" r="1.06" fill="#ff1800"/><circle cx="16.2" cy="35.2" r="1.00" fill="#ff1800"/><circle cx="20.4" cy="41.0" r="0.80" fill="#c84a10"/><circle cx="20.3" cy="34.5" r="0.81" fill="#ff3a00"/><circle cx="43.0" cy="-21.4" r="1.06" fill="#ff3a00"/><circle cx="40.1" cy="16.9" r="1.09" fill="#ff1800"/><circle cx="55.3" cy="-16.7" r="0.87" fill="#c84a10"/><circle cx="50.4" cy="-22.6" r="0.78" fill="#ff1800"/><circle cx="13.0" cy="-33.6" r="1.00" fill="#ff6a00"/><circle cx="13.8" cy="-55.2" r="1.01" fill="#ff3a00"/><circle cx="-13.5" cy="-52.1" r="0.91" fill="#ff6a00"/><circle cx="11.3" cy="-42.3" r="0.99" fill="#ff6a00"/><circle cx="-6.1" cy="-47.7" r="1.02" fill="#ff6a00"/><circle cx="-12.1" cy="-48.9" r="1.08" fill="#ff6a00"/><circle cx="7.5" cy="-34.4" r="1.04" fill="#ff3a00"/><circle cx="7.3" cy="-24.9" r="0.77" fill="#ff6a00"/><circle cx="16.1" cy="-34.7" r="0.83" fill="#ff6a00"/><circle cx="28.4" cy="-30.2" r="1.05" fill="#ff6a00"/><circle cx="-26.1" cy="-40.5" r="1.11" fill="#ff3a00"/><circle cx="2.2" cy="-53.5" r="1.00" fill="#ff6a00"/><circle cx="-16.5" cy="-34.6" r="0.84" fill="#ff6a00"/><circle cx="-10.6" cy="-37.9" r="0.96" fill="#ff3a00"/><circle cx="1.1" cy="-32.7" r="1.12" fill="#ff6a00"/><circle cx="12.3" cy="-47.9" r="0.91" fill="#ff6a00"/><circle cx="0.5" cy="-34.5" r="1.09" fill="#ff6a00"/><circle cx="-31.2" cy="-42.1" r="1.16" fill="#ff6a00"/><circle cx="-21.5" cy="-50.3" r="1.12" fill="#ff3a00"/><circle cx="-3.6" cy="-47.8" r="0.80" fill="#ff3a00"/></g>
<g transform="translate(264.8 904.7) scale(0.62 0.59)"><use href="#brainD"/><ellipse cx="-26" cy="57" rx="9" ry="9.5" fill="url(#hot)" transform="rotate(0 -26 57)" filter="url(#rough2)"/><ellipse cx="29" cy="57" rx="8" ry="9.5" fill="url(#hot)" transform="rotate(0 29 57)" filter="url(#rough2)"/><circle cx="-32.3" cy="61.2" r="1.49" fill="#ff6a00"/><circle cx="-30.9" cy="51.9" r="1.72" fill="#ff1800"/><circle cx="-24.2" cy="67.3" r="1.34" fill="#ff6a00"/><circle cx="-26.3" cy="48.0" r="1.80" fill="#ff6a00"/><circle cx="-18.1" cy="53.8" r="1.25" fill="#ff3a00"/><circle cx="-33.5" cy="64.1" r="1.33" fill="#ff3a00"/><circle cx="-33.9" cy="51.1" r="1.54" fill="#ff3a00"/><circle cx="-22.4" cy="66.1" r="1.61" fill="#ff1800"/><circle cx="-17.3" cy="61.5" r="1.61" fill="#ff3a00"/><circle cx="-18.4" cy="49.3" r="1.50" fill="#ff6a00"/><circle cx="-34.3" cy="61.8" r="1.54" fill="#ff6a00"/><circle cx="-35.4" cy="61.2" r="1.22" fill="#ff6a00"/><circle cx="-22.9" cy="49.2" r="1.54" fill="#ff3a00"/><circle cx="-30.6" cy="62.9" r="1.25" fill="#ff6a00"/><circle cx="-31.2" cy="52.1" r="1.50" fill="#ff6a00"/><circle cx="-32.9" cy="55.4" r="1.43" fill="#ff3a00"/><circle cx="-21.6" cy="64.0" r="1.51" fill="#ff6a00"/><circle cx="-18.6" cy="61.7" r="1.40" fill="#ff3a00"/><circle cx="32.9" cy="63.8" r="1.06" fill="#ff6a00"/><circle cx="19.8" cy="56.4" r="1.07" fill="#ff3a00"/><circle cx="22.3" cy="50.3" r="1.70" fill="#ff1800"/><circle cx="27.3" cy="65.0" r="1.39" fill="#ff6a00"/><circle cx="33.2" cy="63.2" r="1.27" fill="#ff1800"/><circle cx="34.5" cy="64.1" r="1.58" fill="#ff3a00"/><circle cx="20.2" cy="63.2" r="1.41" fill="#ff3a00"/><circle cx="32.4" cy="47.4" r="1.03" fill="#ff3a00"/><circle cx="35.3" cy="50.1" r="1.44" fill="#ff6a00"/><circle cx="27.5" cy="46.8" r="1.68" fill="#ff6a00"/><circle cx="23.8" cy="62.1" r="1.03" fill="#ff6a00"/><circle cx="28.8" cy="49.4" r="1.02" fill="#ff3a00"/><circle cx="36.2" cy="51.8" r="1.28" fill="#ff6a00"/><circle cx="20.9" cy="56.9" r="1.61" fill="#ff6a00"/><circle cx="36.2" cy="54.2" r="1.74" fill="#ff3a00"/><circle cx="36.9" cy="63.4" r="1.66" fill="#ff6a00"/><circle cx="24.5" cy="49.9" r="1.59" fill="#ff3a00"/><circle cx="26.4" cy="64.1" r="1.21" fill="#ff3a00"/><circle cx="17.1" cy="-60.7" r="1.49" fill="#ffa800"/><circle cx="0.3" cy="-31.7" r="0.88" fill="#ff3a00"/><circle cx="-13.1" cy="-58.4" r="1.50" fill="#ff6a00"/><circle cx="25.1" cy="-57.3" r="0.82" fill="#ff6a00"/><circle cx="-21.7" cy="-44.4" r="1.37" fill="#ffa800"/><circle cx="29.3" cy="-31.5" r="1.03" fill="#ffa800"/><circle cx="-13.9" cy="-50.6" r="1.15" fill="#ff6a00"/><circle cx="3.8" cy="-24.1" r="1.42" fill="#ffa800"/><circle cx="29.9" cy="-42.5" r="1.28" fill="#ff1800"/><circle cx="19.0" cy="-42.4" r="1.13" fill="#ff1800"/><circle cx="-34.7" cy="-36.9" r="1.48" fill="#ff6a00"/><circle cx="32.8" cy="-25.1" r="0.77" fill="#ff6a00"/><circle cx="-18.7" cy="-26.7" r="1.07" fill="#ffe000"/><circle cx="-11.7" cy="-30.5" r="1.35" fill="#ff1800"/><circle cx="-8.0" cy="-57.8" r="0.78" fill="#ff3a00"/><circle cx="21.4" cy="-26.2" r="0.90" fill="#ff6a00"/><circle cx="6.3" cy="-66.3" r="0.83" fill="#ff1800"/><circle cx="-1.8" cy="-40.6" r="1.43" fill="#ff3a00"/><circle cx="-9.3" cy="-26.8" r="1.14" fill="#ff3a00"/><circle cx="0.8" cy="-27.5" r="1.25" fill="#ffa800"/><circle cx="-38.6" cy="-28.6" r="0.88" fill="#ffa800"/><circle cx="29.4" cy="-23.0" r="0.96" fill="#ff1800"/><circle cx="22.0" cy="-28.8" r="0.81" fill="#ff3a00"/><circle cx="-23.5" cy="-61.8" r="1.22" fill="#ff3a00"/><circle cx="5.8" cy="-23.3" r="1.37" fill="#ff3a00"/><circle cx="-28.4" cy="-53.1" r="0.82" fill="#ff6a00"/><circle cx="11.8" cy="-23.4" r="0.84" fill="#ffe000"/><circle cx="4.9" cy="-59.3" r="0.75" fill="#ffa800"/><circle cx="22.7" cy="-32.1" r="1.32" fill="#ff6a00"/><circle cx="9.2" cy="-17.5" r="1.10" fill="#ffe000"/><circle cx="-37.0" cy="-35.0" r="1.48" fill="#ff6a00"/><circle cx="35.9" cy="-42.4" r="1.01" fill="#ff3a00"/><circle cx="-4.2" cy="-24.8" r="1.21" fill="#ffa800"/><circle cx="31.3" cy="-57.9" r="1.36" fill="#ffa800"/><circle cx="16.1" cy="-41.1" r="1.33" fill="#ffa800"/><circle cx="-23.9" cy="-39.6" r="0.73" fill="#ff1800"/><circle cx="-41.6" cy="-35.8" r="1.49" fill="#ffe000"/><circle cx="27.7" cy="-45.3" r="1.28" fill="#ffe000"/><circle cx="-24.0" cy="-63.4" r="1.29" fill="#ffa800"/><circle cx="-0.7" cy="-50.1" r="1.30" fill="#ff1800"/><circle cx="12.3" cy="-64.6" r="0.78" fill="#ffe000"/><circle cx="14.5" cy="-50.9" r="1.34" fill="#ff1800"/><circle cx="-9.9" cy="-57.1" r="1.02" fill="#ff3a00"/><circle cx="-30.5" cy="-46.3" r="1.29" fill="#ffe000"/><circle cx="23.5" cy="-44.1" r="0.76" fill="#ff3a00"/><circle cx="6.5" cy="-52.9" r="1.13" fill="#ff6a00"/><circle cx="23.0" cy="-47.1" r="1.16" fill="#ff1800"/><circle cx="31.7" cy="-26.2" r="1.09" fill="#ffe000"/><circle cx="-32.1" cy="-28.1" r="0.84" fill="#ff6a00"/><circle cx="33.1" cy="-39.6" r="0.88" fill="#ff1800"/><circle cx="-22.6" cy="-30.8" r="1.04" fill="#ffe000"/><circle cx="32.1" cy="-50.9" r="1.24" fill="#ffe000"/><circle cx="-7.5" cy="-65.2" r="1.07" fill="#ffe000"/><circle cx="26.0" cy="-25.7" r="1.29" fill="#ff1800"/><circle cx="32.1" cy="-55.7" r="1.06" fill="#ff6a00"/><circle cx="17.0" cy="-58.8" r="1.30" fill="#ff3a00"/><circle cx="22.4" cy="-23.5" r="1.38" fill="#ff3a00"/><circle cx="-2.2" cy="-24.5" r="1.12" fill="#ff1800"/><circle cx="2.8" cy="-63.1" r="0.77" fill="#ff3a00"/><circle cx="21.9" cy="-52.1" r="0.87" fill="#ff3a00"/><circle cx="-29.3" cy="-27.3" r="0.86" fill="#ff6a00"/><circle cx="15.9" cy="-55.1" r="1.10" fill="#ff1800"/><circle cx="32.4" cy="-59.0" r="0.87" fill="#ffe000"/><circle cx="-20.6" cy="-55.2" r="1.07" fill="#ffe000"/><circle cx="21.8" cy="-51.0" r="0.94" fill="#ff3a00"/><circle cx="8.5" cy="-58.1" r="1.08" fill="#ff1800"/><circle cx="13.5" cy="-64.3" r="1.36" fill="#ffa800"/><circle cx="-19.2" cy="-53.0" r="1.33" fill="#ffe000"/><circle cx="2.6" cy="-48.5" r="0.76" fill="#ff1800"/><circle cx="19.2" cy="-38.6" r="1.28" fill="#ff1800"/><circle cx="32.5" cy="-34.9" r="0.82" fill="#ffa800"/><circle cx="22.8" cy="-63.7" r="0.86" fill="#ff6a00"/><circle cx="14.4" cy="-62.8" r="1.18" fill="#ff1800"/><circle cx="26.3" cy="-30.7" r="1.38" fill="#ff1800"/><circle cx="32.5" cy="-39.4" r="0.75" fill="#ffe000"/><circle cx="-40.8" cy="-39.0" r="1.10" fill="#ff1800"/><circle cx="6.0" cy="-21.1" r="0.84" fill="#ff6a00"/><circle cx="-42.6" cy="-49.1" r="1.29" fill="#ffa800"/><circle cx="-23.4" cy="-55.9" r="1.13" fill="#ffa800"/><circle cx="-12.7" cy="-45.1" r="1.27" fill="#ff1800"/><circle cx="31.4" cy="-23.9" r="1.21" fill="#ff1800"/><circle cx="-41.9" cy="-43.7" r="1.41" fill="#ffe000"/><circle cx="14.1" cy="-58.0" r="1.17" fill="#ffe000"/><circle cx="-33.0" cy="-40.6" r="0.95" fill="#ffe000"/><circle cx="45.6" cy="-39.6" r="1.31" fill="#ffa800"/><circle cx="8.1" cy="-26.4" r="1.09" fill="#ff1800"/><circle cx="41.8" cy="-41.7" r="0.80" fill="#ffa800"/><circle cx="-14.5" cy="-53.5" r="1.27" fill="#ffe000"/><circle cx="9.0" cy="-54.0" r="0.76" fill="#ffe000"/><circle cx="32.4" cy="-33.4" r="1.12" fill="#ffa800"/><circle cx="-16.0" cy="-38.2" r="1.31" fill="#ff1800"/><circle cx="-11.5" cy="-35.0" r="0.96" fill="#ffe000"/><circle cx="41.9" cy="-44.5" r="1.37" fill="#ff1800"/><circle cx="10.1" cy="-48.5" r="0.76" fill="#ff1800"/><circle cx="41.3" cy="-39.3" r="1.38" fill="#ffe000"/><circle cx="-10.2" cy="-42.3" r="1.33" fill="#ff1800"/><circle cx="-8.0" cy="-29.0" r="1.29" fill="#ff1800"/><circle cx="38.2" cy="-29.0" r="1.24" fill="#ffe000"/><circle cx="37.4" cy="-54.7" r="1.10" fill="#ff6a00"/><circle cx="29.7" cy="-57.2" r="0.98" fill="#ffe000"/><circle cx="-37.8" cy="-51.5" r="0.72" fill="#ffa800"/><circle cx="-27.4" cy="-40.5" r="1.42" fill="#ff6a00"/><circle cx="6.7" cy="-48.3" r="0.78" fill="#ff6a00"/><circle cx="12.4" cy="-66.9" r="1.29" fill="#ff1800"/><circle cx="10.7" cy="-41.4" r="1.43" fill="#ffe000"/><circle cx="-7.8" cy="-23.9" r="0.74" fill="#ffa800"/><circle cx="-20.3" cy="-60.7" r="1.12" fill="#ff1800"/><circle cx="12.6" cy="-56.1" r="1.31" fill="#ff6a00"/><circle cx="-11.4" cy="-57.7" r="1.00" fill="#ff1800"/><circle cx="-26.8" cy="-49.0" r="0.70" fill="#ff6a00"/><circle cx="-43.1" cy="-24.4" r="1.35" fill="#ffe000"/><circle cx="-34.7" cy="-30.0" r="1.08" fill="#ffe000"/><circle cx="-41.6" cy="-22.3" r="1.09" fill="#ff6a00"/><circle cx="-36.2" cy="-23.8" r="0.97" fill="#ffff00"/><circle cx="-40.6" cy="-15.3" r="1.69" fill="#ffe000"/><circle cx="-37.4" cy="-21.5" r="0.92" fill="#ff6a00"/><circle cx="-36.4" cy="-26.5" r="1.55" fill="#ffa800"/><circle cx="-34.8" cy="-22.4" r="1.06" fill="#ffa800"/><circle cx="-39.0" cy="-27.2" r="1.22" fill="#ffe000"/><circle cx="-34.0" cy="-23.9" r="1.36" fill="#ffa800"/><circle cx="-36.3" cy="-18.8" r="1.66" fill="#ff6a00"/><circle cx="-44.2" cy="-23.7" r="1.51" fill="#ffa800"/><circle cx="-42.8" cy="-25.7" r="0.97" fill="#ffff00"/><circle cx="-36.0" cy="-36.0" r="1.45" fill="#ff6a00"/><circle cx="-39.6" cy="-23.9" r="1.60" fill="#ffe000"/><circle cx="-42.2" cy="-24.6" r="1.10" fill="#ffe000"/><circle cx="-42.2" cy="-25.2" r="0.90" fill="#ffe000"/><circle cx="-36.7" cy="-30.9" r="1.10" fill="#ffa800"/><circle cx="-40.2" cy="-21.8" r="1.57" fill="#ffe000"/><circle cx="-37.3" cy="-22.8" r="1.24" fill="#ffe000"/><circle cx="-35.9" cy="-27.3" r="1.50" fill="#ffff00"/><circle cx="-36.4" cy="-17.9" r="1.02" fill="#ffff00"/><circle cx="-34.7" cy="-26.7" r="1.04" fill="#ff6a00"/><circle cx="-40.8" cy="-23.9" r="1.67" fill="#ff6a00"/><circle cx="-44.5" cy="-24.8" r="0.94" fill="#ffe000"/><circle cx="-40.4" cy="-28.4" r="1.08" fill="#ffa800"/><circle cx="-34.0" cy="-17.4" r="1.33" fill="#ffff00"/><circle cx="-38.5" cy="-17.9" r="1.41" fill="#ff6a00"/><circle cx="-37.5" cy="-35.3" r="1.02" fill="#ffe000"/><circle cx="-39.8" cy="-27.5" r="1.61" fill="#ffe000"/><circle cx="-30.6" cy="-3.6" r="0.92" fill="#ff3a00"/><circle cx="12.7" cy="0.7" r="0.96" fill="#ff3a00"/><circle cx="19.0" cy="-29.4" r="0.87" fill="#ff1800"/><circle cx="24.9" cy="22.9" r="1.12" fill="#ff1800"/><circle cx="10.9" cy="-4.1" r="0.75" fill="#ff1800"/><circle cx="37.5" cy="1.4" r="1.15" fill="#ff1800"/><circle cx="25.1" cy="20.3" r="0.95" fill="#ff3a00"/><circle cx="-32.8" cy="16.3" r="0.70" fill="#ff1800"/><circle cx="39.4" cy="15.8" r="0.95" fill="#ff1800"/><circle cx="36.8" cy="-7.6" r="1.09" fill="#ff1800"/><circle cx="29.4" cy="-2.8" r="0.96" fill="#ff1800"/><circle cx="-41.4" cy="13.9" r="0.93" fill="#ff1800"/><circle cx="10.9" cy="0.1" r="1.17" fill="#ff3a00"/><circle cx="19.9" cy="-21.7" r="0.88" fill="#ff3a00"/><circle cx="-10.9" cy="-30.5" r="0.80" fill="#ff3a00"/><circle cx="-9.1" cy="-32.0" r="0.77" fill="#ff3a00"/><circle cx="22.9" cy="3.6" r="1.02" fill="#ff1800"/><circle cx="-2.0" cy="5.3" r="1.14" fill="#ff1800"/><circle cx="10.2" cy="-6.1" r="0.82" fill="#ff3a00"/><circle cx="37.1" cy="1.9" r="1.04" fill="#ff3a00"/><circle cx="11.9" cy="16.2" r="1.08" fill="#ff1800"/><circle cx="0.3" cy="3.4" r="1.06" fill="#ff3a00"/><circle cx="-0.2" cy="34.6" r="1.13" fill="#ff3a00"/><circle cx="-36.4" cy="1.7" r="0.98" fill="#ff1800"/><circle cx="-15.2" cy="-20.3" r="0.89" fill="#ff3a00"/><circle cx="-28.2" cy="24.7" r="0.77" fill="#ff1800"/><circle cx="8.5" cy="16.0" r="0.94" fill="#ff3a00"/><circle cx="22.1" cy="-13.3" r="1.09" fill="#ff1800"/><circle cx="16.4" cy="-28.7" r="0.90" fill="#ff1800"/><circle cx="-13.0" cy="-9.9" r="1.00" fill="#ff1800"/><circle cx="16.1" cy="-34.3" r="0.85" fill="#ff3a00"/><circle cx="-12.4" cy="-29.5" r="1.13" fill="#ff3a00"/><circle cx="-36.7" cy="-13.7" r="1.00" fill="#ff1800"/><circle cx="-17.6" cy="-2.1" r="1.12" fill="#ff1800"/><circle cx="-21.2" cy="-12.5" r="0.83" fill="#ff1800"/><circle cx="7.8" cy="35.2" r="0.97" fill="#ff1800"/><circle cx="8.1" cy="0.5" r="0.84" fill="#ff1800"/><circle cx="47.2" cy="-12.6" r="0.92" fill="#ff3a00"/><circle cx="-34.2" cy="22.6" r="0.80" fill="#ff3a00"/><circle cx="-20.5" cy="9.3" r="1.16" fill="#ff3a00"/></g>
<rect x="308.4" y="707.1" width="41.4" height="22.9" fill="#000"/>
<text x="328.8" y="723.3" font-size="12.6" text-anchor="middle" fill="#fff" textLength="35" lengthAdjust="spacingAndGlyphs">CARD</text>
<rect x="184.4" y="853" width="41.9" height="21" fill="#000"/>
<text x="205.3" y="868.2" font-size="12.6" text-anchor="middle" fill="#fff" textLength="33" lengthAdjust="spacingAndGlyphs">RESP</text>
<path d="M101.4,976.6V1256.3H287.8" fill="none" stroke="#000" stroke-width="1.6"/>
<path d="M93.3,1256.3H101.4M97.1,1242.4H101.4M97.1,1228.4H101.4M97.1,1214.5H101.4M97.1,1200.5H101.4M97.1,1186.6H101.4M97.1,1172.6H101.4M97.1,1158.7H101.4M97.1,1144.7H101.4M97.1,1130.8H101.4M93.3,1116.8H101.4M97.1,1102.9H101.4M97.1,1089.0H101.4M97.1,1075.0H101.4M97.1,1061.1H101.4M97.1,1047.1H101.4M97.1,1033.2H101.4M97.1,1019.2H101.4M97.1,1005.3H101.4M97.1,991.3H101.4M93.3,977.4H101.4M131.9,1250.6V1261.6M193.7,1250.6V1261.6M255.7,1250.6V1261.6" fill="none" stroke="#000" stroke-width="1.6"/>
<text x="91.2" y="1260.6499999999999" font-size="12.1" font-weight="bold" text-anchor="end">50</text>
<text x="91.2" y="1121.1999999999998" font-size="12.1" font-weight="bold" text-anchor="end">100</text>
<text x="91.2" y="981.7499999999999" font-size="12.1" font-weight="bold" text-anchor="end">150</text>
<text x="59.9" y="1173.2" font-size="15.4" font-weight="bold" textLength="111.2" lengthAdjust="spacingAndGlyphs" transform="rotate(-90 59.9 1173.2)">Amplitude (a.u)</text>
<text x="131.2" y="1280.3" font-size="15" font-weight="bold" text-anchor="middle">1SL</text>
<text x="189.4" y="1280.3" font-size="15" font-weight="bold" text-anchor="middle">2SL-1st</text>
<text x="257.4" y="1280.3" font-size="15" font-weight="bold" text-anchor="middle">2SL-2nd</text>
<polyline points="131.9,1064.2 193.9,1050.3 255.9,987.6" fill="none" stroke="#222" stroke-width="1"/>
<polyline points="131.9,1078.2 193.9,1056.5 255.9,1014.6" fill="none" stroke="#222" stroke-width="1"/>
<polyline points="131.9,1084.4 193.9,1057.4 255.9,1014.9" fill="none" stroke="#222" stroke-width="1"/>
<polyline points="131.9,1085.9 193.9,1076 255.9,1029.2" fill="none" stroke="#222" stroke-width="1"/>
<polyline points="131.9,1143.6 193.9,1086.6 255.9,989.8" fill="none" stroke="#222" stroke-width="1"/>
<polyline points="131.9,1153.2 193.9,1137.7 255.9,1059" fill="none" stroke="#222" stroke-width="1"/>
<circle cx="131.9" cy="1064.2" r="3.6"/>
<circle cx="193.9" cy="1050.3" r="3.6"/>
<circle cx="255.9" cy="987.6" r="3.6"/>
<circle cx="131.9" cy="1078.2" r="3.6"/>
<circle cx="193.9" cy="1056.5" r="3.6"/>
<circle cx="255.9" cy="1014.6" r="3.6"/>
<circle cx="131.9" cy="1084.4" r="3.6"/>
<circle cx="193.9" cy="1057.4" r="3.6"/>
<circle cx="255.9" cy="1014.9" r="3.6"/>
<circle cx="131.9" cy="1085.9" r="3.6"/>
<circle cx="193.9" cy="1076" r="3.6"/>
<circle cx="255.9" cy="1029.2" r="3.6"/>
<circle cx="131.9" cy="1143.6" r="3.6"/>
<circle cx="193.9" cy="1086.6" r="3.6"/>
<circle cx="255.9" cy="989.8" r="3.6"/>
<circle cx="131.9" cy="1153.2" r="3.6"/>
<circle cx="193.9" cy="1137.7" r="3.6"/>
<circle cx="255.9" cy="1059" r="3.6"/>
<path d="M454.8,977.0V1256.3H641.7" fill="none" stroke="#000" stroke-width="1.6"/>
<path d="M447,1256.3H454.8M450.3,1247.0H454.8M450.3,1237.7H454.8M450.3,1228.4H454.8M450.3,1219.2H454.8M450.3,1209.9H454.8M450.3,1200.6H454.8M450.3,1191.3H454.8M450.3,1182.0H454.8M450.3,1172.7H454.8M447,1163.5H454.8M450.3,1154.2H454.8M450.3,1144.9H454.8M450.3,1135.6H454.8M450.3,1126.3H454.8M450.3,1117.0H454.8M450.3,1107.7H454.8M450.3,1098.5H454.8M450.3,1089.2H454.8M450.3,1079.9H454.8M447,1070.6H454.8M450.3,1061.3H454.8M450.3,1052.0H454.8M450.3,1042.7H454.8M450.3,1033.5H454.8M450.3,1024.2H454.8M450.3,1014.9H454.8M450.3,1005.6H454.8M450.3,996.3H454.8M450.3,987.0H454.8M447,977.8H454.8M491.8,1250.6V1261.6M547.4,1250.6V1261.6M602.9,1250.6V1261.6" fill="none" stroke="#000" stroke-width="1.6"/>
<text x="444.0" y="1261.3" font-size="13.8" font-weight="bold" text-anchor="end">0</text>
<text x="444.0" y="1168.45" font-size="13.8" font-weight="bold" text-anchor="end">100</text>
<text x="444.0" y="1075.6" font-size="13.8" font-weight="bold" text-anchor="end">200</text>
<text x="444.0" y="982.75" font-size="13.8" font-weight="bold" text-anchor="end">300</text>
<text x="408.2" y="1175.2" font-size="15.4" font-weight="bold" textLength="114.5" lengthAdjust="spacingAndGlyphs" transform="rotate(-90 408.2 1175.2)">FFT Power (a.u)</text>
<text x="492.8" y="1280.3" font-size="15" font-weight="bold" text-anchor="middle">1SL</text>
<text x="542.4" y="1280.3" font-size="15" font-weight="bold" text-anchor="middle">2SL-1st</text>
<text x="609.5" y="1280.3" font-size="15" font-weight="bold" text-anchor="middle">2SL-2nd</text>
<polyline points="492,1181.3 547.6,1017.1 603.4,1000" fill="none" stroke="#222" stroke-width="1"/>
<polyline points="492,1183.7 547.6,1057.4 603.4,1027" fill="none" stroke="#222" stroke-width="1"/>
<polyline points="492,1186.5 547.6,1049.3 603.4,1020.6" fill="none" stroke="#222" stroke-width="1"/>
<polyline points="492,1190.6 547.6,1047.2 603.4,1020.2" fill="none" stroke="#222" stroke-width="1"/>
<polyline points="492,1198.6 547.6,1041.6 603.4,1015.2" fill="none" stroke="#222" stroke-width="1"/>
<polyline points="492,1221.9 547.6,1059 603.4,1029.2" fill="none" stroke="#222" stroke-width="1"/>
<circle cx="492" cy="1181.3" r="3.6"/>
<circle cx="547.6" cy="1017.1" r="3.6"/>
<circle cx="603.4" cy="1000" r="3.6"/>
<circle cx="492" cy="1183.7" r="3.6"/>
<circle cx="547.6" cy="1057.4" r="3.6"/>
<circle cx="603.4" cy="1027" r="3.6"/>
<circle cx="492" cy="1186.5" r="3.6"/>
<circle cx="547.6" cy="1049.3" r="3.6"/>
<circle cx="603.4" cy="1020.6" r="3.6"/>
<circle cx="492" cy="1190.6" r="3.6"/>
<circle cx="547.6" cy="1047.2" r="3.6"/>
<circle cx="603.4" cy="1020.2" r="3.6"/>
<circle cx="492" cy="1198.6" r="3.6"/>
<circle cx="547.6" cy="1041.6" r="3.6"/>
<circle cx="603.4" cy="1015.2" r="3.6"/>
<circle cx="492" cy="1221.9" r="3.6"/>
<circle cx="547.6" cy="1059" r="3.6"/>
<circle cx="603.4" cy="1029.2" r="3.6"/>
</svg></body></html>
